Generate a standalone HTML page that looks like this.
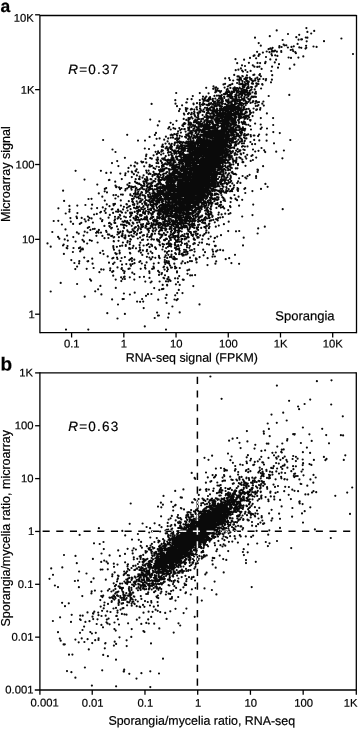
<!DOCTYPE html>
<html><head><meta charset="utf-8"><title>Figure</title>
<style>html,body{margin:0;padding:0;background:#fff;}body{width:358px;height:731px;overflow:hidden;font-family:"Liberation Sans",sans-serif;}svg{display:block;will-change:transform;}</style>
</head><body>
<svg width="358" height="731" viewBox="0 0 358 731" font-family="Liberation Sans, sans-serif" fill="#000" stroke="#000" stroke-width="0.2"><rect x="0" y="0" width="358" height="731" fill="#fff" stroke="none"/><path d="M208.6 185.8h0M203.0 220.5h0M201.0 201.5h0M221.7 139.3h0M167.6 149.9h0M212.3 215.7h0M256.3 83.4h0M192.3 207.4h0M193.6 204.1h0M200.3 169.6h0M198.5 150.3h0M223.7 147.0h0M238.4 143.7h0M178.1 167.1h0M209.7 173.5h0M200.9 178.6h0M177.2 293.1h0M185.8 203.6h0M207.8 185.5h0M179.2 276.1h0M233.2 137.8h0M194.2 128.7h0M204.1 184.6h0M231.0 103.1h0M212.8 100.4h0M206.6 174.6h0M169.7 169.4h0M189.3 225.4h0M216.0 186.2h0M186.0 174.5h0M210.2 172.7h0M218.3 142.6h0M251.5 89.4h0M191.6 134.1h0M204.2 192.3h0M218.0 135.5h0M220.8 158.6h0M247.0 81.3h0M195.9 208.6h0M225.6 127.7h0M225.6 145.5h0M198.5 217.0h0M199.9 174.1h0M193.0 211.2h0M194.5 187.2h0M193.4 197.5h0M216.8 115.4h0M206.5 177.3h0M213.9 173.8h0M174.3 215.3h0M222.5 157.6h0M199.2 183.1h0M210.4 107.6h0M208.4 160.7h0M224.0 152.9h0M212.0 126.9h0M137.0 206.7h0M207.0 159.8h0M140.3 261.2h0M220.2 182.3h0M192.1 183.8h0M191.3 187.1h0M174.6 190.8h0M223.4 127.0h0M189.4 166.6h0M196.5 141.5h0M201.8 162.4h0M211.6 116.5h0M191.9 250.1h0M193.6 137.7h0M188.4 190.4h0M196.0 150.0h0M141.3 215.8h0M231.9 189.4h0M185.3 123.5h0M200.2 210.9h0M96.4 235.8h0M175.9 222.0h0M225.8 180.2h0M183.2 126.1h0M174.3 134.2h0M196.8 228.7h0M197.9 178.5h0M201.7 132.2h0M175.1 217.7h0M168.7 187.4h0M196.3 180.2h0M236.4 159.4h0M195.1 163.4h0M215.3 141.5h0M253.1 101.2h0M208.7 216.2h0M187.4 169.6h0M203.0 178.0h0M197.0 152.8h0M169.7 198.6h0M228.6 96.4h0M183.6 158.9h0M205.0 98.4h0M188.5 121.8h0M140.2 249.5h0M192.4 189.0h0M217.0 165.3h0M185.4 175.5h0M172.3 215.6h0M214.7 155.5h0M204.0 182.3h0M186.8 191.5h0M205.2 156.9h0M222.0 175.0h0M176.3 200.2h0M160.9 223.3h0M191.6 127.1h0M179.9 230.8h0M242.6 83.3h0M213.5 198.8h0M172.8 205.9h0M230.8 124.5h0M213.9 164.3h0M205.5 206.6h0M221.1 91.0h0M230.2 186.1h0M182.2 203.6h0M195.5 174.4h0M179.5 195.8h0M207.4 139.5h0M210.6 135.1h0M124.9 157.8h0M224.0 132.0h0M208.2 155.8h0M140.1 237.4h0M192.9 180.6h0M234.8 155.0h0M215.9 146.1h0M157.0 239.4h0M222.4 167.1h0M134.5 263.2h0M194.2 174.7h0M185.1 175.2h0M168.9 220.3h0M204.5 197.7h0M208.1 181.4h0M186.8 165.1h0M172.9 216.6h0M203.8 163.5h0M161.6 227.1h0M227.6 110.0h0M186.8 165.5h0M181.1 175.1h0M170.1 238.8h0M179.6 143.1h0M187.3 205.3h0M182.5 190.8h0M165.3 194.9h0M177.7 186.2h0M148.2 253.6h0M204.4 154.1h0M206.1 161.9h0M212.7 135.8h0M215.7 105.1h0M244.1 137.4h0M189.5 224.9h0M181.2 210.2h0M234.2 119.8h0M197.5 183.7h0M193.8 170.8h0M194.6 182.8h0M228.7 189.2h0M220.8 150.8h0M187.5 245.0h0M186.1 169.4h0M200.3 186.1h0M223.5 186.8h0M222.7 132.7h0M239.8 108.3h0M218.1 163.4h0M193.6 200.1h0M204.1 206.5h0M189.7 196.3h0M229.2 119.9h0M156.7 224.4h0M221.1 204.8h0M180.8 216.5h0M198.3 175.5h0M198.0 225.0h0M222.5 103.9h0M232.7 98.4h0M225.1 94.2h0M212.9 143.4h0M205.7 142.8h0M223.7 133.3h0M192.1 180.0h0M215.2 101.5h0M187.1 182.3h0M217.3 129.7h0M177.5 191.0h0M245.4 94.6h0M222.6 151.3h0M173.7 232.8h0M169.9 177.0h0M188.2 206.1h0M160.4 189.0h0M195.2 184.4h0M217.8 134.0h0M181.2 180.7h0M217.9 101.7h0M164.9 204.7h0M207.0 244.1h0M170.9 212.3h0M226.6 105.1h0M226.8 154.8h0M217.0 152.2h0M235.2 119.8h0M144.0 185.9h0M155.8 204.2h0M276.2 151.7h0M175.8 213.8h0M174.9 204.1h0M224.1 123.0h0M198.5 200.4h0M145.5 217.4h0M220.0 134.9h0M194.0 180.6h0M200.7 187.1h0M195.0 184.2h0M210.5 116.4h0M170.0 189.3h0M135.2 186.5h0M204.9 207.8h0M146.4 205.0h0M199.8 153.4h0M211.0 195.4h0M166.3 214.6h0M185.1 219.5h0M216.0 128.9h0M241.0 97.0h0M191.1 188.3h0M206.2 137.7h0M213.0 179.6h0M162.2 235.7h0M177.5 159.7h0M202.5 143.4h0M206.9 168.4h0M146.5 189.0h0M239.3 117.5h0M213.6 159.9h0M244.9 123.9h0M175.3 189.5h0M188.8 208.7h0M171.0 159.5h0M191.1 158.9h0M197.4 177.2h0M220.1 137.8h0M211.8 142.6h0M205.0 153.7h0M178.8 168.5h0M219.4 113.1h0M189.2 198.8h0M201.6 181.2h0M216.9 149.9h0M237.4 112.2h0M201.5 200.0h0M191.2 123.4h0M213.1 123.8h0M218.0 123.3h0M216.1 113.1h0M204.9 222.6h0M220.2 145.7h0M207.1 150.7h0M182.0 209.1h0M209.6 185.3h0M211.4 133.3h0M195.0 166.0h0M190.2 217.7h0M210.3 159.3h0M208.0 194.2h0M229.1 116.5h0M197.3 196.0h0M161.8 201.6h0M157.2 208.0h0M189.6 190.6h0M151.8 158.7h0M232.5 108.9h0M209.6 175.0h0M185.5 199.3h0M213.4 133.9h0M224.3 145.3h0M195.5 176.8h0M199.4 198.3h0M211.4 220.3h0M236.1 122.4h0M228.2 132.8h0M188.7 204.5h0M194.5 187.7h0M193.9 195.3h0M165.6 298.1h0M191.0 233.2h0M139.8 210.6h0M177.0 201.6h0M211.5 161.6h0M158.5 187.4h0M216.0 132.8h0M168.2 199.5h0M190.9 199.3h0M199.3 195.3h0M218.7 167.1h0M210.6 159.6h0M187.7 164.4h0M236.6 99.5h0M192.5 210.8h0M214.4 177.4h0M160.8 160.7h0M200.5 178.0h0M144.0 195.4h0M212.9 160.0h0M185.5 208.7h0M181.8 226.1h0M214.6 160.7h0M225.8 124.7h0M159.0 199.6h0M167.2 285.4h0M233.8 126.5h0M184.9 194.4h0M179.7 208.0h0M117.0 226.4h0M235.3 121.9h0M217.5 115.5h0M134.3 274.1h0M216.1 120.6h0M203.1 131.6h0M188.9 180.8h0M216.4 167.3h0M196.5 198.5h0M244.6 133.8h0M199.3 224.6h0M198.9 138.1h0M190.7 200.7h0M243.4 109.8h0M228.1 170.2h0M209.7 99.3h0M180.9 151.7h0M214.1 151.5h0M179.3 195.2h0M179.8 168.2h0M236.0 106.9h0M134.7 292.7h0M117.6 218.6h0M172.8 225.2h0M214.5 142.5h0M211.3 161.5h0M225.2 139.6h0M224.7 122.2h0M228.5 99.4h0M174.0 173.4h0M195.0 121.9h0M205.5 131.5h0M192.1 213.4h0M207.0 171.4h0M240.6 132.7h0M186.4 190.2h0M154.3 145.3h0M207.3 175.9h0M222.5 147.6h0M172.1 174.7h0M129.1 186.1h0M198.1 176.8h0M218.3 161.6h0M137.6 203.3h0M167.7 215.7h0M204.3 132.0h0M201.4 124.4h0M186.3 119.9h0M165.9 262.2h0M159.5 234.3h0M201.8 140.2h0M72.9 252.0h0M235.6 136.6h0M177.4 173.7h0M195.2 172.8h0M142.7 224.8h0M234.8 102.0h0M178.9 151.9h0M194.2 183.3h0M225.0 109.4h0M224.2 141.0h0M160.8 169.3h0M159.3 217.1h0M178.6 199.7h0M210.2 208.5h0M149.5 199.7h0M191.7 193.9h0M161.6 211.6h0M193.5 191.3h0M202.0 196.9h0M210.7 150.1h0M221.8 130.0h0M188.4 199.2h0M208.7 129.7h0M166.9 226.1h0M129.6 183.0h0M200.4 153.7h0M148.7 232.1h0M215.6 127.8h0M206.5 174.6h0M229.5 115.4h0M174.9 248.0h0M208.8 180.8h0M85.4 205.0h0M215.4 147.5h0M180.4 204.7h0M185.4 193.4h0M160.6 187.6h0M186.5 238.6h0M225.1 165.9h0M214.6 163.8h0M185.0 192.4h0M187.7 209.4h0M217.8 154.4h0M215.4 190.2h0M239.3 136.8h0M198.4 178.4h0M184.7 200.7h0M229.7 109.2h0M189.4 196.0h0M231.5 91.7h0M182.0 243.0h0M184.8 169.7h0M186.2 163.2h0M191.7 195.2h0M184.1 175.5h0M180.2 196.4h0M191.7 113.9h0M205.1 179.5h0M194.7 179.1h0M165.3 230.3h0M235.7 101.7h0M202.7 168.0h0M175.2 186.4h0M221.6 178.3h0M219.7 111.4h0M206.3 182.6h0M235.4 138.9h0M205.4 134.7h0M178.0 216.7h0M201.6 135.0h0M213.0 168.1h0M176.7 198.5h0M161.5 193.9h0M212.4 178.6h0M194.0 205.4h0M180.8 169.4h0M208.1 185.3h0M184.4 207.1h0M227.8 191.0h0M214.7 187.4h0M191.3 162.8h0M188.8 179.1h0M185.4 161.7h0M188.3 197.8h0M204.7 159.9h0M208.5 169.5h0M185.4 199.1h0M165.9 173.4h0M190.6 154.8h0M199.9 208.2h0M217.9 159.9h0M173.3 210.9h0M178.8 202.6h0M196.9 167.4h0M187.3 194.5h0M204.8 99.9h0M221.9 161.0h0M160.4 213.4h0M195.7 181.2h0M138.9 179.0h0M193.0 189.7h0M221.6 190.9h0M143.4 181.7h0M233.2 164.5h0M226.5 132.7h0M195.4 148.9h0M178.9 149.0h0M215.4 165.6h0M168.9 313.7h0M217.8 156.6h0M194.7 167.4h0M177.3 158.8h0M205.3 181.4h0M118.9 237.2h0M189.5 218.7h0M170.7 159.5h0M181.3 145.4h0M138.3 217.8h0M214.6 172.4h0M147.4 191.7h0M208.3 111.2h0M186.3 214.5h0M210.9 151.6h0M225.8 172.5h0M237.1 135.1h0M214.6 164.4h0M189.0 208.4h0M135.6 208.3h0M180.4 170.2h0M175.5 200.5h0M196.1 168.6h0M176.8 159.0h0M174.8 177.8h0M200.6 135.6h0M220.5 152.1h0M193.5 193.8h0M175.3 200.8h0M221.2 106.9h0M189.9 196.6h0M163.0 206.9h0M195.0 167.2h0M200.0 108.4h0M198.3 191.4h0M231.6 142.4h0M195.7 187.6h0M210.0 159.4h0M199.6 187.0h0M252.1 144.2h0M201.4 170.5h0M167.6 175.6h0M167.1 186.4h0M224.0 135.9h0M186.9 245.5h0M218.8 148.5h0M218.5 150.7h0M214.2 143.9h0M185.9 109.7h0M176.8 164.7h0M140.3 201.0h0M178.0 194.1h0M191.7 134.7h0M222.4 124.5h0M204.3 152.7h0M104.8 200.6h0M214.0 171.8h0M185.7 227.2h0M157.5 188.9h0M193.6 185.4h0M201.2 200.5h0M177.5 198.5h0M216.4 155.5h0M214.1 144.0h0M223.2 166.3h0M200.5 171.9h0M218.0 125.4h0M206.9 166.7h0M201.7 187.3h0M224.1 124.3h0M213.3 124.7h0M203.9 131.0h0M202.8 147.7h0M146.8 245.2h0M236.0 96.6h0M219.3 132.7h0M216.1 129.5h0M198.4 170.3h0M240.0 91.5h0M219.2 168.6h0M232.3 129.2h0M199.8 145.8h0M187.6 203.5h0M211.3 132.8h0M189.3 185.0h0M197.3 162.9h0M188.8 164.1h0M123.9 206.8h0M175.2 128.8h0M175.4 227.4h0M193.9 219.6h0M167.7 190.0h0M234.7 104.8h0M180.2 189.5h0M198.8 183.3h0M163.4 201.0h0M210.6 137.6h0M164.0 240.1h0M70.4 218.1h0M225.6 120.2h0M205.0 151.9h0M191.6 99.2h0M187.9 208.8h0M171.4 224.8h0M163.5 277.8h0M200.2 184.5h0M179.2 189.8h0M162.9 191.0h0M176.2 180.3h0M153.9 239.6h0M222.8 184.1h0M228.6 154.5h0M185.8 174.4h0M230.5 93.4h0M190.6 195.6h0M195.9 192.5h0M186.9 164.5h0M134.7 211.9h0M212.4 199.1h0M219.1 154.6h0M200.3 112.2h0M190.6 123.6h0M190.9 132.8h0M211.1 150.4h0M206.8 167.4h0M161.2 228.8h0M178.6 147.0h0M177.3 220.8h0M203.1 191.2h0M175.9 212.3h0M191.9 162.5h0M252.0 80.5h0M179.8 202.8h0M190.8 142.3h0M221.6 125.5h0M126.9 204.4h0M202.1 191.8h0M220.4 137.3h0M191.4 145.5h0M173.7 233.2h0M235.7 145.6h0M98.8 193.4h0M219.1 123.1h0M204.3 206.5h0M176.5 120.8h0M192.5 174.7h0M207.8 100.2h0M192.9 178.2h0M118.5 211.2h0M198.1 113.8h0M191.9 146.4h0M185.1 200.2h0M197.2 184.1h0M212.9 151.6h0M207.2 186.2h0M208.4 168.2h0M187.4 213.7h0M189.6 149.0h0M179.5 199.3h0M267.6 186.8h0M218.5 197.4h0M214.0 159.6h0M204.1 195.7h0M201.9 193.0h0M194.7 160.7h0M253.5 96.9h0M152.1 246.1h0M184.2 194.5h0M258.1 136.1h0M134.8 196.3h0M214.4 147.0h0M161.3 169.8h0M159.4 213.3h0M197.7 167.5h0M202.3 148.3h0M210.4 150.6h0M213.2 112.1h0M212.2 138.4h0M187.1 146.0h0M210.7 130.9h0M187.4 108.6h0M207.4 169.4h0M190.0 137.7h0M195.2 197.2h0M159.6 227.0h0M204.3 146.3h0M209.9 180.5h0M198.3 173.7h0M194.2 111.6h0M227.6 122.2h0M202.0 170.3h0M162.7 205.1h0M203.6 109.5h0M193.6 182.8h0M167.5 214.2h0M208.1 214.6h0M239.2 84.0h0M222.2 175.3h0M221.5 158.5h0M168.2 199.6h0M212.7 111.2h0M226.9 145.1h0M173.0 206.2h0M200.9 169.8h0M193.9 168.0h0M119.4 250.7h0M193.8 152.5h0M214.1 102.4h0M170.6 161.2h0M214.1 127.5h0M245.2 113.2h0M216.3 180.1h0M165.0 240.2h0M195.2 181.2h0M197.5 188.0h0M235.3 153.0h0M198.1 180.4h0M172.0 198.7h0M183.4 182.2h0M197.7 204.9h0M230.5 178.3h0M203.9 135.1h0M145.0 181.6h0M208.4 172.1h0M217.0 129.7h0M193.3 185.2h0M198.3 206.8h0M222.0 124.1h0M142.5 177.7h0M102.3 196.7h0M201.1 162.5h0M187.5 145.8h0M207.8 158.9h0M165.7 177.4h0M179.1 191.8h0M135.7 179.2h0M217.3 118.7h0M167.8 206.9h0M190.1 227.4h0M249.1 117.5h0M208.4 142.9h0M190.0 131.0h0M207.4 211.6h0M179.3 223.6h0M236.5 103.2h0M214.1 154.1h0M233.5 134.2h0M221.0 169.8h0M184.4 226.7h0M235.4 110.4h0M202.0 130.6h0M184.2 171.7h0M193.4 175.5h0M185.8 198.0h0M200.7 166.3h0M224.2 125.3h0M205.7 156.7h0M145.1 265.3h0M115.4 198.5h0M232.2 120.5h0M189.0 205.6h0M189.9 151.3h0M189.6 202.2h0M243.3 90.1h0M176.5 215.3h0M184.8 129.1h0M173.1 168.3h0M174.5 189.4h0M233.6 173.9h0M202.6 129.6h0M209.7 124.9h0M171.2 147.8h0M220.6 105.6h0M218.8 138.0h0M184.3 123.2h0M136.7 169.3h0M219.0 157.0h0M193.5 182.0h0M197.7 147.3h0M241.7 99.7h0M218.7 153.9h0M132.0 199.1h0M208.2 143.8h0M216.3 162.7h0M167.1 199.0h0M195.3 162.9h0M190.7 218.3h0M164.2 225.7h0M183.4 151.3h0M167.9 196.9h0M185.6 143.5h0M231.3 125.0h0M163.1 166.4h0M206.5 183.5h0M120.4 231.7h0M220.8 126.1h0M150.2 194.4h0M191.3 170.4h0M233.0 123.5h0M185.9 254.6h0M207.2 192.7h0M218.6 123.0h0M175.0 222.4h0M228.3 117.9h0M231.8 115.6h0M192.1 154.0h0M206.0 232.7h0M235.0 99.4h0M193.2 225.7h0M203.2 184.5h0M239.7 109.6h0M164.2 180.1h0M190.1 168.6h0M163.8 179.7h0M177.4 197.0h0M184.0 191.0h0M176.6 300.2h0M179.3 128.1h0M230.0 206.2h0M199.1 163.4h0M201.2 202.4h0M204.4 219.3h0M60.7 282.9h0M205.6 145.3h0M231.9 168.0h0M183.9 236.2h0M184.7 159.0h0M154.9 233.7h0M205.1 162.8h0M164.6 159.2h0M186.7 199.2h0M184.3 170.0h0M183.4 167.5h0M212.2 160.5h0M245.5 165.8h0M224.7 125.0h0M234.0 108.0h0M181.0 198.9h0M177.0 179.7h0M192.7 190.4h0M203.9 204.8h0M215.9 140.1h0M224.0 140.6h0M205.4 146.9h0M239.4 150.4h0M142.5 199.7h0M211.4 159.1h0M213.9 152.9h0M196.9 186.9h0M195.6 133.2h0M189.2 118.6h0M181.3 192.9h0M185.1 199.2h0M184.1 149.4h0M164.5 186.9h0M237.3 99.8h0M215.3 162.6h0M179.8 181.1h0M197.8 143.5h0M190.2 156.0h0M227.4 184.3h0M199.6 182.3h0M218.1 127.6h0M202.0 193.8h0M251.0 112.8h0M187.5 251.8h0M188.0 135.8h0M209.8 143.5h0M201.9 135.4h0M145.3 281.6h0M184.7 148.1h0M182.3 183.8h0M115.7 279.6h0M174.6 238.3h0M230.6 102.6h0M163.6 175.3h0M151.2 183.4h0M165.8 193.4h0M214.4 154.5h0M212.9 153.5h0M244.9 82.1h0M175.3 100.2h0M182.8 178.2h0M213.4 111.8h0M208.9 135.8h0M180.9 154.2h0M219.3 110.5h0M220.6 98.6h0M258.2 228.4h0M209.5 166.1h0M208.2 136.2h0M183.5 194.0h0M239.6 87.7h0M215.9 142.3h0M151.1 244.6h0M172.6 220.6h0M215.6 186.9h0M240.1 115.8h0M213.5 152.3h0M246.8 97.5h0M217.0 138.4h0M206.3 96.5h0M190.2 122.5h0M173.3 186.6h0M222.9 117.3h0M226.8 127.9h0M192.2 221.7h0M194.1 154.5h0M189.4 154.1h0M233.9 114.3h0M211.4 204.0h0M176.3 190.8h0M199.4 177.9h0M211.2 185.1h0M229.9 117.3h0M208.5 144.5h0M143.6 181.7h0M193.8 239.5h0M189.0 206.8h0M192.0 187.3h0M185.2 175.0h0M219.9 91.5h0M170.8 219.1h0M225.2 109.6h0M242.3 123.0h0M135.4 192.4h0M201.9 206.1h0M181.7 202.8h0M214.9 167.9h0M185.6 131.6h0M234.8 100.2h0M195.7 211.9h0M164.8 260.0h0M183.1 142.2h0M166.5 214.4h0M209.1 162.4h0M158.1 151.4h0M163.9 173.6h0M244.5 86.6h0M179.1 166.9h0M223.8 135.3h0M135.8 194.4h0M125.5 173.3h0M140.1 214.9h0M217.6 220.3h0M189.4 152.1h0M209.5 147.3h0M174.3 233.2h0M175.1 173.5h0M244.7 116.5h0M231.6 103.7h0M167.3 279.1h0M153.3 181.2h0M177.0 106.2h0M133.9 174.2h0M192.3 173.5h0M195.2 166.1h0M182.0 239.0h0M197.4 237.7h0M217.2 122.2h0M214.5 127.2h0M207.7 163.0h0M201.6 209.2h0M156.3 185.7h0M194.8 196.2h0M187.2 180.9h0M208.3 137.0h0M191.7 206.9h0M219.0 90.9h0M160.5 193.0h0M224.0 134.5h0M197.7 170.0h0M152.5 257.2h0M189.0 177.1h0M233.8 106.9h0M192.6 165.4h0M200.6 189.2h0M232.9 106.9h0M242.0 143.4h0M249.5 93.2h0M214.9 177.2h0M195.4 160.0h0M198.5 173.4h0M196.6 149.4h0M261.0 188.9h0M213.5 130.9h0M182.8 222.6h0M193.3 244.1h0M166.7 172.3h0M180.5 169.3h0M157.8 213.3h0M188.9 148.6h0M148.5 204.9h0M198.8 148.2h0M205.6 195.2h0M215.4 154.3h0M192.6 183.6h0M171.7 228.0h0M200.3 106.2h0M190.7 205.5h0M201.0 177.4h0M180.6 159.7h0M208.0 156.3h0M220.9 110.2h0M201.0 144.2h0M167.1 185.6h0M212.5 116.7h0M165.5 190.1h0M175.0 245.6h0M169.1 263.7h0M179.7 218.8h0M171.4 205.4h0M209.7 131.7h0M205.0 252.2h0M179.8 135.8h0M208.7 214.9h0M180.8 216.5h0M192.2 185.5h0M184.3 175.3h0M211.4 135.4h0M169.1 175.1h0M181.0 148.7h0M218.1 122.4h0M170.6 122.8h0M193.4 204.7h0M192.5 226.9h0M157.8 125.4h0M217.2 90.4h0M214.5 145.0h0M223.7 124.0h0M218.8 133.5h0M199.1 181.6h0M210.8 164.6h0M212.0 165.4h0M236.6 136.3h0M189.6 189.7h0M220.0 148.5h0M143.2 162.0h0M196.0 169.1h0M139.3 222.1h0M229.2 142.5h0M221.5 195.1h0M219.2 151.1h0M138.6 219.8h0M200.3 161.5h0M197.4 173.6h0M178.3 216.4h0M205.1 190.5h0M235.3 116.0h0M173.0 124.5h0M183.7 279.8h0M224.3 98.0h0M188.8 150.0h0M194.8 243.4h0M234.2 91.5h0M193.5 128.9h0M189.2 137.5h0M226.3 114.3h0M210.6 170.1h0M214.1 182.5h0M203.9 152.3h0M215.3 119.0h0M205.0 206.0h0M168.7 205.1h0M214.5 179.5h0M223.7 124.6h0M198.5 177.4h0M185.1 186.2h0M204.8 165.3h0M163.7 214.0h0M188.6 161.0h0M193.5 174.2h0M211.6 120.1h0M198.4 179.6h0M184.3 200.4h0M178.7 196.4h0M207.6 144.0h0M150.6 282.5h0M212.5 195.2h0M200.9 164.8h0M188.9 163.8h0M174.6 201.9h0M225.5 131.4h0M185.4 187.2h0M182.3 195.1h0M190.5 174.7h0M178.0 215.7h0M204.0 169.7h0M204.9 169.3h0M176.7 147.9h0M141.3 226.0h0M115.5 152.0h0M207.9 192.7h0M225.8 163.2h0M195.5 231.6h0M171.4 237.3h0M244.4 98.3h0M159.3 289.9h0M186.6 183.8h0M200.1 111.3h0M179.7 172.7h0M219.2 104.8h0M207.5 178.1h0M236.4 133.0h0M194.5 158.4h0M213.0 150.5h0M196.2 183.5h0M159.4 207.5h0M117.8 232.1h0M179.9 153.6h0M160.1 180.2h0M240.5 84.2h0M201.1 158.9h0M159.5 244.6h0M219.6 121.0h0M183.4 215.0h0M166.9 188.5h0M220.0 149.1h0M140.8 201.8h0M210.2 148.5h0M180.6 219.9h0M212.1 113.4h0M194.2 121.1h0M193.9 198.5h0M185.0 167.6h0M229.0 126.4h0M206.9 174.4h0M208.1 149.5h0M194.5 178.2h0M209.9 197.8h0M182.1 212.8h0M212.2 107.5h0M196.5 182.5h0M171.9 267.5h0M203.6 168.7h0M187.4 200.7h0M219.7 116.6h0M171.8 215.7h0M155.2 181.5h0M136.0 218.6h0M198.8 202.9h0M158.8 214.9h0M230.9 107.0h0M122.8 194.7h0M218.0 134.9h0M194.4 145.3h0M243.6 153.1h0M168.5 182.4h0M150.9 186.1h0M188.8 230.0h0M250.7 90.1h0M176.3 134.3h0M208.0 157.7h0M202.0 206.9h0M166.4 178.2h0M205.8 174.3h0M170.2 199.6h0M165.2 188.7h0M202.1 148.6h0M217.4 114.4h0M168.6 169.0h0M212.3 217.0h0M173.4 183.1h0M216.1 105.9h0M211.2 166.6h0M201.7 160.4h0M224.8 181.5h0M181.5 182.0h0M174.8 239.0h0M207.4 154.8h0M204.2 163.1h0M186.4 184.7h0M168.9 218.2h0M212.0 193.8h0M183.6 169.9h0M165.6 206.5h0M190.1 171.5h0M176.9 246.5h0M214.7 147.6h0M232.3 122.7h0M144.9 208.7h0M212.0 149.5h0M171.9 211.3h0M184.8 184.2h0M200.2 174.0h0M191.3 114.4h0M185.7 202.8h0M229.1 109.3h0M113.4 247.8h0M172.2 216.3h0M240.4 150.3h0M209.5 122.8h0M191.2 218.0h0M193.1 170.9h0M207.6 122.2h0M176.6 172.9h0M204.4 142.5h0M229.7 163.0h0M202.2 187.3h0M152.2 224.9h0M195.8 204.6h0M216.5 128.8h0M183.0 170.6h0M203.3 172.2h0M123.8 277.1h0M198.3 114.4h0M214.0 174.2h0M121.0 224.6h0M209.4 162.0h0M181.1 144.7h0M193.5 178.8h0M203.1 152.5h0M148.7 228.5h0M188.0 113.9h0M213.1 136.4h0M225.0 113.7h0M164.4 194.4h0M207.6 149.0h0M190.8 221.1h0M154.5 219.7h0M175.1 232.0h0M189.0 143.9h0M254.3 74.7h0M211.3 160.7h0M214.9 245.8h0M196.9 200.0h0M232.9 107.7h0M208.1 193.4h0M123.8 225.4h0M185.9 250.0h0M172.8 194.8h0M160.0 213.8h0M205.8 210.4h0M207.9 157.3h0M248.8 117.0h0M150.2 196.0h0M226.1 124.5h0M192.4 160.3h0M151.4 294.0h0M150.5 179.2h0M208.8 175.3h0M175.2 237.2h0M190.1 147.8h0M117.5 318.5h0M148.5 224.0h0M222.0 157.9h0M203.1 153.4h0M216.1 122.5h0M181.3 225.0h0M217.1 133.1h0M244.1 87.3h0M186.9 218.9h0M197.2 183.1h0M201.9 190.4h0M156.3 196.6h0M231.4 102.7h0M219.1 115.5h0M198.8 173.0h0M228.7 105.0h0M183.1 173.5h0M176.7 196.9h0M213.1 189.0h0M178.6 185.0h0M209.2 103.9h0M220.3 141.0h0M190.7 220.5h0M217.7 121.9h0M198.7 176.5h0M215.5 104.9h0M163.9 233.2h0M230.9 130.7h0M212.2 163.3h0M198.6 177.9h0M179.8 195.1h0M87.3 232.5h0M190.1 197.0h0M211.6 155.9h0M238.1 111.7h0M217.0 193.9h0M171.5 254.5h0M247.0 92.6h0M136.7 201.3h0M231.7 131.4h0M210.7 168.8h0M214.6 175.4h0M208.2 184.7h0M168.4 277.2h0M210.2 191.9h0M189.6 161.3h0M196.3 194.7h0M213.2 169.5h0M185.8 163.6h0M181.4 158.1h0M203.6 172.3h0M211.8 147.4h0M220.3 141.9h0M227.6 126.6h0M184.6 166.6h0M216.5 149.0h0M195.3 209.7h0M168.5 211.4h0M200.7 155.5h0M147.3 185.2h0M198.1 221.6h0M229.2 157.4h0M164.2 178.7h0M210.2 167.0h0M203.4 188.3h0M148.4 243.9h0M214.9 124.8h0M129.2 248.0h0M171.2 189.8h0M185.8 204.0h0M207.2 186.8h0M177.9 215.1h0M225.2 153.3h0M190.5 194.0h0M189.1 145.0h0M216.4 173.9h0M206.3 191.3h0M203.2 135.6h0M260.4 108.1h0M189.0 203.3h0M182.5 205.7h0M237.4 189.8h0M158.1 152.7h0M125.6 189.0h0M233.9 113.7h0M184.4 189.5h0M172.7 180.9h0M213.4 185.0h0M211.3 167.4h0M190.6 139.3h0M170.8 195.8h0M218.3 169.2h0M230.7 197.9h0M164.7 158.0h0M230.8 114.6h0M181.9 177.5h0M151.4 185.6h0M165.6 226.7h0M133.9 218.5h0M214.3 107.0h0M225.1 201.0h0M218.1 144.6h0M199.8 192.9h0M211.8 159.8h0M215.5 152.8h0M211.2 171.8h0M170.8 176.2h0M180.1 192.6h0M203.5 187.1h0M172.3 191.0h0M195.5 160.3h0M207.1 190.9h0M225.2 155.7h0M179.1 184.1h0M183.0 168.7h0M202.9 179.5h0M240.3 92.8h0M183.8 172.9h0M222.1 138.5h0M211.0 160.5h0M228.3 111.3h0M232.9 188.9h0M198.1 219.7h0M216.0 156.8h0M235.7 118.3h0M234.1 185.3h0M243.4 122.6h0M144.2 219.3h0M226.6 121.7h0M206.6 157.7h0M186.4 172.5h0M226.4 120.8h0M211.4 152.3h0M210.4 146.6h0M176.2 194.5h0M177.0 271.4h0M173.4 157.8h0M194.7 203.3h0M221.7 125.1h0M198.0 181.3h0M152.0 165.8h0M230.4 148.3h0M138.5 207.5h0M165.0 198.1h0M234.5 123.9h0M190.6 148.9h0M170.5 207.1h0M77.1 284.0h0M183.0 184.5h0M179.8 215.4h0M175.1 268.3h0M179.3 197.4h0M194.3 187.7h0M220.3 138.7h0M191.7 158.7h0M175.0 185.6h0M208.9 228.2h0M192.9 150.1h0M219.0 161.6h0M236.5 95.1h0M210.3 192.8h0M187.9 167.0h0M189.6 204.2h0M218.1 140.6h0M185.5 189.2h0M194.4 190.5h0M183.9 169.2h0M216.0 133.5h0M195.4 162.5h0M196.9 197.9h0M216.2 133.6h0M202.6 115.1h0M192.5 169.1h0M212.6 140.7h0M145.6 204.6h0M200.6 206.8h0M178.1 236.0h0M191.3 210.1h0M173.4 188.0h0M210.7 133.3h0M195.2 207.6h0M152.5 196.1h0M190.9 198.1h0M191.3 192.9h0M167.4 208.6h0M212.0 149.6h0M164.5 190.4h0M200.3 174.8h0M182.9 154.7h0M182.5 153.4h0M236.0 127.9h0M183.7 172.1h0M162.2 158.5h0M214.5 164.6h0M159.0 212.0h0M104.7 191.3h0M188.6 191.2h0M179.8 268.0h0M219.6 138.2h0M220.6 173.9h0M223.0 115.6h0M211.3 161.3h0M137.8 238.5h0M228.2 114.1h0M224.5 199.3h0M184.9 214.3h0M199.9 174.0h0M134.3 204.2h0M193.6 166.7h0M180.3 156.7h0M215.9 173.6h0M203.7 134.5h0M213.5 150.9h0M189.6 150.6h0M195.1 275.1h0M183.9 154.4h0M216.2 139.9h0M257.6 233.5h0M226.2 124.8h0M136.0 248.3h0M187.1 212.2h0M205.5 188.0h0M212.9 165.3h0M154.9 134.9h0M227.1 118.5h0M188.5 118.0h0M229.8 156.1h0M204.0 163.0h0M160.3 227.3h0M205.5 176.8h0M169.4 279.6h0M158.8 195.3h0M239.3 126.2h0M190.5 178.6h0M188.3 128.5h0M246.1 101.6h0M200.2 235.3h0M222.6 154.7h0M223.9 133.7h0M210.0 117.6h0M204.6 188.5h0M224.1 168.9h0M254.7 89.4h0M211.4 194.7h0M187.8 144.0h0M198.7 202.1h0M211.2 171.8h0M163.3 176.7h0M165.7 168.5h0M172.8 190.8h0M164.2 278.3h0M188.8 204.2h0M224.6 110.1h0M197.4 172.5h0M212.5 140.7h0M226.0 117.7h0M224.0 134.6h0M219.2 142.7h0M166.8 243.9h0M189.6 197.9h0M166.8 212.2h0M200.5 193.0h0M198.9 151.9h0M224.6 161.1h0M201.0 166.7h0M213.5 149.0h0M186.7 164.6h0M175.9 200.9h0M229.2 111.8h0M211.5 146.8h0M186.2 170.8h0M162.1 190.8h0M191.9 187.8h0M189.3 195.7h0M230.8 118.3h0M232.7 132.2h0M203.2 151.1h0M171.5 147.5h0M182.0 199.1h0M158.6 191.5h0M243.2 99.4h0M216.8 149.6h0M166.2 204.9h0M155.3 227.5h0M192.1 182.8h0M146.1 156.1h0M212.2 156.9h0M184.1 186.6h0M228.7 214.0h0M185.8 155.1h0M237.9 133.9h0M241.0 79.7h0M233.4 124.6h0M153.9 211.9h0M202.9 185.7h0M134.3 279.6h0M214.3 110.2h0M202.9 158.2h0M189.4 204.0h0M196.6 189.3h0M245.3 109.5h0M221.7 162.3h0M128.9 187.0h0M180.0 191.9h0M128.5 167.9h0M211.0 133.4h0M179.2 248.4h0M171.3 169.5h0M159.1 194.9h0M198.6 176.7h0M222.4 112.9h0M233.0 141.1h0M232.2 108.6h0M223.8 133.9h0M237.4 135.4h0M192.6 163.8h0M208.3 152.7h0M185.6 157.8h0M184.5 206.8h0M246.9 94.7h0M240.0 117.9h0M180.6 205.5h0M181.0 176.6h0M185.5 166.5h0M184.7 145.5h0M199.7 177.4h0M231.4 138.8h0M77.4 213.1h0M126.9 207.8h0M225.6 152.7h0M192.8 96.1h0M181.5 218.4h0M184.9 149.7h0M211.2 188.9h0M190.0 213.0h0M187.1 204.3h0M190.6 213.8h0M199.7 171.9h0M187.2 210.5h0M224.1 168.9h0M225.5 145.0h0M185.4 171.0h0M191.5 154.4h0M179.0 200.4h0M174.2 208.9h0M222.6 125.3h0M209.1 129.4h0M212.9 160.3h0M200.9 169.1h0M176.1 241.8h0M171.4 234.3h0M179.0 249.4h0M158.1 196.2h0M231.0 190.9h0M216.1 145.9h0M215.6 159.0h0M258.1 79.5h0M196.3 209.1h0M220.4 146.7h0M229.9 112.6h0M204.2 151.9h0M175.3 152.9h0M190.6 195.6h0M241.9 84.0h0M209.3 140.1h0M217.5 220.3h0M131.9 212.5h0M193.2 186.2h0M212.6 179.2h0M226.9 138.9h0M197.5 216.0h0M154.4 199.7h0M162.9 174.4h0M227.3 128.8h0M210.8 137.9h0M226.6 159.7h0M210.8 153.9h0M231.3 108.0h0M209.1 162.9h0M193.1 167.5h0M214.0 148.2h0M191.3 160.3h0M207.9 154.1h0M195.8 159.5h0M196.7 185.2h0M146.8 172.7h0M170.6 135.0h0M195.6 203.9h0M201.1 174.4h0M180.5 168.6h0M183.4 194.5h0M160.6 198.7h0M210.7 211.5h0M143.6 206.0h0M216.2 190.1h0M155.4 195.3h0M225.4 128.2h0M180.3 193.1h0M206.3 143.6h0M224.3 144.1h0M232.9 121.3h0M198.8 161.8h0M223.8 94.0h0M244.4 188.9h0M223.5 198.2h0M186.3 201.4h0M218.4 123.0h0M200.2 187.4h0M180.4 209.9h0M245.0 100.5h0M188.3 134.3h0M212.6 145.5h0M184.3 169.0h0M234.5 130.8h0M221.7 177.1h0M206.2 155.5h0M199.4 188.7h0M216.5 176.3h0M183.4 191.8h0M196.1 142.5h0M204.3 193.9h0M194.6 196.8h0M183.5 195.4h0M256.2 110.0h0M175.7 236.4h0M154.3 181.0h0M216.2 146.2h0M201.7 166.0h0M223.4 174.9h0M197.7 174.9h0M210.4 142.7h0M222.3 145.1h0M209.3 157.9h0M149.9 202.1h0M205.4 166.3h0M227.1 101.4h0M219.4 167.9h0M245.5 135.6h0M215.6 89.9h0M130.5 259.2h0M194.3 149.1h0M182.8 176.9h0M184.1 157.2h0M230.8 105.9h0M194.8 221.3h0M134.3 231.7h0M189.9 133.2h0M164.4 164.2h0M230.1 159.1h0M235.2 129.9h0M154.5 189.4h0M144.4 202.2h0M187.3 199.6h0M206.9 190.7h0M248.6 92.8h0M217.4 140.0h0M207.4 174.6h0M193.9 193.4h0M194.0 160.6h0M226.1 167.6h0M178.9 210.2h0M218.9 95.7h0M198.5 145.6h0M180.5 148.6h0M162.7 284.9h0M238.4 139.7h0M210.1 104.1h0M217.5 164.0h0M245.2 188.2h0M225.4 127.5h0M151.3 210.1h0M191.9 134.8h0M181.5 193.6h0M181.8 129.0h0M144.7 217.3h0M213.0 135.6h0M183.6 196.4h0M196.5 209.9h0M174.8 143.7h0M246.8 115.7h0M209.7 181.9h0M210.9 172.9h0M186.3 170.8h0M230.6 202.1h0M194.1 169.1h0M223.3 172.7h0M213.7 171.7h0M182.4 168.2h0M189.5 162.8h0M241.9 128.8h0M222.8 149.3h0M210.2 145.1h0M216.2 142.7h0M186.7 202.3h0M211.5 120.1h0M213.8 136.2h0M174.4 175.8h0M201.4 151.5h0M220.0 141.6h0M186.3 159.1h0M208.5 173.2h0M192.2 190.6h0M181.4 254.2h0M192.5 212.1h0M230.4 165.5h0M209.5 167.9h0M212.2 163.9h0M211.6 141.4h0M181.5 239.2h0M213.7 110.0h0M213.0 136.2h0M202.3 189.4h0M194.2 182.3h0M217.1 147.0h0M141.3 232.2h0M221.0 163.2h0M181.5 182.9h0M234.6 115.3h0M175.8 219.1h0M235.8 117.9h0M197.2 161.5h0M150.9 218.0h0M112.2 235.8h0M163.7 222.0h0M151.5 208.3h0M226.6 140.5h0M248.3 99.0h0M153.6 167.9h0M207.6 108.6h0M174.8 244.4h0M255.6 86.6h0M215.9 153.2h0M220.9 135.9h0M245.2 90.7h0M206.7 172.9h0M245.8 111.8h0M186.5 221.1h0M160.1 191.9h0M196.7 158.7h0M182.2 210.4h0M163.4 204.1h0M203.9 153.3h0M166.2 211.3h0M140.9 229.3h0M203.2 185.3h0M195.3 156.5h0M127.2 221.2h0M136.5 234.8h0M207.7 155.9h0M250.0 114.2h0M185.8 214.7h0M213.2 189.7h0M220.9 140.4h0M146.2 180.0h0M214.3 151.0h0M150.7 226.0h0M180.1 155.3h0M197.7 134.8h0M250.6 102.9h0M153.6 155.3h0M139.7 277.1h0M240.4 138.3h0M209.7 168.6h0M103.6 254.1h0M243.7 85.1h0M194.7 149.3h0M176.6 207.4h0M234.4 116.3h0M147.3 228.9h0M172.4 209.3h0M238.5 125.6h0M151.5 182.5h0M183.7 178.8h0M196.6 192.5h0M184.9 150.8h0M192.4 160.3h0M189.0 141.7h0M212.6 148.8h0M208.1 131.4h0M189.4 222.1h0M194.0 218.4h0M207.0 157.5h0M181.0 192.5h0M202.8 172.0h0M212.2 147.3h0M165.7 156.2h0M189.3 247.8h0M210.4 155.2h0M206.2 181.2h0M128.8 235.9h0M221.1 149.6h0M239.1 205.7h0M231.3 120.1h0M151.8 196.6h0M182.4 205.4h0M178.2 209.7h0M169.9 257.1h0M183.5 194.3h0M174.9 259.4h0M202.9 147.0h0M204.0 175.3h0M203.5 137.6h0M228.2 113.6h0M214.8 166.5h0M176.5 195.2h0M194.3 201.8h0M225.7 92.5h0M160.9 234.5h0M207.6 142.6h0M237.6 148.9h0M161.3 209.0h0M213.4 219.8h0M151.2 197.0h0M205.4 154.1h0M212.7 169.1h0M190.4 209.3h0M172.3 157.1h0M152.2 205.2h0M207.9 202.2h0M173.1 169.7h0M185.9 220.3h0M194.5 160.4h0M185.7 198.5h0M226.3 187.2h0M227.5 153.9h0M208.8 176.4h0M139.5 183.9h0M201.4 176.9h0M225.3 119.4h0M159.6 281.5h0M194.3 249.0h0M203.4 101.0h0M177.5 235.5h0M198.9 176.3h0M210.3 122.4h0M207.9 207.3h0M175.3 165.8h0M189.8 194.5h0M181.2 208.2h0M146.8 177.0h0M206.5 104.8h0M156.9 207.6h0M210.6 192.5h0M205.2 223.5h0M219.4 145.9h0M187.0 202.6h0M120.2 215.6h0M209.3 156.9h0M193.0 163.3h0M222.6 154.3h0M258.5 84.0h0M241.9 140.3h0M216.9 154.0h0M234.0 119.0h0M159.7 200.3h0M203.5 165.2h0M147.7 180.1h0M222.1 147.8h0M181.6 157.5h0M180.9 198.8h0M182.6 169.8h0M183.5 183.0h0M208.5 164.7h0M175.3 179.0h0M183.1 220.5h0M192.5 145.5h0M216.9 175.0h0M174.3 191.9h0M237.9 114.3h0M243.0 245.4h0M106.3 172.9h0M194.5 142.3h0M180.5 199.7h0M199.4 206.6h0M181.2 186.3h0M181.2 225.1h0M214.1 114.8h0M205.0 175.9h0M156.5 197.7h0M189.7 225.3h0M119.1 187.4h0M148.8 183.5h0M227.8 160.8h0M197.6 180.4h0M175.6 178.7h0M214.8 222.3h0M196.6 208.2h0M217.1 197.0h0M161.8 227.4h0M235.5 109.4h0M192.2 200.7h0M164.1 169.2h0M202.0 198.7h0M207.0 149.4h0M230.1 169.6h0M216.4 207.9h0M221.7 100.2h0M198.7 148.7h0M201.7 171.8h0M188.5 211.9h0M204.1 145.8h0M177.9 207.6h0M227.1 142.2h0M215.0 150.3h0M212.4 178.6h0M194.8 188.6h0M153.3 216.9h0M130.0 216.8h0M223.3 143.0h0M178.1 198.0h0M184.1 186.8h0M198.9 160.5h0M144.8 201.5h0M165.2 220.5h0M100.9 170.8h0M163.0 225.1h0M207.0 122.7h0M241.3 129.7h0M191.6 200.1h0M203.5 150.6h0M196.7 181.8h0M208.6 172.7h0M198.6 126.1h0M180.1 198.9h0M172.7 197.5h0M250.2 126.0h0M213.5 144.4h0M132.9 204.6h0M189.1 224.1h0M252.5 215.1h0M177.0 173.2h0M282.4 158.3h0M200.5 167.2h0M230.7 131.5h0M186.4 172.6h0M206.9 140.2h0M197.1 129.0h0M182.6 159.9h0M191.4 108.8h0M215.4 169.9h0M160.5 192.8h0M201.4 188.4h0M171.7 257.3h0M158.9 218.1h0M192.7 186.7h0M173.2 220.5h0M190.8 167.1h0M182.8 204.4h0M211.5 147.8h0M173.8 175.8h0M114.5 262.5h0M173.5 183.2h0M199.8 173.7h0M204.9 202.9h0M227.6 151.5h0M184.4 208.8h0M254.9 93.4h0M215.6 141.3h0M241.7 131.6h0M214.3 144.1h0M178.5 236.1h0M231.0 95.8h0M209.8 149.7h0M222.3 180.7h0M158.5 193.5h0M183.8 201.2h0M184.1 160.2h0M227.2 138.6h0M207.7 212.1h0M218.0 121.7h0M179.8 109.1h0M222.1 140.3h0M213.8 172.2h0M117.4 234.5h0M181.2 196.1h0M194.2 179.7h0M143.6 175.3h0M199.4 192.5h0M204.1 185.9h0M210.5 154.6h0M207.2 115.7h0M203.1 135.5h0M167.4 202.3h0M199.1 186.7h0M157.4 204.1h0M247.0 103.3h0M181.8 221.3h0M157.5 160.1h0M205.8 228.1h0M196.1 182.8h0M183.3 178.0h0M181.9 206.9h0M147.3 185.8h0M192.9 190.6h0M173.5 128.2h0M168.5 183.7h0M223.7 157.0h0M241.7 111.7h0M212.4 123.8h0M177.5 170.9h0M223.9 144.8h0M183.4 200.2h0M225.7 121.7h0M246.1 90.7h0M123.8 299.0h0M218.9 151.6h0M148.6 174.1h0M234.0 137.0h0M185.1 136.8h0M189.9 162.4h0M165.7 203.2h0M239.5 101.5h0M190.7 209.7h0M167.6 278.8h0M203.2 179.2h0M211.9 157.5h0M212.6 140.6h0M180.9 132.6h0M159.1 152.9h0M118.1 212.0h0M247.2 80.5h0M177.1 202.7h0M187.0 189.9h0M239.4 93.6h0M224.0 110.2h0M160.8 196.8h0M125.3 190.5h0M168.6 151.7h0M197.5 213.6h0M227.1 137.0h0M171.9 165.2h0M219.0 120.3h0M197.8 187.8h0M244.4 114.4h0M206.7 132.0h0M186.8 200.3h0M214.3 173.1h0M146.3 189.4h0M167.6 196.7h0M192.2 184.0h0M202.7 135.0h0M245.3 193.0h0M233.7 120.5h0M214.0 145.8h0M179.2 167.5h0M233.8 120.2h0M231.8 118.5h0M177.9 188.5h0M174.7 197.6h0M173.2 158.7h0M202.5 161.0h0M226.7 136.6h0M211.2 175.3h0M209.0 181.3h0M188.3 230.9h0M214.0 102.0h0M151.5 223.2h0M182.8 279.6h0M216.7 155.8h0M166.4 195.8h0M187.5 207.9h0M203.5 188.4h0M219.2 148.4h0M193.6 185.6h0M162.1 216.3h0M229.0 118.7h0M222.4 170.9h0M238.4 95.3h0M160.6 210.9h0M188.4 201.8h0M208.8 103.7h0M188.9 198.0h0M181.2 192.3h0M233.8 122.5h0M198.2 175.7h0M205.2 192.1h0M236.8 154.5h0M192.9 173.4h0M131.8 258.0h0M198.4 186.8h0M196.0 173.2h0M229.7 109.3h0M212.1 121.5h0M186.4 211.8h0M186.5 197.6h0M123.1 209.4h0M188.6 181.1h0M199.1 180.9h0M213.2 176.2h0M171.3 196.8h0M190.4 153.8h0M214.1 172.7h0M185.7 169.8h0M191.7 189.4h0M221.1 137.9h0M248.3 96.3h0M226.0 114.7h0M196.5 132.0h0M193.8 212.9h0M176.1 194.9h0M171.7 198.5h0M227.6 167.1h0M234.7 117.8h0M175.7 169.3h0M164.0 213.8h0M191.9 174.0h0M172.9 186.5h0M163.0 159.1h0M230.0 126.9h0M203.4 186.0h0M202.0 171.4h0M192.1 155.7h0M214.8 144.2h0M198.2 192.7h0M170.8 152.2h0M186.3 180.9h0M200.7 144.4h0M195.7 198.8h0M210.6 159.2h0M148.6 170.7h0M153.5 228.6h0M234.4 195.0h0M161.1 196.9h0M208.7 154.9h0M161.9 210.2h0M220.3 160.5h0M159.0 274.9h0M154.2 220.2h0M139.9 189.1h0M172.5 208.9h0M216.0 177.6h0M204.2 196.6h0M198.2 122.2h0M190.2 275.4h0M175.0 204.5h0M201.3 125.5h0M214.8 141.9h0M179.2 180.8h0M159.1 199.9h0M208.7 126.7h0M164.0 244.5h0M188.3 155.7h0M95.2 291.3h0M192.8 198.8h0M178.4 171.5h0M220.8 157.8h0M231.2 116.5h0M232.9 114.6h0M194.2 186.2h0M203.7 201.2h0M164.4 222.9h0M183.7 158.1h0M177.7 232.5h0M112.5 149.5h0M158.8 233.5h0M176.8 225.9h0M212.1 127.8h0M197.6 213.5h0M198.6 193.5h0M189.5 193.4h0M167.5 210.2h0M211.5 176.9h0M170.7 173.7h0M196.1 158.3h0M188.9 214.2h0M184.9 221.3h0M243.6 128.8h0M174.0 201.0h0M171.9 146.6h0M231.2 132.7h0M231.8 134.9h0M190.2 180.6h0M230.1 147.2h0M235.2 141.9h0M204.5 116.9h0M197.4 153.1h0M151.1 201.3h0M245.6 94.8h0M208.4 171.2h0M208.0 183.6h0M208.2 104.8h0M182.5 149.1h0M132.7 222.6h0M98.1 289.3h0M118.2 211.7h0M188.3 130.3h0M179.0 200.1h0M205.9 167.8h0M226.0 130.5h0M198.2 171.0h0M152.3 227.1h0M175.2 216.4h0M210.9 161.2h0M223.0 108.7h0M175.0 221.2h0M149.3 271.4h0M184.9 174.2h0M214.8 139.3h0M169.0 177.6h0M204.3 192.8h0M162.8 171.1h0M211.7 156.6h0M185.0 142.7h0M228.3 149.5h0M239.2 104.9h0M195.6 143.7h0M142.0 240.0h0M227.8 86.5h0M184.5 196.0h0M192.9 203.1h0M236.0 162.7h0M136.3 182.8h0M229.9 138.7h0M174.8 190.0h0M194.5 193.9h0M199.3 196.8h0M205.5 172.2h0M179.4 252.5h0M170.8 214.4h0M193.8 180.5h0M191.1 191.4h0M225.7 146.5h0M122.1 235.2h0M178.3 187.8h0M139.7 220.0h0M189.8 148.4h0M130.9 265.7h0M245.4 118.4h0M247.5 176.2h0M239.2 119.4h0M177.6 133.7h0M184.7 200.1h0M207.8 109.4h0M209.7 160.1h0M232.2 134.0h0M193.2 211.7h0M236.0 113.3h0M203.6 154.6h0M125.7 212.7h0M138.3 191.8h0M185.0 193.5h0M170.5 280.9h0M248.4 95.6h0M174.7 189.7h0M186.0 197.9h0M188.7 198.3h0M203.4 194.6h0M226.0 110.9h0M206.6 113.7h0M200.1 201.1h0M198.2 184.5h0M216.3 144.8h0M224.6 87.6h0M195.8 176.5h0M194.7 115.2h0M133.8 198.3h0M201.4 155.1h0M161.5 205.5h0M231.5 116.3h0M231.6 172.4h0M224.1 117.2h0M210.7 202.0h0M180.6 179.3h0M223.0 140.8h0M120.0 246.1h0M190.7 191.4h0M195.3 154.6h0M171.1 212.6h0M211.7 159.8h0M109.3 234.7h0M211.7 149.5h0M129.7 268.5h0M229.5 108.4h0M191.7 196.8h0M201.9 148.8h0M193.4 164.8h0M162.4 186.9h0M236.1 103.7h0M201.0 139.1h0M229.4 118.1h0M149.1 197.3h0M231.3 138.7h0M174.2 172.9h0M221.9 153.6h0M198.1 141.0h0M181.7 231.5h0M193.9 173.8h0M200.6 188.3h0M187.6 193.6h0M199.6 207.4h0M219.9 144.9h0M234.2 112.5h0M221.7 169.5h0M195.8 130.4h0M249.8 94.3h0M173.8 226.1h0M155.0 185.9h0M208.3 163.8h0M217.6 124.4h0M210.3 199.8h0M184.4 176.5h0M218.8 131.1h0M170.1 265.6h0M59.3 238.7h0M181.6 228.5h0M153.6 208.2h0M215.8 176.3h0M244.7 150.0h0M190.0 188.4h0M169.3 127.1h0M194.6 185.0h0M229.8 109.4h0M246.6 90.6h0M179.3 194.7h0M181.0 155.4h0M184.3 192.9h0M159.0 202.0h0M206.6 209.4h0M174.6 184.9h0M160.4 211.2h0M187.9 189.1h0M134.5 228.5h0M153.1 220.4h0M228.1 102.9h0M201.2 145.5h0M198.1 160.9h0M238.5 143.3h0M223.2 131.6h0M140.1 215.7h0M227.3 96.3h0M226.5 132.4h0M167.4 199.6h0M215.5 139.0h0M211.3 144.2h0M176.0 249.7h0M179.1 199.9h0M197.1 167.5h0M205.5 124.4h0M218.8 145.7h0M126.3 264.1h0M209.1 203.4h0M226.9 110.3h0M181.6 193.8h0M221.6 159.4h0M184.3 195.2h0M210.5 149.3h0M221.0 123.2h0M225.1 93.9h0M190.2 149.3h0M158.2 213.4h0M194.6 219.2h0M172.9 191.5h0M174.4 198.2h0M207.9 134.5h0M214.5 156.8h0M209.7 220.9h0M124.6 271.4h0M207.8 166.9h0M184.6 201.5h0M155.3 230.8h0M177.7 299.1h0M183.0 149.3h0M202.7 188.6h0M206.4 161.0h0M161.2 169.3h0M220.8 169.0h0M221.1 147.0h0M248.8 93.6h0M120.8 200.4h0M181.1 192.7h0M164.3 210.2h0M232.4 127.5h0M241.8 141.1h0M146.8 182.9h0M171.1 232.1h0M196.2 170.0h0M228.2 135.5h0M192.0 182.8h0M122.9 242.5h0M167.2 214.7h0M124.8 220.8h0M173.4 163.3h0M212.1 144.8h0M163.1 215.2h0M186.2 203.0h0M138.1 211.9h0M233.4 161.1h0M225.7 148.1h0M222.0 141.6h0M141.7 215.2h0M109.3 226.0h0M186.3 158.3h0M169.4 215.9h0M252.9 160.0h0M217.5 167.5h0M181.8 179.9h0M229.3 138.7h0M226.4 145.5h0M211.5 145.4h0M226.8 144.4h0M204.6 174.7h0M212.9 117.3h0M152.8 202.0h0M215.9 131.2h0M213.6 167.0h0M157.2 187.4h0M191.4 124.7h0M209.5 163.2h0M84.5 179.6h0M239.1 178.3h0M162.4 219.4h0M193.6 202.6h0M244.0 121.4h0M141.6 209.1h0M170.4 178.2h0M223.3 191.0h0M214.0 128.7h0M196.2 170.1h0M191.2 193.1h0M197.9 204.2h0M201.6 205.3h0M217.2 138.1h0M169.7 209.0h0M193.4 180.1h0M194.1 190.1h0M198.2 211.9h0M204.4 162.8h0M206.9 226.1h0M152.1 217.2h0M188.8 205.5h0M226.7 159.8h0M214.2 176.0h0M225.0 130.9h0M161.6 199.5h0M141.3 219.1h0M214.3 128.8h0M189.7 197.9h0M177.4 192.6h0M206.3 100.7h0M151.3 225.3h0M210.6 170.8h0M221.5 145.7h0M208.9 98.4h0M173.1 202.2h0M171.2 154.7h0M183.9 174.4h0M259.1 134.5h0M193.3 184.0h0M190.3 161.8h0M165.5 205.4h0M137.9 189.8h0M139.5 195.4h0M211.6 143.2h0M219.8 108.8h0M200.7 216.9h0M84.7 231.7h0M197.2 187.6h0M215.8 226.7h0M138.0 193.8h0M202.1 183.9h0M166.6 164.3h0M216.9 156.9h0M232.3 171.9h0M214.5 138.9h0M205.1 165.2h0M181.3 173.8h0M235.3 98.8h0M217.9 161.4h0M206.3 147.8h0M187.6 186.7h0M186.2 206.1h0M204.1 184.7h0M148.7 189.6h0M192.9 184.7h0M198.2 143.9h0M210.7 159.4h0M193.9 210.8h0M175.6 236.3h0M233.1 132.3h0M217.7 88.6h0M151.9 245.1h0M150.8 213.3h0M193.2 184.1h0M181.1 206.8h0M188.2 182.7h0M139.4 222.2h0M211.5 142.0h0M190.8 167.0h0M198.6 190.2h0M209.7 137.8h0M204.8 194.7h0M216.5 144.8h0M140.3 194.2h0M176.2 205.1h0M170.2 164.9h0M177.8 278.4h0M212.6 186.4h0M183.4 199.2h0M240.7 94.4h0M197.5 119.8h0M130.3 194.3h0M152.0 235.0h0M185.1 186.1h0M129.5 224.2h0M229.6 107.5h0M180.1 219.3h0M186.5 216.4h0M214.4 186.2h0M211.9 165.4h0M171.7 193.6h0M214.3 142.1h0M205.1 190.0h0M161.7 192.6h0M227.5 177.2h0M230.8 144.4h0M246.3 78.4h0M204.2 134.7h0M282.7 209.2h0M225.5 137.3h0M237.5 111.4h0M234.9 142.5h0M210.3 175.0h0M198.6 181.9h0M187.5 216.4h0M153.3 212.5h0M179.7 250.9h0M133.5 217.8h0M205.8 167.7h0M227.5 125.4h0M113.9 241.5h0M254.2 139.9h0M163.6 185.5h0M224.5 145.1h0M166.4 206.8h0M220.0 135.5h0M187.5 164.5h0M245.2 138.5h0M205.8 213.4h0M218.7 185.2h0M203.1 186.4h0M217.0 151.8h0M220.0 131.5h0M166.6 212.9h0M193.3 200.1h0M190.2 196.7h0M158.2 299.7h0M139.6 179.2h0M212.3 131.8h0M207.9 184.3h0M200.6 148.2h0M205.6 174.4h0M197.0 168.7h0M170.4 179.6h0M146.3 226.6h0M161.9 205.9h0M196.2 163.9h0M173.4 206.8h0M208.7 213.4h0M156.0 201.3h0M147.2 178.4h0M186.8 220.9h0M188.1 172.2h0M221.3 118.5h0M242.9 146.1h0M212.5 189.0h0M212.0 159.7h0M214.3 164.7h0M204.7 162.4h0M228.7 134.1h0M214.8 115.8h0M217.8 104.7h0M178.2 190.4h0M227.8 153.0h0M235.8 168.4h0M153.0 231.5h0M209.1 186.0h0M176.7 205.9h0M201.0 199.9h0M158.2 240.3h0M238.7 109.6h0M202.1 160.3h0M160.2 238.1h0M199.6 169.2h0M172.9 237.2h0M206.8 132.9h0M205.0 107.8h0M205.2 220.1h0M194.4 163.4h0M155.9 173.9h0M52.3 232.0h0M159.6 138.4h0M142.9 250.4h0M221.2 161.7h0M180.3 142.6h0M203.9 140.6h0M154.7 175.0h0M214.6 169.5h0M181.9 218.1h0M233.5 105.2h0M245.5 103.1h0M239.7 127.4h0M208.1 183.9h0M168.6 202.2h0M169.3 170.9h0M167.3 184.7h0M148.0 187.5h0M255.9 93.7h0M209.7 142.5h0M166.6 302.9h0M210.1 153.9h0M210.7 236.6h0M177.5 172.2h0M229.5 138.9h0M251.4 79.0h0M212.7 138.1h0M168.0 152.7h0M213.4 166.5h0M184.6 167.4h0M185.3 178.1h0M202.5 170.3h0M233.3 99.4h0M236.0 145.4h0M143.6 245.5h0M235.7 97.3h0M190.6 196.7h0M199.7 170.5h0M198.5 193.8h0M202.4 154.1h0M220.7 158.7h0M170.2 174.8h0M133.1 223.4h0M207.2 153.6h0M239.6 114.1h0M222.9 101.2h0M159.3 217.2h0M201.7 151.7h0M227.0 121.2h0M189.6 182.9h0M186.9 210.9h0M151.8 183.3h0M238.2 127.2h0M210.7 162.8h0M194.5 145.4h0M252.5 92.3h0M175.8 248.2h0M220.0 168.7h0M200.5 124.1h0M204.8 217.9h0M164.6 269.6h0M128.5 206.7h0M222.1 143.5h0M211.9 133.8h0M157.6 175.7h0M186.3 181.6h0M124.2 216.6h0M178.2 249.5h0M168.2 223.6h0M201.5 155.3h0M214.6 181.9h0M223.5 122.0h0M182.2 175.0h0M211.2 110.6h0M223.4 119.5h0M235.4 121.6h0M197.7 150.1h0M187.5 151.2h0M202.4 193.6h0M228.0 111.8h0M224.1 119.5h0M222.4 188.9h0M159.6 190.5h0M190.8 194.2h0M142.5 195.2h0M183.2 189.5h0M204.0 178.5h0M203.4 197.5h0M188.9 113.1h0M226.0 137.2h0M207.2 197.5h0M215.2 134.2h0M256.1 176.2h0M212.3 144.5h0M182.6 165.6h0M185.6 209.3h0M144.0 189.3h0M221.6 167.2h0M223.7 146.3h0M171.4 205.2h0M207.0 188.9h0M208.3 166.6h0M209.4 214.9h0M173.6 192.4h0M79.1 263.4h0M139.4 189.6h0M166.8 221.1h0M158.8 178.3h0M181.4 194.2h0M184.6 210.5h0M218.3 115.2h0M163.9 170.3h0M210.6 183.9h0M225.9 107.2h0M186.1 203.1h0M202.2 194.7h0M131.3 231.9h0M185.5 158.9h0M257.5 169.7h0M169.7 224.0h0M180.2 163.4h0M168.7 209.3h0M189.9 164.6h0M181.3 154.7h0M203.0 146.8h0M215.6 137.5h0M201.5 165.7h0M226.1 128.9h0M135.6 208.3h0M107.7 256.4h0M240.9 116.7h0M222.0 106.3h0M258.4 81.3h0M178.0 230.3h0M202.7 111.3h0M197.8 191.2h0M188.5 150.4h0M220.0 135.1h0M239.5 142.5h0M221.6 192.1h0M236.6 93.1h0M188.5 214.2h0M199.2 180.1h0M223.8 140.9h0M165.9 136.7h0M181.4 188.7h0M196.2 186.2h0M214.3 152.3h0M191.7 154.3h0M211.1 169.1h0M209.4 223.6h0M197.3 177.0h0M169.4 210.1h0M182.9 187.4h0M197.1 179.5h0M214.8 171.9h0M212.6 191.2h0M188.2 172.1h0M163.6 195.8h0M203.1 132.4h0M220.6 152.8h0M180.1 215.6h0M207.6 161.6h0M185.7 210.6h0M178.8 232.7h0M191.8 181.1h0M206.5 117.6h0M169.4 199.3h0M192.1 189.8h0M215.1 148.7h0M167.6 213.8h0M183.9 171.2h0M244.3 106.9h0M220.1 109.8h0M219.6 139.8h0M185.4 184.3h0M159.0 206.5h0M198.3 117.0h0M221.8 95.1h0M172.4 185.5h0M213.9 163.2h0M176.0 166.8h0M169.8 207.3h0M185.7 225.9h0M162.4 249.5h0M190.9 201.9h0M255.3 80.5h0M189.8 127.0h0M184.4 182.0h0M113.7 241.2h0M241.8 113.1h0M195.1 174.6h0M210.1 161.7h0M225.1 162.9h0M204.7 145.6h0M212.5 145.9h0M218.8 141.3h0M220.4 117.9h0M213.3 178.7h0M211.7 167.2h0M203.0 194.5h0M192.1 187.3h0M158.0 239.8h0M199.9 155.0h0M160.2 217.4h0M169.3 160.4h0M195.9 189.3h0M194.1 205.2h0M203.5 161.8h0M190.3 167.3h0M193.1 186.4h0M228.9 119.4h0M201.1 176.4h0M245.6 116.1h0M198.2 139.3h0M197.5 185.6h0M179.1 254.2h0M168.2 317.6h0M207.8 144.5h0M202.3 126.2h0M183.9 175.0h0M217.2 166.7h0M223.2 159.8h0M156.9 200.6h0M194.9 194.1h0M202.5 179.4h0M207.1 185.4h0M197.6 181.5h0M196.4 190.9h0M189.6 228.7h0M132.7 236.6h0M164.6 262.1h0M132.1 213.3h0M189.9 118.2h0M182.8 167.9h0M144.8 202.2h0M220.9 149.2h0M217.9 184.0h0M221.1 106.4h0M214.0 136.0h0M198.7 162.2h0M223.5 110.4h0M203.8 164.9h0M218.7 140.1h0M165.3 213.6h0M192.3 152.3h0M186.5 159.9h0M193.9 204.8h0M185.7 179.2h0M245.7 105.0h0M210.9 138.1h0M226.9 184.4h0M194.0 135.3h0M199.5 142.8h0M199.1 185.6h0M205.0 172.5h0M207.0 145.7h0M223.8 179.2h0M192.7 186.7h0M234.4 101.6h0M192.4 146.4h0M229.5 150.9h0M201.1 216.7h0M234.3 105.3h0M172.5 155.9h0M221.4 134.5h0M169.7 192.7h0M186.7 206.0h0M239.0 107.1h0M145.0 213.9h0M194.4 192.7h0M225.9 138.1h0M176.4 225.0h0M203.5 149.0h0M156.4 203.0h0M215.9 111.6h0M172.7 168.3h0M211.1 173.6h0M176.6 220.3h0M148.6 209.6h0M195.7 177.9h0M208.0 105.4h0M130.9 165.5h0M220.0 159.3h0M182.5 293.1h0M153.2 191.2h0M188.0 162.7h0M208.0 158.0h0M168.5 200.5h0M210.6 116.3h0M167.6 206.8h0M184.2 190.3h0M189.7 166.1h0M193.3 194.2h0M198.8 161.9h0M207.5 125.6h0M203.2 164.1h0M182.1 105.3h0M242.0 114.4h0M163.7 166.5h0M177.5 207.9h0M223.4 136.0h0M203.5 173.1h0M168.7 261.4h0M199.0 208.3h0M122.5 221.5h0M187.5 190.7h0M195.7 182.2h0M182.6 181.5h0M179.2 183.4h0M228.7 169.3h0M190.9 157.5h0M204.5 141.3h0M220.7 109.2h0M198.1 158.5h0M188.1 200.8h0M190.8 178.5h0M223.7 129.4h0M182.3 206.4h0M239.9 102.3h0M198.1 229.9h0M170.3 188.4h0M218.1 178.9h0M186.8 163.6h0M189.7 207.9h0M245.6 85.2h0M234.1 92.0h0M152.7 175.2h0M243.4 149.5h0M187.3 162.3h0M166.0 176.9h0M241.9 103.0h0M164.1 266.6h0M238.0 190.9h0M243.5 117.0h0M196.4 197.2h0M199.7 176.5h0M200.3 191.8h0M153.6 197.1h0M166.0 281.3h0M225.0 120.9h0M146.0 295.8h0M205.0 170.6h0M188.8 135.5h0M216.0 159.1h0M221.3 158.0h0M140.0 220.0h0M200.3 175.6h0M256.5 109.5h0M193.4 194.7h0M175.2 172.8h0M139.3 206.5h0M239.3 103.9h0M206.3 214.2h0M146.0 219.5h0M243.1 86.7h0M182.2 170.6h0M218.1 121.6h0M203.8 176.1h0M225.3 114.9h0M157.2 218.3h0M242.1 132.7h0M183.8 190.0h0M186.3 188.6h0M221.6 152.6h0M215.5 137.7h0M167.7 224.9h0M248.3 101.8h0M192.3 143.6h0M216.8 153.4h0M208.2 181.7h0M213.2 158.6h0M219.0 119.6h0M194.3 180.3h0M144.7 195.6h0M184.7 193.6h0M205.1 171.9h0M219.4 150.8h0M242.7 88.3h0M187.6 176.5h0M171.8 186.1h0M200.1 166.7h0M170.1 243.6h0M240.5 135.7h0M180.2 206.4h0M174.8 195.1h0M171.6 220.9h0M158.7 227.6h0M209.3 141.1h0M109.9 226.8h0M169.6 162.5h0M160.3 191.1h0M177.7 239.8h0M191.5 182.8h0M195.8 181.6h0M240.0 110.6h0M168.9 183.0h0M236.6 141.7h0M208.6 160.8h0M189.7 159.6h0M193.6 255.3h0M133.5 187.1h0M140.1 195.7h0M214.9 130.9h0M213.9 150.5h0M170.9 216.4h0M159.3 121.3h0M158.9 240.0h0M200.0 165.2h0M235.4 161.0h0M215.5 174.6h0M202.3 166.9h0M175.7 169.9h0M206.1 164.8h0M159.6 193.3h0M213.3 146.7h0M223.2 129.8h0M192.8 166.0h0M228.6 114.7h0M193.6 167.4h0M185.7 172.4h0M205.8 202.5h0M230.5 119.1h0M197.0 161.8h0M151.2 202.1h0M210.6 154.8h0M186.9 209.6h0M199.6 195.0h0M257.3 102.4h0M209.7 160.4h0M156.6 200.3h0M223.8 175.8h0M206.6 190.5h0M175.1 278.3h0M209.1 190.7h0M161.9 177.8h0M168.3 211.1h0M190.7 165.5h0M261.1 88.5h0M187.9 146.2h0M185.8 182.8h0M198.7 237.4h0M201.7 184.0h0M202.8 147.7h0M193.3 286.1h0M175.4 162.2h0M219.6 139.7h0M186.7 178.5h0M212.7 155.5h0M216.0 119.6h0M167.0 194.4h0M191.6 192.3h0M116.3 254.2h0M227.5 124.5h0M164.8 223.6h0M195.5 204.1h0M203.8 143.5h0M184.3 170.8h0M197.2 186.3h0M223.2 151.9h0M188.4 118.8h0M181.3 209.7h0M231.4 129.5h0M167.1 172.0h0M182.3 166.3h0M185.2 221.8h0M162.9 179.1h0M188.3 164.9h0M196.7 259.0h0M186.6 156.6h0M165.4 195.9h0M138.0 140.6h0M157.7 199.3h0M154.8 198.6h0M224.2 208.4h0M214.4 171.4h0M190.6 138.9h0M219.5 186.5h0M187.1 223.5h0M205.0 151.2h0M244.4 94.1h0M221.9 132.9h0M148.9 230.6h0M223.5 84.4h0M214.1 106.1h0M224.9 116.9h0M165.3 219.3h0M188.7 160.2h0M202.8 192.3h0M161.7 193.7h0M220.3 165.9h0M174.2 196.5h0M202.2 168.9h0M170.4 177.4h0M208.6 150.8h0M240.9 78.1h0M152.6 182.6h0M211.2 145.2h0M209.3 146.6h0M189.2 216.7h0M208.8 157.7h0M207.1 117.7h0M176.9 186.3h0M139.7 177.0h0M196.8 107.1h0M222.0 156.1h0M213.7 184.4h0M219.6 147.2h0M167.1 271.2h0M190.1 204.4h0M203.9 173.5h0M124.6 224.9h0M217.3 100.0h0M228.4 139.2h0M194.2 224.8h0M200.5 173.9h0M209.1 130.4h0M185.4 180.3h0M172.8 196.3h0M171.0 183.6h0M175.5 103.7h0M232.9 100.7h0M186.5 162.9h0M232.8 92.2h0M244.6 113.7h0M199.3 187.5h0M185.9 166.4h0M232.3 114.1h0M136.9 216.3h0M217.8 158.5h0M179.6 217.5h0M187.8 184.2h0M199.9 185.4h0M219.9 164.8h0M178.2 190.4h0M193.9 142.1h0M255.1 144.1h0M175.9 216.0h0M233.4 136.0h0M189.7 160.5h0M194.7 197.9h0M194.2 153.8h0M212.8 158.2h0M160.6 223.3h0M194.2 136.4h0M231.6 141.7h0M180.7 218.2h0M170.6 146.6h0M202.4 153.8h0M151.3 217.3h0M183.0 152.6h0M142.1 299.0h0M159.5 207.4h0M177.5 211.2h0M199.1 139.4h0M179.3 138.1h0M162.2 198.8h0M192.4 208.2h0M188.1 139.2h0M223.1 136.3h0M218.5 142.1h0M213.3 124.6h0M205.7 164.5h0M180.9 173.3h0M175.2 186.1h0M211.8 106.5h0M222.3 134.1h0M238.3 120.7h0M197.7 145.8h0M231.2 133.1h0M106.6 232.0h0M186.1 159.0h0M190.2 124.9h0M215.0 189.8h0M142.3 254.9h0M193.4 203.8h0M106.2 188.1h0M205.6 159.6h0M209.9 162.5h0M208.2 150.2h0M113.7 205.3h0M183.4 204.9h0M208.9 171.9h0M197.6 213.7h0M196.1 188.5h0M147.2 191.7h0M207.0 145.7h0M223.9 141.8h0M198.3 139.7h0M183.3 224.1h0M169.1 204.5h0M175.7 220.9h0M190.9 207.6h0M150.9 205.2h0M263.1 166.2h0M185.8 200.3h0M222.8 129.8h0M172.1 188.8h0M231.6 102.7h0M155.8 248.3h0M137.2 216.8h0M170.7 129.5h0M190.7 200.6h0M176.8 207.7h0M186.3 102.5h0M109.4 179.9h0M195.2 164.4h0M190.2 185.2h0M185.2 218.2h0M155.8 195.5h0M222.4 137.1h0M187.8 178.7h0M182.8 179.4h0M238.5 89.2h0M232.9 123.5h0M212.3 157.4h0M228.3 131.8h0M200.0 141.1h0M182.1 190.8h0M125.8 245.0h0M187.7 168.6h0M180.9 187.9h0M172.3 199.8h0M199.9 190.5h0M200.7 188.9h0M260.9 76.3h0M177.9 215.1h0M231.6 128.9h0M219.1 132.2h0M210.1 174.1h0M205.5 182.0h0M195.4 199.1h0M208.2 149.0h0M102.4 235.9h0M156.6 186.1h0M208.1 210.8h0M207.5 170.6h0M232.1 110.6h0M236.1 89.7h0M179.7 187.3h0M238.0 165.1h0M176.5 166.6h0M206.1 153.3h0M217.0 131.8h0M174.0 170.2h0M169.2 143.7h0M142.2 219.5h0M206.9 131.9h0M147.1 249.9h0M198.8 213.4h0M179.0 160.3h0M193.6 201.1h0M214.4 181.4h0M211.0 169.4h0M151.9 206.1h0M105.6 208.8h0M226.1 135.6h0M182.4 222.5h0M222.2 99.1h0M257.0 83.7h0M189.5 171.3h0M210.3 150.1h0M163.7 164.7h0M202.9 170.8h0M189.8 169.7h0M159.4 222.9h0M206.5 225.7h0M208.8 155.8h0M179.7 148.3h0M200.3 188.6h0M226.2 135.1h0M185.2 162.2h0M176.9 195.0h0M245.3 83.9h0M176.9 201.0h0M187.5 196.7h0M211.8 160.7h0M203.0 142.7h0M224.2 177.2h0M194.9 149.3h0M165.9 207.4h0M221.1 182.4h0M258.5 150.8h0M180.9 205.5h0M187.9 184.1h0M202.5 123.6h0M216.6 163.7h0M200.4 171.9h0M142.7 235.7h0M212.7 152.6h0M217.9 167.5h0M176.8 259.0h0M229.6 165.1h0M196.9 208.2h0M229.8 116.6h0M202.6 161.4h0M223.9 132.7h0M195.7 217.7h0M206.9 178.5h0M227.4 138.3h0M227.8 115.5h0M211.5 164.5h0M247.7 116.5h0M194.7 171.5h0M154.0 196.1h0M229.6 151.3h0M225.5 130.0h0M196.0 157.6h0M221.6 129.7h0M166.8 210.7h0M195.2 116.4h0M180.6 197.5h0M156.8 154.2h0M189.0 196.1h0M180.4 200.9h0M234.3 124.1h0M179.0 199.2h0M176.7 236.1h0M187.3 180.0h0M181.4 187.8h0M178.9 152.8h0M229.7 131.2h0M187.5 197.8h0M164.9 207.3h0M218.2 136.4h0M216.2 120.0h0M190.7 156.5h0M195.1 185.9h0M220.2 158.1h0M149.5 246.9h0M146.4 203.4h0M155.3 225.1h0M218.4 183.3h0M164.1 199.1h0M208.5 238.8h0M227.5 100.3h0M211.6 180.8h0M215.2 133.3h0M115.0 203.9h0M205.7 140.4h0M217.3 197.5h0M204.2 154.1h0M198.6 188.4h0M180.7 191.1h0M169.7 223.2h0M181.0 215.5h0M211.2 166.4h0M221.7 192.0h0M217.3 132.5h0M221.7 116.8h0M170.6 194.6h0M137.1 222.7h0M145.1 198.1h0M212.1 174.8h0M146.5 186.2h0M207.2 196.3h0M206.2 180.2h0M198.9 157.8h0M148.1 211.8h0M205.1 158.6h0M174.1 221.9h0M198.5 204.4h0M163.2 203.6h0M168.8 209.2h0M159.3 272.3h0M149.5 277.9h0M183.6 173.2h0M168.2 159.5h0M145.3 196.6h0M140.1 250.1h0M185.9 186.3h0M244.5 96.6h0M255.6 101.3h0M221.9 169.2h0M188.0 202.9h0M207.0 218.4h0M202.0 159.2h0M184.9 174.8h0M228.2 174.4h0M206.6 116.1h0M246.9 75.4h0M186.4 175.5h0M217.0 173.5h0M161.1 214.0h0M226.8 132.4h0M166.6 212.1h0M186.6 146.0h0M199.0 177.1h0M189.9 193.9h0M199.7 126.0h0M122.3 236.5h0M140.3 242.7h0M184.1 252.1h0M255.4 78.7h0M196.7 187.6h0M196.7 190.3h0M162.9 216.9h0M221.8 135.6h0M204.3 122.0h0M147.5 205.8h0M197.8 144.7h0M230.2 109.3h0M227.2 115.5h0M206.1 187.8h0M157.3 176.8h0M175.7 198.2h0M186.6 205.5h0M237.4 79.6h0M176.0 230.6h0M157.3 216.9h0M137.6 230.6h0M200.6 200.6h0M174.7 160.3h0M224.7 142.7h0M161.6 224.1h0M167.7 164.4h0M178.7 171.8h0M169.8 193.0h0M167.7 192.0h0M192.3 192.5h0M115.5 185.7h0M214.0 173.9h0M196.3 200.4h0M233.2 161.7h0M192.2 144.8h0M109.0 223.2h0M161.8 211.1h0M182.7 195.0h0M222.3 130.1h0M215.4 103.6h0M170.0 227.0h0M172.9 234.9h0M180.1 146.2h0M217.7 186.2h0M208.6 93.3h0M206.7 161.4h0M203.9 193.5h0M189.1 157.6h0M180.5 205.5h0M223.9 224.2h0M216.5 124.5h0M204.3 192.0h0M210.8 159.4h0M221.0 131.1h0M215.0 156.2h0M193.7 171.1h0M168.9 220.2h0M198.4 200.2h0M247.8 83.3h0M234.4 106.8h0M115.8 287.9h0M195.2 178.9h0M209.8 184.3h0M217.1 156.6h0M183.9 208.9h0M183.1 179.0h0M178.9 182.6h0M218.0 142.9h0M204.7 201.6h0M215.9 137.6h0M236.2 124.6h0M186.1 183.0h0M197.4 209.0h0M189.6 149.0h0M211.4 150.2h0M201.1 126.8h0M209.0 183.6h0M192.1 200.9h0M193.9 122.4h0M179.2 176.7h0M185.8 177.2h0M198.3 118.6h0M175.3 176.2h0M182.0 146.1h0M225.7 135.2h0M187.4 270.3h0M218.1 115.1h0M200.6 155.4h0M195.1 185.2h0M191.9 162.7h0M230.5 93.0h0M190.0 214.4h0M216.2 141.4h0M200.8 163.5h0M157.9 223.1h0M194.6 251.6h0M156.0 224.7h0M204.0 163.4h0M159.9 197.8h0M162.5 211.4h0M217.7 134.9h0M150.7 251.6h0M230.6 117.5h0M192.1 189.0h0M167.6 141.4h0M170.8 137.7h0M232.7 124.5h0M152.2 234.5h0M238.9 122.9h0M173.6 224.1h0M205.0 129.7h0M214.2 153.7h0M210.4 137.2h0M161.5 274.2h0M198.1 115.7h0M186.9 213.5h0M222.6 150.0h0M151.4 239.5h0M231.3 198.5h0M200.5 145.0h0M200.7 174.1h0M189.3 128.9h0M161.9 163.0h0M255.9 96.9h0M210.3 191.3h0M209.5 182.6h0M177.3 146.1h0M241.8 90.4h0M178.7 233.1h0M223.5 122.2h0M211.1 153.5h0M219.8 96.5h0M200.8 160.2h0M178.9 162.3h0M188.3 176.5h0M212.3 153.0h0M197.3 143.0h0M175.5 202.7h0M202.1 147.1h0M207.3 154.0h0M210.5 172.1h0M213.8 146.4h0M192.2 195.9h0M183.9 113.7h0M200.4 152.9h0M212.3 164.5h0M195.1 144.2h0M167.1 210.1h0M185.7 156.7h0M218.8 164.5h0M189.5 169.7h0M160.7 208.7h0M222.3 138.3h0M196.0 208.5h0M178.9 237.5h0M223.4 145.3h0M221.2 130.3h0M178.8 203.1h0M199.4 151.6h0M204.5 139.7h0M216.5 112.3h0M201.3 184.7h0M167.5 232.2h0M176.8 217.2h0M208.1 182.2h0M199.8 166.4h0M112.3 258.5h0M170.7 189.3h0M130.0 241.7h0M141.7 192.0h0M189.6 192.8h0M137.7 193.2h0M199.6 122.4h0M191.2 143.4h0M237.4 109.3h0M162.1 230.4h0M178.8 289.9h0M190.5 183.8h0M211.9 128.0h0M228.9 122.1h0M208.1 167.3h0M205.0 161.1h0M197.0 134.7h0M217.8 114.9h0M161.9 188.0h0M170.9 203.5h0M229.2 108.6h0M226.7 151.2h0M226.4 150.0h0M211.5 177.4h0M215.9 183.8h0M205.3 163.3h0M221.6 214.4h0M236.3 161.1h0M264.2 150.3h0M189.3 200.4h0M183.9 210.4h0M193.1 216.4h0M222.4 130.3h0M220.2 134.9h0M162.8 169.0h0M184.1 249.8h0M193.7 185.3h0M211.6 185.6h0M199.7 153.3h0M90.0 279.3h0M223.4 132.5h0M210.9 179.2h0M135.6 190.7h0M156.2 205.8h0M172.4 206.3h0M194.9 160.6h0M177.1 146.0h0M196.6 262.4h0M209.0 178.5h0M197.9 147.5h0M188.5 124.7h0M186.3 204.9h0M208.5 211.5h0M205.8 180.3h0M218.4 160.3h0M150.7 189.2h0M167.3 262.8h0M158.6 181.1h0M212.5 202.9h0M184.8 217.3h0M132.2 199.2h0M128.2 171.6h0M227.4 131.8h0M190.0 192.8h0M170.6 208.9h0M178.6 246.1h0M242.9 127.3h0M227.6 120.0h0M147.4 186.9h0M174.7 208.2h0M204.2 111.9h0M172.8 184.7h0M218.0 145.3h0M158.9 315.5h0M182.9 157.6h0M225.4 113.2h0M162.0 202.3h0M215.4 150.0h0M196.5 164.3h0M226.3 123.3h0M201.4 153.9h0M230.0 123.8h0M209.1 144.1h0M193.3 181.2h0M197.5 149.8h0M192.9 189.9h0M125.1 221.3h0M231.2 180.9h0M221.8 97.8h0M168.7 244.0h0M207.2 135.0h0M195.8 155.8h0M201.6 175.8h0M179.3 185.2h0M197.3 155.3h0M149.4 166.6h0M169.0 186.0h0M174.0 168.5h0M232.0 147.7h0M173.6 163.4h0M180.9 160.4h0M211.8 148.8h0M227.1 183.4h0M158.5 174.3h0M168.9 163.4h0M188.8 194.1h0M184.9 206.2h0M131.2 188.1h0M168.8 155.2h0M120.2 232.1h0M232.4 118.1h0M179.0 205.2h0M211.0 164.5h0M200.5 161.8h0M176.0 210.6h0M198.9 188.8h0M158.9 255.9h0M179.0 216.5h0M206.8 120.5h0M183.6 173.4h0M190.2 200.5h0M221.8 113.4h0M177.9 177.5h0M179.7 284.9h0M224.1 141.4h0M222.4 120.6h0M194.0 148.5h0M224.8 155.6h0M261.5 148.0h0M183.0 165.7h0M112.5 209.1h0M178.6 174.9h0M170.7 182.2h0M201.3 119.1h0M207.3 109.0h0M184.8 238.8h0M216.5 155.9h0M197.7 237.0h0M215.7 154.5h0M178.7 187.2h0M205.5 189.4h0M214.5 115.1h0M221.0 110.6h0M174.7 166.8h0M235.7 122.7h0M221.4 149.4h0M200.7 134.7h0M201.4 151.6h0M200.0 168.3h0M210.5 151.4h0M216.9 154.4h0M198.9 171.5h0M194.4 191.4h0M186.7 102.5h0M143.2 301.6h0M162.0 165.6h0M205.0 227.1h0M256.7 85.7h0M236.2 107.1h0M236.7 117.0h0M208.9 224.2h0M213.8 163.5h0M137.0 211.1h0M182.2 192.6h0M184.3 114.6h0M187.5 157.7h0M180.8 154.0h0M199.2 168.0h0M193.6 198.9h0M209.5 113.6h0M162.7 228.2h0M202.1 170.5h0M198.2 158.1h0M182.7 192.9h0M161.8 146.7h0M175.3 194.4h0M211.7 163.9h0M201.7 170.7h0M188.3 133.6h0M206.0 135.9h0M180.0 213.6h0M170.2 180.9h0M209.8 164.6h0M162.2 201.4h0M162.8 224.0h0M216.9 128.5h0M199.5 304.4h0M233.9 90.9h0M167.3 184.7h0M219.7 145.0h0M202.3 143.3h0M201.5 172.5h0M138.1 183.7h0M206.6 166.3h0M185.5 194.6h0M125.3 238.5h0M233.9 130.2h0M208.0 141.2h0M186.7 184.3h0M173.5 163.3h0M174.0 151.9h0M174.2 173.5h0M149.5 192.8h0M181.5 223.1h0M197.7 233.9h0M162.7 207.1h0M171.9 155.8h0M163.6 217.7h0M160.0 194.2h0M219.7 131.2h0M170.9 240.0h0M197.1 142.6h0M189.3 191.4h0M203.1 192.6h0M203.3 223.0h0M175.8 189.9h0M175.0 266.7h0M223.8 107.7h0M212.8 101.0h0M241.4 134.7h0M198.8 180.8h0M203.8 164.8h0M229.7 113.4h0M212.2 135.7h0M168.1 181.2h0M224.7 162.4h0M196.8 200.0h0M202.2 169.5h0M201.8 216.5h0M203.0 199.5h0M188.7 172.4h0M212.2 157.2h0M208.1 137.6h0M216.9 148.9h0M195.1 156.9h0M256.2 157.6h0M205.1 131.9h0M205.2 170.2h0M228.3 119.6h0M166.2 214.8h0M207.5 178.3h0M221.4 116.2h0M197.9 153.5h0M210.8 143.8h0M205.1 128.0h0M213.9 171.0h0M224.3 132.6h0M230.8 127.2h0M153.3 193.4h0M204.2 165.5h0M169.4 190.4h0M199.7 169.8h0M225.6 173.4h0M211.0 151.3h0M193.5 165.1h0M212.8 171.0h0M218.4 155.3h0M207.1 208.1h0M175.3 142.5h0M218.1 138.6h0M196.7 155.5h0M159.5 202.6h0M178.1 211.3h0M146.7 179.8h0M157.7 157.5h0M167.5 188.1h0M171.3 208.1h0M250.4 142.0h0M157.6 190.0h0M136.3 194.1h0M160.8 161.0h0M213.5 125.9h0M185.6 184.0h0M216.7 137.0h0M173.6 158.4h0M176.9 177.7h0M222.0 126.3h0M199.3 111.3h0M131.8 177.1h0M191.6 234.9h0M235.0 103.8h0M195.2 187.5h0M239.0 97.3h0M170.2 178.3h0M234.5 121.1h0M163.3 189.1h0M228.6 157.6h0M192.8 188.7h0M174.5 144.2h0M235.9 111.6h0M240.1 132.4h0M204.9 146.4h0M230.8 129.5h0M211.5 135.1h0M180.0 177.6h0M144.2 166.3h0M197.6 208.0h0M186.9 172.8h0M200.3 177.2h0M158.2 194.2h0M152.9 212.2h0M208.7 181.8h0M219.1 100.8h0M190.1 168.7h0M210.2 99.2h0M194.9 183.8h0M235.9 109.1h0M184.2 177.2h0M213.2 126.9h0M145.0 212.6h0M240.1 116.0h0M173.8 189.2h0M182.7 193.5h0M244.9 146.6h0M186.8 182.6h0M174.3 153.8h0M192.7 144.3h0M203.9 144.4h0M255.8 91.9h0M194.0 190.5h0M222.8 110.8h0M225.8 134.9h0M239.7 114.4h0M161.0 205.1h0M215.3 176.1h0M210.1 169.6h0M203.6 181.6h0M120.9 205.6h0M193.9 185.7h0M215.4 174.4h0M201.9 151.6h0M249.6 174.8h0M162.0 273.0h0M169.6 180.3h0M206.2 170.6h0M179.3 218.6h0M237.8 106.2h0M223.8 108.6h0M201.6 203.2h0M151.5 234.5h0M230.6 105.2h0M214.4 95.9h0M230.4 87.9h0M198.1 181.0h0M208.9 124.6h0M183.4 179.4h0M179.9 189.6h0M240.5 91.8h0M188.1 215.1h0M221.3 143.4h0M208.9 178.6h0M209.5 156.7h0M186.0 155.4h0M168.2 162.5h0M242.5 81.2h0M171.0 165.4h0M174.4 145.1h0M225.9 157.1h0M184.3 129.2h0M211.0 154.4h0M195.8 193.1h0M145.0 267.6h0M246.9 134.9h0M175.9 214.5h0M173.0 184.8h0M243.9 117.4h0M226.7 91.3h0M108.6 217.7h0M193.3 140.7h0M212.4 118.5h0M190.4 188.8h0M195.5 193.8h0M102.4 220.0h0M205.2 173.1h0M255.2 151.5h0M192.6 152.3h0M212.9 136.1h0M201.0 186.8h0M193.3 234.6h0M213.9 113.9h0M182.6 160.6h0M184.0 156.5h0M238.3 112.8h0M205.6 182.8h0M77.1 266.6h0M166.7 146.8h0M132.4 196.0h0M102.0 221.2h0M215.8 145.9h0M176.2 225.9h0M214.7 198.3h0M202.0 187.8h0M217.9 134.4h0M224.9 146.9h0M196.9 117.5h0M135.3 220.1h0M180.4 205.7h0M243.2 114.3h0M158.0 176.3h0M233.2 137.5h0M196.5 200.3h0M181.6 180.6h0M174.4 236.0h0M178.6 196.0h0M225.3 117.4h0M214.5 159.0h0M174.2 180.9h0M191.8 224.0h0M215.4 158.8h0M227.7 133.4h0M169.5 147.7h0M174.9 142.7h0M227.6 127.7h0M193.4 155.5h0M198.3 142.9h0M179.1 174.1h0M137.0 219.8h0M157.5 240.6h0M205.5 128.6h0M178.1 180.2h0M196.1 190.6h0M197.6 127.3h0M222.1 176.4h0M172.6 135.4h0M236.6 157.9h0M178.6 153.0h0M188.6 206.5h0M224.5 140.7h0M194.6 177.2h0M203.8 181.9h0M202.5 153.8h0M118.1 229.3h0M211.0 154.0h0M231.4 153.3h0M163.6 192.4h0M131.8 171.7h0M170.5 195.7h0M223.5 127.4h0M223.7 126.5h0M202.2 196.9h0M210.5 160.8h0M184.4 212.9h0M145.0 140.6h0M240.1 141.6h0M176.6 213.9h0M215.9 157.7h0M217.3 119.2h0M211.3 138.6h0M183.8 200.7h0M230.6 145.2h0M216.0 178.8h0M187.6 209.3h0M221.0 184.3h0M173.9 198.8h0M173.3 259.1h0M192.3 149.8h0M212.6 216.2h0M195.3 178.3h0M227.7 135.6h0M255.1 123.6h0M163.4 153.5h0M246.1 124.6h0M187.8 201.0h0M186.8 179.0h0M197.0 103.2h0M166.8 216.6h0M137.0 182.9h0M201.5 166.9h0M217.6 125.2h0M223.4 169.8h0M162.8 225.4h0M208.7 181.7h0M215.0 168.7h0M222.4 184.1h0M189.0 178.3h0M202.7 185.7h0M186.4 135.2h0M199.4 126.6h0M235.7 89.9h0M177.4 208.9h0M233.2 80.5h0M197.4 143.9h0M203.4 181.8h0M186.9 173.0h0M169.3 221.4h0M197.5 137.5h0M250.0 120.1h0M240.2 128.7h0M200.4 172.8h0M207.1 148.7h0M237.4 168.3h0M195.7 191.9h0M193.4 152.7h0M131.6 189.7h0M227.1 93.9h0M226.3 177.8h0M156.4 222.8h0M228.2 231.1h0M193.9 180.5h0M153.5 266.7h0M229.7 140.9h0M204.0 149.6h0M205.2 167.5h0M173.0 174.0h0M147.7 207.1h0M172.1 167.4h0M232.2 104.4h0M170.8 193.1h0M175.3 138.9h0M183.3 217.4h0M209.6 137.3h0M203.4 149.3h0M209.9 124.5h0M161.8 150.2h0M232.3 183.4h0M201.4 145.5h0M235.5 104.5h0M213.5 181.9h0M203.1 196.8h0M227.8 119.1h0M201.7 164.9h0M231.0 109.9h0M247.0 92.5h0M217.1 159.2h0M200.7 148.1h0M183.2 216.0h0M243.1 90.6h0M200.9 187.9h0M188.8 196.7h0M219.8 164.1h0M200.3 173.1h0M223.7 142.6h0M212.8 143.3h0M219.2 105.8h0M127.7 222.4h0M230.3 97.8h0M227.6 124.5h0M205.9 195.6h0M197.8 168.5h0M184.9 174.3h0M198.8 149.2h0M245.2 128.9h0M182.6 204.4h0M206.9 122.0h0M218.6 149.4h0M151.0 198.7h0M210.6 149.7h0M167.0 239.0h0M215.6 131.3h0M169.2 175.9h0M219.3 177.0h0M220.7 173.1h0M149.3 201.3h0M231.4 103.8h0M204.5 177.8h0M217.6 203.2h0M217.2 105.1h0M172.9 177.9h0M200.6 166.7h0M228.8 162.7h0M196.7 177.0h0M195.4 185.8h0M214.9 193.5h0M114.5 220.7h0M135.8 188.9h0M179.7 312.4h0M201.4 189.7h0M182.7 145.7h0M226.5 126.4h0M227.8 110.6h0M213.9 145.6h0M208.3 121.1h0M169.2 191.5h0M166.2 192.1h0M192.9 184.5h0M195.4 160.2h0M222.0 169.2h0M219.6 144.4h0M126.5 225.8h0M242.4 91.9h0M225.8 152.6h0M198.1 180.6h0M230.7 132.2h0M175.7 212.4h0M208.2 171.0h0M184.5 158.7h0M236.9 108.5h0M181.9 147.4h0M212.0 182.3h0M179.1 147.4h0M193.5 103.5h0M201.4 181.2h0M202.7 150.4h0M178.8 211.1h0M194.8 192.3h0M185.7 195.4h0M150.3 218.9h0M183.5 205.8h0M211.6 153.7h0M201.3 180.2h0M236.5 144.3h0M201.7 135.6h0M216.6 136.3h0M234.6 119.5h0M204.3 141.4h0M190.5 139.2h0M175.0 190.4h0M225.5 143.2h0M225.3 103.9h0M215.3 164.6h0M201.8 135.5h0M195.2 192.1h0M201.1 138.8h0M174.8 178.9h0M219.5 131.4h0M199.2 171.1h0M218.4 214.6h0M175.0 150.3h0M203.4 175.9h0M221.9 166.4h0M242.6 110.4h0M229.9 94.4h0M160.1 210.5h0M188.6 155.1h0M193.2 191.8h0M204.7 163.6h0M183.3 209.9h0M223.8 134.6h0M174.1 171.3h0M168.5 178.1h0M150.4 203.7h0M210.1 98.1h0M203.0 157.7h0M203.1 170.4h0M230.1 182.2h0M227.2 125.3h0M195.9 177.6h0M225.4 192.5h0M167.1 196.6h0M218.6 139.2h0M213.5 166.7h0M219.1 149.6h0M208.9 160.7h0M192.3 157.8h0M129.0 235.9h0M237.1 90.5h0M149.4 237.2h0M244.5 99.5h0M224.3 112.3h0M222.6 136.3h0M176.7 148.1h0M192.6 213.0h0M155.9 210.3h0M122.9 231.2h0M173.7 161.0h0M228.7 91.9h0M208.2 185.9h0M186.9 220.9h0M202.9 118.8h0M181.0 208.3h0M247.4 77.8h0M118.2 196.5h0M175.3 172.3h0M115.3 223.0h0M136.1 216.0h0M151.6 103.9h0M179.5 172.8h0M180.9 141.8h0M183.1 166.5h0M213.3 109.4h0M220.0 157.5h0M194.8 163.1h0M248.8 81.5h0M209.1 170.3h0M201.7 219.9h0M241.2 108.0h0M151.5 235.7h0M173.1 171.9h0M200.1 137.1h0M146.8 251.2h0M199.0 170.2h0M199.0 166.3h0M218.4 159.4h0M172.4 217.2h0M242.6 123.2h0M227.9 137.0h0M200.2 147.7h0M237.7 108.4h0M104.6 210.8h0M216.9 171.8h0M198.6 183.5h0M186.7 218.0h0M132.2 172.5h0M242.0 146.7h0M190.1 176.3h0M194.3 173.1h0M223.2 149.8h0M210.0 140.3h0M187.2 157.2h0M195.8 196.8h0M199.7 129.6h0M175.2 295.3h0M215.3 140.8h0M224.9 146.2h0M200.5 121.8h0M219.5 161.2h0M211.0 158.9h0M219.0 191.3h0M156.2 220.2h0M235.5 142.7h0M191.4 205.8h0M218.4 151.0h0M186.7 162.9h0M228.6 122.9h0M194.7 219.5h0M186.6 159.0h0M158.5 193.2h0M221.1 96.9h0M226.2 192.8h0M216.2 139.5h0M212.5 167.8h0M196.7 190.6h0M219.9 130.5h0M201.5 175.9h0M167.6 209.5h0M233.5 129.3h0M201.6 169.6h0M220.2 132.8h0M195.1 125.7h0M202.3 172.0h0M184.8 168.4h0M178.2 187.6h0M193.6 213.0h0M159.8 193.8h0M202.5 154.6h0M206.8 171.6h0M219.2 190.6h0M164.6 209.9h0M193.6 191.4h0M204.2 173.3h0M200.9 123.8h0M119.8 214.8h0M170.7 147.4h0M210.4 162.7h0M176.7 217.8h0M189.3 136.5h0M154.5 224.5h0M200.4 139.9h0M219.4 114.4h0M195.7 174.5h0M216.3 203.9h0M185.8 162.4h0M179.6 210.6h0M186.4 161.7h0M163.8 206.5h0M207.7 119.8h0M202.1 147.7h0M212.6 121.7h0M190.6 197.3h0M202.0 169.8h0M167.8 188.8h0M236.8 141.3h0M156.1 196.8h0M167.1 284.9h0M250.6 112.6h0M192.9 152.3h0M198.2 215.0h0M199.9 212.0h0M181.4 215.4h0M177.4 139.5h0M214.7 179.6h0M226.9 114.2h0M189.1 165.6h0M212.2 180.9h0M197.2 144.2h0M215.5 164.6h0M193.1 158.2h0M232.0 113.9h0M208.7 110.0h0M172.3 202.1h0M229.9 80.0h0M113.3 271.2h0M179.8 220.4h0M149.5 273.1h0M185.0 202.7h0M259.6 79.1h0M221.2 120.5h0M168.9 152.3h0M212.1 132.3h0M229.3 107.9h0M191.8 225.3h0M192.3 223.5h0M208.8 200.4h0M207.7 143.4h0M187.2 212.1h0M143.0 207.1h0M223.8 153.0h0M227.2 122.7h0M227.3 124.2h0M194.1 163.2h0M179.1 209.0h0M215.0 111.9h0M208.6 165.5h0M177.3 156.8h0M203.7 219.4h0M226.3 127.4h0M220.6 188.8h0M206.7 152.9h0M188.2 187.9h0M182.2 207.5h0M179.5 207.9h0M174.3 211.0h0M170.7 148.9h0M188.0 146.7h0M212.3 121.8h0M206.2 143.8h0M201.4 121.1h0M152.9 202.5h0M225.0 104.1h0M225.7 134.0h0M176.8 203.2h0M193.9 200.6h0M183.7 255.5h0M213.7 160.3h0M222.9 103.5h0M170.1 205.6h0M171.6 148.1h0M165.7 201.2h0M244.8 93.8h0M199.8 100.1h0M226.4 183.1h0M226.1 191.6h0M185.8 179.5h0M208.9 176.4h0M158.6 183.0h0M202.6 123.4h0M221.6 108.7h0M206.0 156.2h0M187.8 178.0h0M195.2 142.8h0M241.2 131.9h0M206.9 167.3h0M206.1 163.2h0M219.6 145.7h0M175.2 228.4h0M162.4 234.9h0M213.6 104.0h0M135.5 170.9h0M244.6 141.2h0M187.3 154.5h0M205.4 97.7h0M212.2 112.8h0M204.4 99.6h0M245.1 122.4h0M195.8 188.2h0M253.3 112.4h0M218.1 218.1h0M189.7 204.9h0M223.2 145.7h0M170.0 192.3h0M165.5 239.3h0M204.6 120.5h0M195.2 179.3h0M183.7 169.4h0M224.3 151.3h0M219.4 148.3h0M224.0 114.3h0M119.9 188.0h0M230.4 135.0h0M213.1 164.7h0M169.6 228.8h0M179.2 156.0h0M213.4 152.0h0M206.4 230.4h0M115.2 181.7h0M202.2 180.3h0M178.6 138.9h0M191.9 187.4h0M242.3 159.7h0M196.7 177.6h0M209.3 161.9h0M220.7 113.0h0M175.2 216.5h0M224.2 192.3h0M194.3 243.0h0M197.5 150.8h0M202.5 147.4h0M221.7 124.2h0M236.1 150.7h0M210.1 153.1h0M230.7 132.7h0M204.1 145.1h0M183.2 149.1h0M198.3 213.0h0M198.7 167.3h0M159.6 207.2h0M209.2 104.9h0M204.2 133.5h0M147.7 239.8h0M202.9 105.0h0M240.7 110.2h0M202.0 174.9h0M221.9 148.6h0M210.0 134.4h0M197.3 184.2h0M196.4 184.2h0M231.1 133.4h0M215.1 177.1h0M204.7 168.2h0M160.6 211.1h0M206.6 110.0h0M197.8 140.5h0M168.8 179.8h0M222.6 99.6h0M146.0 211.0h0M223.1 250.4h0M210.6 153.6h0M132.2 201.4h0M190.6 142.9h0M125.0 237.3h0M218.2 137.2h0M262.2 84.2h0M210.4 109.9h0M207.9 168.6h0M226.4 101.3h0M185.1 263.2h0M211.4 186.4h0M198.6 180.2h0M202.0 185.9h0M201.8 164.2h0M164.8 218.0h0M137.3 194.4h0M205.5 165.5h0M208.7 147.8h0M213.6 125.9h0M206.5 151.9h0M201.8 156.6h0M208.2 112.9h0M145.4 227.7h0M225.9 144.2h0M190.2 177.2h0M243.1 109.4h0M168.0 178.4h0M157.2 187.9h0M227.9 112.7h0M190.0 257.7h0M198.1 129.2h0M224.6 144.8h0M199.8 197.0h0M220.2 154.6h0M172.5 216.3h0M212.3 141.3h0M173.9 151.7h0M188.5 192.4h0M184.2 213.3h0M199.4 217.7h0M165.6 148.3h0M176.5 176.3h0M165.4 163.4h0M202.7 190.8h0M164.2 139.7h0M150.6 210.0h0M218.4 194.5h0M225.9 131.2h0M161.3 151.7h0M205.5 154.5h0M187.8 229.5h0M207.1 168.3h0M182.8 184.9h0M147.7 229.7h0M213.8 161.8h0M169.1 236.4h0M226.6 148.9h0M243.7 90.1h0M216.2 117.8h0M210.1 192.4h0M185.9 160.0h0M185.0 209.2h0M181.4 176.5h0M182.8 191.7h0M200.5 156.6h0M177.6 182.0h0M191.4 192.9h0M232.6 159.5h0M223.1 172.1h0M200.1 210.7h0M166.4 229.2h0M224.2 156.3h0M232.3 109.6h0M206.0 210.5h0M172.7 167.4h0M216.1 251.4h0M168.8 199.9h0M219.4 158.4h0M165.1 211.7h0M208.0 178.0h0M175.0 194.5h0M89.4 217.9h0M170.8 181.3h0M161.3 237.0h0M203.3 162.0h0M156.6 159.7h0M161.6 187.3h0M186.9 162.7h0M178.3 193.9h0M199.1 176.3h0M164.6 197.6h0M141.1 208.0h0M198.5 180.0h0M163.5 224.6h0M205.9 202.1h0M163.1 212.8h0M247.8 93.8h0M216.2 91.7h0M197.8 186.7h0M208.9 154.1h0M183.2 215.6h0M183.5 161.2h0M179.8 197.8h0M195.9 142.4h0M187.4 186.2h0M192.8 221.2h0M225.2 213.7h0M205.3 158.2h0M208.1 171.1h0M197.4 176.7h0M220.4 155.6h0M204.6 171.3h0M187.0 247.3h0M185.6 216.9h0M237.9 151.8h0M209.5 191.5h0M113.6 237.5h0M208.9 157.7h0M178.1 211.5h0M126.5 204.2h0M151.9 218.2h0M218.1 113.8h0M135.9 227.1h0M165.2 264.0h0M177.7 141.7h0M202.1 186.6h0M234.1 115.1h0M201.3 183.5h0M173.4 194.0h0M184.9 198.0h0M164.8 212.8h0M223.6 149.0h0M229.0 120.5h0M211.0 206.8h0M224.1 96.6h0M231.2 140.5h0M202.2 141.1h0M178.7 201.4h0M178.0 166.8h0M186.1 209.8h0M188.1 190.0h0M187.2 210.6h0M205.2 202.7h0M173.9 216.9h0M215.4 146.7h0M224.9 156.9h0M190.1 186.1h0M180.8 181.6h0M188.2 201.7h0M188.2 205.6h0M218.4 150.6h0M238.8 121.5h0M168.7 197.5h0M200.1 191.9h0M225.7 146.8h0M221.0 106.9h0M238.8 95.5h0M192.0 142.8h0M213.0 146.3h0M250.9 136.5h0M231.5 105.1h0M200.6 130.5h0M213.4 156.2h0M227.8 115.6h0M229.0 136.4h0M150.4 166.4h0M154.3 211.4h0M172.6 215.3h0M146.3 162.7h0M244.2 122.4h0M170.7 145.7h0M168.9 190.7h0M171.1 163.0h0M179.0 180.3h0M197.7 197.0h0M199.0 189.1h0M191.5 213.2h0M232.6 114.1h0M168.1 149.5h0M237.3 99.8h0M125.2 175.2h0M180.1 184.8h0M204.6 143.6h0M219.8 106.5h0M206.0 169.2h0M193.3 130.0h0M237.1 134.5h0M217.0 160.0h0M192.8 235.9h0M214.9 157.5h0M200.8 194.1h0M203.8 158.9h0M227.7 162.7h0M202.1 125.1h0M222.9 132.9h0M183.3 200.9h0M196.6 165.4h0M216.8 147.9h0M132.3 272.7h0M190.1 216.6h0M227.9 145.0h0M202.4 166.0h0M204.8 180.0h0M199.7 129.7h0M162.6 165.2h0M198.6 147.8h0M174.4 205.9h0M252.6 116.1h0M151.6 281.5h0M226.0 140.9h0M225.1 153.9h0M249.9 111.7h0M175.3 224.2h0M189.0 208.4h0M224.5 109.8h0M176.7 176.0h0M182.3 161.1h0M160.9 183.9h0M237.2 154.5h0M177.6 241.8h0M212.1 138.2h0M179.7 207.2h0M200.1 145.5h0M189.7 188.2h0M200.7 165.3h0M205.3 175.7h0M209.0 175.3h0M152.3 185.9h0M230.3 109.9h0M243.5 107.6h0M100.2 252.9h0M207.5 143.4h0M207.7 157.1h0M236.0 141.5h0M199.4 187.8h0M153.9 267.8h0M209.2 162.4h0M220.6 152.7h0M210.9 156.2h0M253.1 97.2h0M230.3 115.0h0M199.8 104.4h0M191.6 153.0h0M153.8 268.5h0M214.9 125.3h0M203.9 178.1h0M220.0 136.5h0M249.6 100.7h0M190.8 209.7h0M239.0 122.7h0M198.4 124.2h0M169.3 206.8h0M221.3 142.1h0M217.6 135.2h0M182.3 235.0h0M219.8 134.5h0M163.3 208.9h0M229.7 150.8h0M221.9 179.8h0M176.9 151.3h0M194.1 154.9h0M171.9 230.3h0M185.9 222.9h0M217.1 131.2h0M153.0 195.7h0M230.7 125.0h0M205.2 149.8h0M249.9 110.6h0M195.1 188.0h0M201.5 195.9h0M207.0 198.1h0M196.7 201.3h0M192.8 161.5h0M230.1 131.6h0M248.2 82.1h0M174.1 166.6h0M159.9 230.7h0M193.3 167.5h0M199.0 184.9h0M194.8 225.3h0M148.4 213.8h0M196.6 197.3h0M192.0 182.5h0M193.6 140.3h0M197.7 198.3h0M186.1 164.1h0M158.5 193.8h0M223.7 139.0h0M188.0 233.9h0M199.0 129.4h0M198.3 203.3h0M192.3 219.0h0M211.0 127.2h0M209.2 214.2h0M189.8 187.7h0M196.1 183.7h0M165.5 143.6h0M215.4 153.6h0M202.0 140.8h0M210.8 166.7h0M149.6 188.0h0M203.9 196.1h0M209.7 193.7h0M229.9 155.9h0M146.4 154.5h0M199.7 200.0h0M171.4 255.9h0M156.6 138.8h0M187.2 163.6h0M208.8 146.7h0M212.5 256.7h0M226.1 92.3h0M178.6 219.4h0M182.7 200.5h0M211.9 154.0h0M179.9 191.2h0M216.3 158.6h0M205.6 187.0h0M173.1 165.0h0M208.8 224.8h0M184.3 168.5h0M174.1 206.2h0M210.2 180.9h0M206.2 158.9h0M177.7 249.1h0M226.3 134.6h0M184.9 223.0h0M130.3 264.3h0M154.3 211.5h0M202.6 184.3h0M203.2 185.5h0M179.2 228.9h0M198.0 165.8h0M193.0 207.8h0M183.3 201.3h0M143.1 213.1h0M207.8 166.7h0M198.3 188.5h0M240.6 115.6h0M212.7 110.9h0M203.1 118.8h0M191.3 196.8h0M197.3 156.9h0M172.7 223.1h0M237.3 112.6h0M223.6 130.8h0M207.4 209.6h0M209.4 164.2h0M235.7 138.6h0M199.6 202.1h0M266.6 140.7h0M165.6 255.4h0M210.0 146.5h0M198.5 213.1h0M181.8 170.9h0M159.0 231.6h0M213.2 149.4h0M180.3 227.8h0M182.0 150.3h0M204.5 167.5h0M185.5 186.5h0M196.1 178.7h0M193.1 190.3h0M183.3 192.7h0M234.9 145.5h0M247.7 87.1h0M181.9 195.6h0M195.0 183.3h0M210.1 179.6h0M209.4 172.6h0M197.2 228.9h0M207.6 149.5h0M177.2 224.0h0M242.9 130.0h0M188.9 192.6h0M204.4 234.2h0M238.1 127.6h0M175.0 200.8h0M185.0 146.3h0M236.4 107.5h0M188.2 165.6h0M162.4 193.0h0M177.6 147.7h0M193.8 238.4h0M250.3 78.8h0M212.8 145.5h0M212.5 155.2h0M208.9 158.8h0M213.2 149.9h0M242.0 94.7h0M209.9 137.0h0M162.7 144.7h0M201.7 190.4h0M210.8 159.5h0M188.3 195.4h0M222.2 166.9h0M179.9 155.1h0M168.3 128.5h0M233.0 139.8h0M189.4 221.4h0M166.6 168.2h0M202.0 151.7h0M223.4 138.3h0M146.8 216.3h0M197.3 193.6h0M221.2 192.6h0M220.0 205.1h0M214.0 141.7h0M192.2 196.4h0M212.9 110.7h0M193.1 189.7h0M203.0 152.8h0M168.2 189.4h0M190.3 139.5h0M230.9 156.7h0M192.2 190.2h0M122.5 233.3h0M199.9 155.1h0M236.9 130.2h0M241.6 122.2h0M176.9 190.3h0M179.5 219.8h0M247.6 92.5h0M201.2 155.6h0M198.9 130.2h0M118.5 240.8h0M223.1 123.6h0M216.2 110.0h0M154.1 200.5h0M157.1 312.6h0M198.7 201.2h0M238.1 120.2h0M199.8 163.0h0M223.7 175.1h0M155.6 220.8h0M184.7 198.8h0M207.1 107.8h0M211.3 168.0h0M182.0 201.8h0M159.4 177.5h0M171.9 189.9h0M203.2 249.7h0M190.0 261.1h0M181.1 209.7h0M207.5 180.5h0M178.3 150.9h0M206.1 128.6h0M180.2 130.0h0M173.3 187.3h0M176.0 201.1h0M186.5 213.1h0M192.9 224.5h0M222.9 148.3h0M241.1 154.3h0M209.1 134.8h0M196.5 177.6h0M181.0 236.6h0M153.5 199.3h0M196.8 166.2h0M225.2 128.5h0M158.0 210.6h0M184.0 220.2h0M203.4 200.6h0M189.1 148.9h0M157.5 161.0h0M196.0 181.7h0M145.8 225.6h0M218.4 142.0h0M188.9 164.4h0M232.7 107.8h0M265.8 80.3h0M223.8 142.0h0M173.7 205.7h0M162.8 190.7h0M146.2 170.6h0M158.2 163.2h0M197.4 145.1h0M186.2 200.3h0M175.9 171.7h0M212.4 110.4h0M129.6 186.0h0M100.4 285.9h0M179.0 111.1h0M174.5 299.5h0M191.5 117.1h0M217.6 150.9h0M132.0 258.6h0M176.0 254.1h0M223.2 132.9h0M198.5 195.2h0M209.7 184.6h0M187.4 161.9h0M159.3 202.4h0M174.6 186.7h0M200.0 139.3h0M207.2 172.0h0M185.0 194.1h0M192.1 185.4h0M201.5 177.5h0M166.4 197.1h0M242.8 124.1h0M199.9 102.8h0M234.5 99.4h0M199.1 185.3h0M173.4 166.0h0M149.4 209.5h0M182.5 253.5h0M214.4 119.7h0M164.1 159.7h0M173.2 164.3h0M209.2 177.9h0M149.0 223.4h0M224.5 183.3h0M225.5 150.5h0M184.9 189.5h0M213.9 153.7h0M175.9 178.8h0M217.8 116.9h0M178.3 179.7h0M211.9 170.8h0M159.6 187.8h0M191.3 179.9h0M194.7 180.6h0M193.2 197.0h0M183.6 123.8h0M140.5 198.6h0M170.5 185.7h0M182.8 192.0h0M204.6 162.1h0M228.0 114.0h0M209.5 226.8h0M188.8 208.2h0M174.9 258.2h0M188.9 168.8h0M188.1 217.9h0M187.0 215.3h0M204.2 178.2h0M168.3 221.2h0M189.3 206.5h0M241.0 117.8h0M207.2 123.9h0M156.5 163.0h0M207.0 176.5h0M208.2 188.5h0M188.8 179.7h0M163.7 216.2h0M253.2 204.6h0M216.2 117.7h0M181.2 154.9h0M161.8 218.5h0M191.6 199.0h0M229.1 91.9h0M181.8 186.0h0M227.8 122.5h0M187.5 173.4h0M163.4 288.8h0M226.0 111.6h0M134.0 207.7h0M199.2 171.3h0M87.5 261.3h0M191.1 213.3h0M200.4 109.1h0M184.5 187.6h0M130.2 213.4h0M201.2 147.1h0M134.6 193.6h0M229.8 143.6h0M213.2 136.2h0M213.2 154.0h0M149.0 149.0h0M122.2 245.7h0M209.9 140.8h0M172.2 164.9h0M223.5 171.5h0M170.6 192.3h0M167.2 252.0h0M196.1 184.7h0M172.0 213.4h0M230.2 123.5h0M172.9 189.4h0M225.1 130.8h0M195.0 215.3h0M195.6 182.9h0M222.6 124.4h0M168.0 211.7h0M196.8 175.6h0M206.9 171.5h0M221.8 113.1h0M126.7 222.7h0M198.8 174.5h0M171.7 214.1h0M231.7 111.7h0M189.1 191.1h0M223.5 159.3h0M168.0 176.9h0M168.0 185.7h0M188.5 208.0h0M142.0 227.2h0M222.3 129.8h0M175.3 213.3h0M188.4 120.6h0M247.0 88.7h0M225.2 150.1h0M212.2 147.9h0M148.4 200.9h0M205.1 179.3h0M181.4 160.8h0M178.0 203.3h0M178.1 231.8h0M171.5 187.4h0M119.9 188.5h0M169.0 213.6h0M208.1 148.9h0M129.9 294.5h0M203.2 131.4h0M237.6 103.5h0M176.1 207.7h0M209.1 131.1h0M194.1 154.5h0M198.8 174.4h0M224.4 119.5h0M194.3 164.8h0M176.6 156.7h0M219.1 114.1h0M166.4 183.6h0M200.9 167.8h0M232.0 128.6h0M195.7 203.0h0M209.9 163.3h0M234.8 96.6h0M166.1 216.8h0M208.8 163.2h0M216.7 115.5h0M202.4 148.4h0M195.2 143.7h0M228.9 103.1h0M204.8 153.9h0M239.0 130.2h0M225.4 137.5h0M179.3 190.6h0M233.6 128.4h0M228.0 94.8h0M228.9 131.8h0M218.2 149.3h0M251.0 129.5h0M167.1 183.0h0M172.5 216.8h0M174.8 208.7h0M202.5 169.9h0M192.2 202.7h0M157.4 203.3h0M173.2 186.7h0M187.6 204.9h0M215.5 159.7h0M157.0 198.2h0M136.9 175.4h0M201.7 197.2h0M197.2 197.3h0M238.9 109.3h0M154.0 209.2h0M227.6 100.5h0M203.8 165.2h0M198.7 182.4h0M175.3 207.7h0M227.4 107.1h0M203.4 190.3h0M190.1 155.6h0M221.2 102.1h0M197.7 154.1h0M178.0 187.3h0M227.2 113.4h0M171.0 211.4h0M217.3 102.8h0M229.3 141.4h0M212.6 153.7h0M221.9 108.9h0M194.2 227.9h0M130.3 248.7h0M172.6 222.2h0M214.0 135.2h0M163.7 209.1h0M192.4 154.7h0M210.8 148.4h0M153.5 192.1h0M218.9 114.0h0M247.0 83.6h0M178.9 229.8h0M211.0 156.7h0M215.6 203.9h0M209.2 165.0h0M222.3 115.7h0M195.6 170.3h0M217.8 130.6h0M230.6 113.0h0M231.9 93.6h0M220.7 162.2h0M190.2 144.2h0M213.8 154.5h0M175.4 245.2h0M150.7 208.5h0M201.9 193.7h0M218.9 142.1h0M168.6 198.5h0M220.6 192.9h0M205.0 176.0h0M206.5 141.4h0M206.2 136.6h0M185.9 164.3h0M215.0 146.7h0M175.3 217.9h0M169.0 169.4h0M145.9 190.9h0M154.7 220.4h0M181.6 185.4h0M212.3 128.8h0M194.0 152.4h0M182.9 227.0h0M239.3 103.7h0M215.3 138.8h0M141.0 185.1h0M168.6 212.4h0M187.0 207.3h0M181.0 196.4h0M190.9 193.4h0M205.7 159.1h0M185.8 108.1h0M132.0 186.9h0M233.2 111.0h0M167.9 204.3h0M225.9 123.4h0M229.3 96.1h0M158.0 315.6h0M233.4 129.9h0M146.5 181.5h0M227.5 108.2h0M92.6 263.7h0M238.0 92.3h0M194.6 191.9h0M186.4 210.7h0M210.6 149.4h0M213.5 86.4h0M234.8 100.8h0M237.1 108.0h0M198.1 199.0h0M242.6 176.0h0M182.9 220.3h0M149.8 186.5h0M180.4 182.7h0M217.0 135.7h0M225.8 139.1h0M120.6 261.0h0M184.7 239.5h0M208.3 166.4h0M145.0 203.9h0M194.6 195.2h0M195.2 146.9h0M214.9 135.4h0M170.9 198.3h0M170.0 245.9h0M117.5 267.4h0M211.2 157.1h0M191.9 109.2h0M193.0 152.4h0M217.6 110.3h0M187.5 273.8h0M214.4 150.8h0M164.5 211.3h0M183.0 142.5h0M166.7 244.0h0M184.0 171.9h0M210.9 209.2h0M129.4 183.2h0M183.8 200.3h0M186.3 111.1h0M236.1 114.5h0M188.7 157.1h0M200.3 216.5h0M146.9 223.3h0M202.0 194.2h0M195.0 183.2h0M241.3 104.7h0M171.2 228.8h0M120.0 189.2h0M174.6 184.9h0M140.0 210.4h0M223.8 141.0h0M198.6 185.3h0M187.4 191.4h0M190.1 199.2h0M226.8 116.1h0M171.7 196.1h0M228.7 221.7h0M194.1 186.1h0M214.5 130.4h0M131.7 225.8h0M213.5 117.7h0M213.1 140.1h0M167.7 212.5h0M181.7 182.2h0M205.0 154.5h0M134.2 205.0h0M189.7 188.0h0M196.3 120.9h0M197.1 140.4h0M161.8 205.9h0M192.3 206.0h0M231.7 111.4h0M197.0 175.3h0M159.1 194.5h0M198.8 153.2h0M236.0 108.5h0M216.6 164.1h0M127.7 231.4h0M174.8 196.3h0M216.6 137.5h0M181.8 210.9h0M188.8 190.0h0M217.0 148.6h0M183.0 145.6h0M234.8 131.6h0M161.9 162.7h0M205.5 157.5h0M215.7 147.9h0M193.5 215.8h0M196.4 199.7h0M208.6 172.3h0M190.0 246.0h0M184.9 190.5h0M181.8 239.3h0M201.4 207.9h0M160.2 186.7h0M154.5 192.5h0M158.5 201.4h0M218.4 199.3h0M208.4 215.7h0M198.9 155.0h0M207.6 157.9h0M217.8 142.6h0M190.4 226.8h0M123.6 222.0h0M188.5 166.8h0M197.0 162.3h0M224.9 123.7h0M164.7 257.3h0M181.3 190.4h0M171.1 246.6h0M131.6 186.5h0M236.2 174.5h0M196.2 198.3h0M198.8 218.3h0M161.1 210.9h0M214.1 155.8h0M223.3 173.7h0M203.1 235.7h0M198.5 173.7h0M151.1 204.8h0M198.2 175.6h0M170.7 209.0h0M242.3 109.9h0M237.5 76.4h0M222.1 115.2h0M204.0 166.2h0M195.1 158.3h0M186.8 243.4h0M122.6 299.1h0M184.7 124.0h0M169.3 209.3h0M207.6 174.0h0M164.5 210.3h0M192.5 158.5h0M194.5 201.1h0M247.7 82.5h0M187.8 169.6h0M208.2 154.1h0M207.5 143.3h0M215.9 150.0h0M204.4 164.3h0M180.4 172.6h0M185.6 175.6h0M168.2 196.8h0M184.0 208.2h0M178.2 245.1h0M169.5 190.1h0M205.3 144.0h0M197.6 181.2h0M214.0 166.4h0M216.2 140.8h0M229.9 154.1h0M214.1 139.9h0M211.7 177.1h0M222.2 109.4h0M173.2 177.5h0M203.3 163.5h0M248.3 85.0h0M214.2 146.6h0M166.9 253.0h0M185.8 181.2h0M214.2 109.0h0M186.6 181.1h0M194.0 193.5h0M231.7 124.1h0M135.3 162.4h0M221.9 137.6h0M209.5 177.5h0M197.8 207.5h0M217.4 141.5h0M228.2 125.0h0M213.1 124.9h0M189.6 184.7h0M232.8 110.2h0M172.0 175.8h0M147.5 205.8h0M186.0 200.4h0M157.6 190.2h0M241.0 88.8h0M170.1 165.7h0M215.0 142.0h0M197.0 174.6h0M209.9 127.2h0M204.9 124.2h0M151.9 239.0h0M118.4 217.0h0M213.0 116.7h0M180.1 208.3h0M240.1 109.3h0M196.1 154.9h0M154.2 288.1h0M195.7 233.8h0M220.8 169.6h0M175.6 193.3h0M216.3 160.1h0M194.5 211.5h0M213.9 152.0h0M197.2 136.4h0M203.9 125.9h0M199.0 186.4h0M225.6 179.0h0M164.9 221.7h0M237.4 126.3h0M208.6 205.1h0M131.3 235.3h0M170.1 198.1h0M250.3 120.3h0M230.4 127.5h0M235.2 114.6h0M206.3 154.2h0M199.2 199.5h0M201.3 126.0h0M231.0 167.6h0M211.3 103.2h0M146.1 191.0h0M227.1 116.9h0M202.6 203.6h0M180.4 184.6h0M214.7 133.8h0M145.9 193.0h0M204.1 156.1h0M173.8 175.5h0M172.1 178.9h0M182.3 146.1h0M182.1 164.1h0M209.3 202.8h0M174.2 214.1h0M179.5 211.5h0M224.0 180.1h0M159.4 215.5h0M203.3 125.1h0M171.1 267.7h0M209.9 103.4h0M183.0 220.9h0M210.4 203.4h0M181.1 161.0h0M168.8 203.3h0M199.4 242.6h0M199.8 129.4h0M174.0 188.2h0M247.9 82.3h0M181.7 189.6h0M214.0 108.2h0M212.1 190.0h0M224.3 97.1h0M206.5 162.5h0M157.9 214.5h0M203.7 150.7h0M80.1 251.3h0M210.5 170.0h0M209.5 132.4h0M194.1 231.9h0M198.8 127.9h0M181.5 182.7h0M178.4 234.8h0M173.0 233.8h0M169.2 178.8h0M212.4 137.3h0M169.2 173.1h0M210.0 148.8h0M155.6 151.8h0M209.7 152.2h0M231.2 135.7h0M239.9 101.4h0M196.7 198.5h0M233.7 90.2h0M204.8 180.6h0M196.3 158.3h0M187.7 188.3h0M190.9 181.3h0M75.6 170.8h0M205.5 201.7h0M199.9 180.5h0M188.0 220.7h0M171.4 181.8h0M186.3 216.2h0M183.4 214.0h0M133.9 193.8h0M171.8 153.7h0M199.0 171.6h0M207.1 112.5h0M184.6 195.7h0M175.1 187.9h0M201.7 207.0h0M194.0 113.8h0M198.2 122.9h0M167.2 187.9h0M152.8 196.5h0M217.1 111.3h0M231.5 98.6h0M180.5 153.1h0M210.6 154.9h0M242.7 105.5h0M236.2 116.7h0M238.5 136.0h0M249.7 90.9h0M219.6 126.5h0M251.7 96.6h0M218.8 158.6h0M212.0 198.3h0M184.9 189.4h0M144.0 183.7h0M174.2 169.6h0M219.1 133.3h0M235.3 104.4h0M213.4 133.0h0M187.8 236.9h0M152.2 206.4h0M178.1 180.3h0M205.6 184.6h0M185.9 197.9h0M180.4 207.5h0M229.3 141.8h0M197.0 204.8h0M158.4 188.1h0M212.8 146.9h0M176.6 148.3h0M218.1 130.6h0M200.4 178.0h0M102.8 250.8h0M204.9 203.2h0M241.0 129.8h0M228.2 121.2h0M221.1 147.5h0M235.6 129.4h0M217.8 125.5h0M200.9 196.5h0M212.6 151.8h0M160.0 179.8h0M190.2 151.9h0M140.7 268.8h0M218.0 182.5h0M223.0 125.0h0M197.3 201.7h0M200.6 148.5h0M173.1 168.2h0M234.2 148.2h0M257.6 171.9h0M216.3 150.9h0M203.8 152.6h0M232.7 128.2h0M129.8 244.2h0M211.9 136.6h0M182.5 147.6h0M208.3 163.3h0M225.8 120.8h0M206.5 139.9h0M189.2 163.0h0M135.0 181.7h0M177.6 176.8h0M219.6 158.5h0M180.8 190.8h0M203.4 198.0h0M194.8 145.2h0M211.8 141.5h0M180.9 185.8h0M197.0 163.4h0M190.1 208.7h0M215.3 87.9h0M205.4 177.4h0M214.3 156.1h0M215.4 137.3h0M177.1 214.7h0M210.9 138.1h0M192.1 203.1h0M177.5 212.4h0M114.0 249.7h0M224.9 120.5h0M230.3 128.0h0M230.0 113.7h0M208.1 152.6h0M177.1 222.7h0M179.1 187.6h0M206.0 127.7h0M192.5 118.4h0M180.3 198.4h0M205.3 185.6h0M244.3 79.0h0M172.9 182.0h0M227.1 133.7h0M211.4 149.1h0M226.2 117.4h0M168.2 281.4h0M208.6 168.4h0M191.0 185.0h0M200.7 136.0h0M225.4 159.2h0M191.3 188.0h0M153.7 198.1h0M179.0 222.7h0M226.4 142.7h0M186.6 141.5h0M218.7 162.5h0M204.1 151.0h0M230.5 207.1h0M212.6 158.8h0M202.4 159.1h0M213.6 173.3h0M223.5 179.7h0M198.8 156.6h0M244.4 87.1h0M173.4 196.8h0M233.2 120.2h0M143.0 212.4h0M209.5 142.6h0M171.8 143.8h0M203.6 176.7h0M114.4 222.8h0M167.9 159.9h0M202.0 171.0h0M195.0 163.8h0M216.2 119.7h0M191.3 148.3h0M151.3 225.3h0M118.9 233.3h0M215.9 143.7h0M186.7 226.2h0M245.5 91.9h0M185.8 195.1h0M254.8 96.6h0M207.1 165.1h0M213.8 163.6h0M205.8 166.0h0M170.7 234.1h0M190.8 156.5h0M199.8 93.1h0M230.6 119.3h0M182.0 198.4h0M243.4 122.9h0M196.4 107.4h0M226.1 134.6h0M129.3 260.1h0M200.5 167.1h0M194.3 126.5h0M194.9 189.1h0M203.7 159.6h0M206.6 178.5h0M166.6 294.9h0M194.7 193.0h0M224.4 176.7h0M172.4 306.5h0M194.6 173.6h0M215.4 168.0h0M172.4 211.8h0M175.1 242.9h0M173.9 195.1h0M191.9 158.1h0M142.1 162.4h0M248.6 87.2h0M191.8 141.5h0M193.5 201.6h0M221.1 171.9h0M145.1 212.8h0M201.9 190.2h0M192.3 179.9h0M187.3 205.3h0M172.4 172.8h0M190.4 189.9h0M200.2 171.9h0M222.8 156.6h0M237.1 200.2h0M230.7 110.6h0M150.6 259.4h0M209.1 244.6h0M176.1 208.7h0M198.3 169.6h0M201.6 167.7h0M208.5 162.4h0M208.6 168.7h0M204.2 138.8h0M178.6 204.4h0M205.6 217.1h0M232.6 173.1h0M183.6 212.2h0M212.9 148.8h0M167.4 213.3h0M183.7 255.2h0M177.6 190.2h0M168.9 246.0h0M175.7 195.8h0M173.8 192.5h0M200.1 170.2h0M228.7 107.7h0M212.8 122.3h0M176.6 208.3h0M218.6 132.4h0M177.9 191.8h0M208.2 128.7h0M179.3 199.1h0M181.2 241.4h0M207.2 185.1h0M234.5 101.5h0M175.3 197.0h0M198.6 170.5h0M206.1 214.3h0M230.4 126.7h0M192.5 147.3h0M171.5 226.0h0M165.8 209.7h0M164.1 223.3h0M160.6 175.2h0M189.8 190.6h0M133.2 230.6h0M176.6 189.2h0M241.7 114.5h0M230.9 127.7h0M239.2 79.4h0M206.7 119.6h0M210.1 97.2h0M166.3 160.4h0M170.0 185.0h0M170.2 213.5h0M181.6 163.1h0M227.8 128.8h0M172.5 223.2h0M158.8 225.3h0M196.0 259.7h0M242.0 95.7h0M194.3 182.4h0M217.1 186.3h0M213.3 176.6h0M204.8 133.4h0M178.4 226.4h0M186.7 176.9h0M208.6 100.9h0M228.8 155.8h0M208.0 196.0h0M177.1 135.8h0M190.2 201.6h0M185.7 137.0h0M214.4 165.8h0M208.9 148.9h0M217.6 122.7h0M195.7 217.7h0M206.8 155.1h0M178.8 198.6h0M189.9 219.2h0M204.8 147.6h0M253.0 83.8h0M196.6 175.7h0M230.0 140.9h0M193.1 215.8h0M227.9 129.5h0M163.2 195.3h0M253.0 96.6h0M206.4 146.0h0M236.5 134.9h0M162.9 212.0h0M187.0 183.2h0M184.2 189.2h0M238.5 113.3h0M194.9 151.0h0M181.7 219.4h0M156.7 184.6h0M165.5 199.3h0M200.7 173.2h0M214.2 136.2h0M122.8 224.5h0M217.5 145.0h0M201.7 130.4h0M237.5 188.1h0M223.1 114.2h0M217.1 200.1h0M196.9 194.4h0M209.7 160.2h0M179.8 174.6h0M196.2 171.6h0M231.9 111.5h0M194.4 112.7h0M226.5 156.5h0M230.4 84.9h0M210.0 133.0h0M150.2 158.1h0M198.0 186.0h0M206.8 174.7h0M221.7 131.0h0M192.5 199.5h0M173.0 203.8h0M192.2 189.5h0M206.2 191.9h0M204.5 143.5h0M185.6 209.9h0M203.6 181.8h0M214.1 131.7h0M195.0 191.6h0M194.7 186.0h0M183.5 180.1h0M230.1 169.9h0M173.5 200.4h0M211.2 196.3h0M208.1 182.2h0M194.3 109.6h0M216.9 140.3h0M182.6 261.4h0M213.0 162.4h0M170.5 186.6h0M224.9 123.5h0M167.5 180.4h0M168.8 184.2h0M174.7 199.8h0M171.7 251.1h0M220.3 168.3h0M212.7 151.6h0M231.4 128.6h0M183.2 154.3h0M176.6 167.0h0M149.7 247.1h0M220.2 174.2h0M135.5 190.7h0M148.3 196.6h0M238.4 90.6h0M227.7 140.5h0M159.7 177.2h0M224.9 107.0h0M196.4 127.0h0M206.1 198.8h0M199.5 190.6h0M224.4 124.8h0M222.2 120.9h0M172.0 210.6h0M201.0 170.1h0M195.4 152.0h0M165.8 195.1h0M163.3 190.1h0M162.0 289.2h0M211.1 118.0h0M196.5 200.6h0M155.2 168.8h0M219.4 142.7h0M204.8 172.9h0M248.3 94.3h0M218.4 122.1h0M198.5 119.0h0M166.4 192.4h0M204.0 194.0h0M207.4 142.1h0M200.7 150.9h0M169.2 201.1h0M202.6 160.7h0M201.6 156.1h0M121.6 236.1h0M182.3 177.6h0M209.3 177.0h0M212.6 184.4h0M228.9 102.2h0M192.5 162.0h0M202.4 203.1h0M183.6 188.4h0M144.3 218.9h0M204.5 151.3h0M214.3 170.4h0M244.8 140.8h0M208.6 133.0h0M231.3 115.3h0M210.4 135.2h0M232.0 129.3h0M204.1 166.5h0M205.7 163.4h0M160.2 200.1h0M175.1 201.8h0M188.6 177.3h0M104.8 188.9h0M210.3 169.7h0M208.4 151.3h0M193.1 173.4h0M183.0 186.4h0M169.0 241.0h0M183.4 206.7h0M190.8 109.5h0M192.7 187.3h0M226.8 115.3h0M192.2 185.5h0M116.1 211.6h0M182.4 193.1h0M200.9 121.2h0M206.0 164.8h0M231.7 134.6h0M202.5 189.3h0M179.1 194.2h0M172.6 197.0h0M186.2 157.0h0M197.8 183.1h0M203.3 136.7h0M156.3 229.4h0M96.1 232.8h0M218.9 98.4h0M176.9 179.6h0M173.9 195.0h0M228.1 140.2h0M209.9 99.4h0M225.2 78.4h0M196.2 193.8h0M226.8 89.7h0M200.5 160.6h0M183.7 204.3h0M229.6 105.7h0M155.9 193.8h0M212.7 165.6h0M222.0 160.9h0M161.7 171.3h0M200.4 156.5h0M191.2 213.6h0M184.6 190.2h0M183.2 160.7h0M215.6 121.3h0M208.3 173.5h0M107.3 313.2h0M178.9 219.2h0M234.6 109.8h0M192.4 157.0h0M206.4 169.8h0M210.9 162.8h0M234.4 119.7h0M227.9 133.1h0M139.6 176.7h0M199.7 195.3h0M195.4 194.8h0M203.5 190.4h0M169.1 190.6h0M251.0 87.0h0M219.3 138.2h0M183.6 154.6h0M227.0 143.9h0M187.7 160.8h0M167.5 162.1h0M211.4 155.0h0M233.3 88.4h0M186.0 214.2h0M159.6 242.1h0M196.0 184.9h0M220.6 146.2h0M199.6 167.7h0M188.5 224.0h0M204.6 183.3h0M168.1 192.8h0M209.2 193.1h0M174.3 263.7h0M192.1 188.7h0M244.5 118.9h0M219.0 173.6h0M186.1 226.9h0M196.6 123.1h0M234.2 105.3h0M227.6 105.0h0M220.1 110.3h0M225.9 129.3h0M175.5 200.9h0M215.5 183.3h0M190.0 196.4h0M195.2 178.9h0M215.3 156.7h0M194.1 202.8h0M232.0 130.4h0M218.6 157.4h0M201.6 163.9h0M191.1 191.2h0M132.5 199.7h0M161.5 179.9h0M207.0 184.1h0M200.0 147.4h0M218.2 182.6h0M205.1 210.6h0M156.6 166.5h0M189.2 198.6h0M235.1 173.9h0M180.1 174.4h0M198.0 184.1h0M217.4 125.1h0M210.9 137.8h0M210.0 131.3h0M195.8 176.7h0M208.6 190.1h0M155.2 193.9h0M225.8 136.7h0M193.1 154.2h0M226.6 126.1h0M194.9 188.6h0M186.0 164.5h0M214.0 146.2h0M200.8 139.3h0M124.4 237.8h0M213.7 171.1h0M91.1 280.7h0M214.6 152.7h0M223.4 137.8h0M173.0 194.8h0M192.5 224.0h0M229.4 129.3h0M144.8 213.7h0M200.8 182.0h0M182.0 222.1h0M147.0 236.4h0M213.9 165.2h0M184.6 234.0h0M204.9 132.2h0M159.0 167.0h0M209.5 166.9h0M199.0 142.3h0M135.9 171.3h0M175.6 198.8h0M183.7 118.9h0M186.8 171.0h0M230.5 175.7h0M127.2 134.8h0M197.5 187.5h0M194.9 143.4h0M185.2 180.4h0M159.5 180.5h0M194.3 198.3h0M171.0 231.4h0M150.2 228.1h0M149.5 173.3h0M203.7 144.8h0M226.7 141.9h0M153.3 202.8h0M190.3 199.6h0M190.5 203.7h0M130.6 209.2h0M209.6 179.8h0M173.1 220.5h0M222.3 188.9h0M216.1 186.4h0M172.2 209.7h0M187.0 188.5h0M159.6 200.5h0M132.5 229.4h0M213.2 161.6h0M178.8 198.6h0M201.5 149.7h0M195.0 171.6h0M186.9 215.7h0M182.6 255.6h0M169.4 237.1h0M179.8 199.3h0M180.1 211.4h0M209.7 217.8h0M144.4 184.3h0M191.1 142.1h0M242.1 92.9h0M186.2 199.7h0M215.7 199.6h0M205.5 196.4h0M221.2 181.3h0M171.4 189.0h0M202.6 195.0h0M191.2 176.3h0M204.3 189.1h0M216.8 139.2h0M208.0 176.6h0M162.4 186.1h0M198.6 180.1h0M202.4 144.0h0M218.1 122.6h0M179.8 188.7h0M206.2 119.8h0M198.6 203.8h0M221.3 132.4h0M199.8 201.0h0M185.7 156.9h0M85.7 221.4h0M202.4 139.4h0M215.7 128.2h0M201.1 190.7h0M199.2 201.2h0M231.8 156.2h0M219.1 170.1h0M208.4 189.4h0M212.2 149.3h0M188.2 160.9h0M204.1 179.9h0M192.7 150.3h0M206.7 126.2h0M184.1 223.1h0M225.4 121.8h0M177.0 272.4h0M160.4 210.8h0M226.1 167.3h0M182.4 213.4h0M225.6 108.9h0M177.8 179.5h0M184.2 156.7h0M182.3 150.0h0M198.7 219.9h0M208.1 101.2h0M186.7 213.7h0M220.2 112.5h0M175.8 190.9h0M201.2 148.0h0M194.7 175.8h0M201.2 227.9h0M196.4 204.2h0M225.0 117.0h0M162.9 150.6h0M159.9 171.8h0M214.8 194.9h0M225.1 83.8h0M137.6 214.0h0M207.7 210.4h0M84.0 241.7h0M224.9 135.8h0M226.4 137.5h0M185.4 209.1h0M210.0 174.6h0M186.4 142.3h0M220.3 92.5h0M211.8 138.0h0M189.5 190.7h0M184.2 196.6h0M211.6 156.8h0M152.7 225.5h0M150.5 174.0h0M206.5 174.9h0M199.0 161.5h0M213.1 162.5h0M231.1 157.3h0M181.6 207.9h0M208.3 166.6h0M197.1 140.3h0M212.6 166.1h0M178.6 227.9h0M194.7 187.2h0M234.4 118.3h0M178.5 164.3h0M206.8 169.5h0M247.1 90.8h0M198.2 245.0h0M123.1 225.1h0M222.6 117.5h0M246.4 178.5h0M200.5 151.5h0M207.5 137.2h0M247.5 146.4h0M255.8 106.0h0M190.4 192.0h0M190.6 158.3h0M173.9 193.1h0M164.2 206.6h0M175.1 180.5h0M190.2 155.5h0M223.3 125.1h0M191.7 188.4h0M196.5 190.6h0M183.0 202.1h0M200.2 124.6h0M243.6 103.8h0M179.7 216.8h0M179.3 183.9h0M217.9 116.0h0M192.2 194.1h0M230.7 106.7h0M188.6 186.5h0M205.6 178.7h0M202.9 194.7h0M220.2 115.9h0M173.3 223.1h0M137.1 233.7h0M152.2 268.9h0M190.9 200.3h0M226.5 151.4h0M166.7 261.0h0M189.3 184.7h0M169.7 195.0h0M193.2 189.4h0M195.5 136.4h0M179.0 212.2h0M191.0 187.9h0M197.8 138.7h0M208.5 159.6h0M217.3 125.7h0M208.8 165.8h0M129.8 277.3h0M210.1 160.3h0M222.8 161.6h0M183.7 204.9h0M240.9 113.4h0M204.4 121.2h0M176.7 198.0h0M189.0 123.3h0M189.0 184.4h0M152.7 206.8h0M196.3 179.6h0M191.7 112.8h0M199.9 136.4h0M197.9 177.2h0M175.9 240.5h0M151.0 188.6h0M178.3 192.8h0M228.9 182.8h0M217.1 153.3h0M194.8 184.1h0M206.2 87.8h0M183.2 163.7h0M188.2 206.1h0M218.8 136.1h0M197.2 188.1h0M200.9 195.2h0M221.9 128.0h0M190.2 213.0h0M178.7 142.1h0M215.7 245.9h0M200.5 155.6h0M177.4 184.5h0M198.1 237.6h0M188.8 207.2h0M211.2 171.5h0M205.4 134.5h0M196.2 184.8h0M203.3 182.1h0M209.2 108.8h0M199.7 160.1h0M165.9 226.4h0M190.1 175.7h0M205.0 132.3h0M161.0 187.7h0M209.6 168.1h0M180.7 224.5h0M213.3 172.0h0M232.4 96.8h0M207.4 128.9h0M191.8 131.3h0M170.4 238.9h0M199.2 157.4h0M230.6 156.1h0M207.6 258.2h0M234.1 136.4h0M170.7 185.5h0M125.4 237.2h0M167.1 223.5h0M203.4 128.7h0M217.5 170.0h0M213.8 143.3h0M178.2 193.1h0M212.7 142.4h0M232.4 131.6h0M192.7 146.1h0M227.4 123.3h0M155.0 194.8h0M206.5 147.2h0M189.4 162.1h0M214.6 146.6h0M206.1 159.9h0M223.2 150.6h0M214.2 156.7h0M172.8 194.0h0M194.2 131.0h0M169.1 191.8h0M197.5 155.9h0M221.5 115.8h0M209.9 121.2h0M192.7 221.2h0M240.4 102.5h0M201.8 146.7h0M164.0 213.9h0M222.6 112.7h0M214.7 137.1h0M210.9 145.7h0M111.7 209.5h0M216.0 120.4h0M111.2 236.1h0M223.4 121.2h0M203.7 179.8h0M157.4 201.2h0M197.0 179.1h0M174.5 173.8h0M186.3 166.3h0M235.5 143.4h0M175.9 284.3h0M208.8 162.6h0M180.7 187.2h0M199.3 181.5h0M160.1 245.3h0M218.3 142.1h0M203.7 127.8h0M172.3 220.9h0M188.6 174.0h0M157.4 187.4h0M215.6 185.8h0M194.7 202.3h0M158.8 209.8h0M152.3 193.3h0M237.1 83.0h0M143.5 209.7h0M220.6 102.6h0M113.1 212.9h0M242.3 76.0h0M183.8 201.3h0M196.8 187.1h0M203.0 96.7h0M184.3 198.9h0M171.1 181.2h0M204.7 121.5h0M167.3 216.3h0M166.2 182.4h0M214.8 169.0h0M183.0 236.0h0M210.3 135.9h0M206.3 131.5h0M205.0 219.4h0M240.4 128.7h0M189.7 206.9h0M212.7 136.9h0M195.3 206.4h0M220.5 163.1h0M170.9 185.0h0M217.8 184.0h0M200.0 161.5h0M211.3 175.0h0M169.5 188.2h0M222.2 124.4h0M160.2 225.0h0M179.4 207.7h0M235.9 136.7h0M197.2 139.3h0M197.1 161.5h0M191.3 201.0h0M186.4 174.8h0M232.8 151.8h0M147.8 200.6h0M266.6 134.7h0M171.3 194.0h0M199.0 198.9h0M242.1 117.6h0M201.5 180.3h0M160.2 182.7h0M152.3 253.2h0M210.6 149.8h0M207.0 168.8h0M189.6 231.8h0M243.2 123.3h0M217.7 220.4h0M171.5 158.1h0M227.1 155.5h0M50.7 291.5h0M206.7 161.0h0M177.2 142.6h0M181.9 136.5h0M201.7 192.7h0M190.3 186.9h0M225.1 141.4h0M138.2 172.5h0M185.7 148.1h0M175.4 209.7h0M191.7 157.2h0M193.0 184.9h0M155.6 224.4h0M206.7 141.4h0M130.9 239.5h0M215.2 171.5h0M183.2 187.3h0M187.6 146.1h0M205.4 192.6h0M193.5 195.6h0M196.1 182.5h0M179.8 213.8h0M190.5 170.0h0M236.6 91.5h0M111.2 224.4h0M158.3 180.1h0M162.9 184.8h0M199.7 183.2h0M252.7 102.2h0M206.6 148.2h0M221.0 115.0h0M206.8 188.2h0M167.6 212.5h0M199.5 189.3h0M186.5 206.3h0M179.8 154.1h0M235.4 98.9h0M205.0 163.2h0M197.5 130.2h0M173.1 150.6h0M188.5 141.4h0M233.6 132.2h0M219.9 191.9h0M202.8 183.1h0M220.8 207.6h0M110.3 268.3h0M242.0 141.2h0M208.6 232.7h0M208.0 200.5h0M172.8 179.5h0M185.7 254.6h0M194.5 174.3h0M244.4 97.7h0M211.1 122.2h0M208.5 151.6h0M174.0 192.8h0M205.7 179.9h0M186.3 191.5h0M248.1 93.5h0M222.5 142.7h0M200.7 178.7h0M189.3 188.7h0M194.7 165.7h0M215.0 138.2h0M217.6 151.2h0M185.8 199.7h0M194.2 194.9h0M212.0 142.6h0M166.2 238.6h0M219.2 103.1h0M177.1 140.7h0M213.3 166.4h0M195.4 205.1h0M172.0 179.8h0M217.6 190.7h0M130.3 239.0h0M217.3 158.3h0M222.7 132.3h0M206.4 163.2h0M210.3 179.6h0M232.0 124.0h0M231.3 101.4h0M160.2 195.8h0M113.2 275.7h0M175.0 230.0h0M224.1 159.4h0M211.4 168.1h0M177.8 208.5h0M168.0 269.3h0M214.1 157.0h0M202.3 239.3h0M169.2 193.0h0M228.7 126.4h0M203.8 167.7h0M239.1 80.2h0M181.0 163.0h0M213.7 175.4h0M186.2 204.3h0M202.8 153.9h0M193.0 188.2h0M204.3 189.5h0M197.8 175.5h0M215.2 184.6h0M194.1 168.8h0M173.7 184.4h0M197.3 168.8h0M147.0 224.0h0M217.5 119.9h0M196.2 214.0h0M210.9 197.9h0M246.8 89.1h0M189.6 195.1h0M186.2 157.8h0M159.1 173.8h0M201.8 174.9h0M188.1 196.8h0M185.6 171.6h0M180.4 186.9h0M246.4 138.4h0M238.1 110.5h0M190.3 190.0h0M165.0 275.3h0M240.6 112.2h0M179.8 223.7h0M206.9 160.3h0M152.1 188.6h0M177.9 145.3h0M141.4 192.3h0M118.4 166.1h0M180.9 203.9h0M214.7 146.8h0M189.1 154.1h0M197.9 185.8h0M232.6 118.3h0M159.1 257.3h0M157.5 184.0h0M213.2 254.3h0M233.9 131.8h0M163.2 194.1h0M239.0 135.6h0M226.8 113.5h0M183.7 166.9h0M190.2 170.0h0M121.8 179.1h0M191.8 169.5h0M186.2 134.7h0M205.8 191.4h0M215.3 145.3h0M181.8 148.6h0M191.3 202.1h0M146.7 191.3h0M188.5 195.9h0M181.3 226.8h0M178.6 212.1h0M193.1 138.4h0M159.6 258.2h0M192.6 175.1h0M195.6 179.1h0M228.6 147.0h0M225.0 160.7h0M216.8 179.0h0M221.2 99.6h0M168.1 195.2h0M206.3 156.1h0M194.8 192.3h0M135.1 196.5h0M167.0 185.1h0M246.4 111.5h0M165.7 179.6h0M190.3 156.8h0M157.3 194.6h0M199.7 194.3h0M196.1 173.3h0M177.8 196.4h0M193.2 125.7h0M189.2 206.7h0M164.9 251.4h0M155.8 221.2h0M180.4 206.1h0M212.6 162.7h0M127.3 230.4h0M158.5 179.5h0M195.4 137.8h0M175.5 177.5h0M101.0 211.8h0M174.2 191.0h0M195.7 209.1h0M226.0 100.2h0M185.1 252.0h0M89.2 227.0h0M195.0 173.3h0M198.1 227.2h0M235.9 132.4h0M194.5 158.1h0M203.3 130.2h0M195.1 190.2h0M138.0 225.5h0M160.5 230.0h0M197.5 112.8h0M185.4 200.6h0M194.8 179.1h0M234.1 138.7h0M180.6 219.9h0M181.1 176.0h0M229.0 102.5h0M158.1 159.3h0M189.3 191.4h0M171.4 211.8h0M221.3 135.2h0M215.7 182.5h0M191.0 114.3h0M179.1 223.9h0M248.8 87.9h0M119.8 252.9h0M221.0 179.8h0M166.6 198.7h0M226.2 190.1h0M207.9 173.6h0M213.2 166.4h0M218.8 136.6h0M222.3 148.1h0M207.1 116.0h0M195.1 145.6h0M142.3 188.7h0M202.6 178.4h0M177.7 180.0h0M206.5 176.1h0M181.1 236.2h0M143.4 211.7h0M220.0 145.0h0M200.9 178.9h0M168.9 251.0h0M216.8 145.5h0M187.0 193.3h0M190.6 188.0h0M205.2 190.1h0M155.5 178.9h0M155.5 197.4h0M188.3 159.3h0M190.8 232.2h0M186.8 180.0h0M247.2 154.8h0M116.2 187.2h0M158.5 191.7h0M150.7 226.0h0M197.7 186.9h0M227.5 175.4h0M201.8 156.6h0M179.6 165.0h0M220.2 148.1h0M214.2 185.3h0M65.7 213.5h0M207.1 182.6h0M219.5 135.9h0M217.3 100.6h0M162.9 216.6h0M212.9 149.3h0M188.8 192.0h0M161.5 236.1h0M134.1 233.5h0M198.9 178.7h0M141.0 224.3h0M203.9 162.4h0M151.9 233.8h0M191.9 191.0h0M234.6 112.9h0M183.6 206.1h0M232.2 128.8h0M112.1 299.4h0M234.7 104.8h0M188.5 199.3h0M208.5 127.3h0M191.8 177.2h0M145.6 158.9h0M176.8 216.0h0M202.5 146.4h0M130.4 195.2h0M186.9 233.7h0M217.0 108.9h0M191.0 194.6h0M221.9 113.7h0M189.9 201.8h0M178.7 212.8h0M215.9 124.9h0M189.2 217.7h0M218.9 166.4h0M162.1 151.0h0M166.1 248.1h0M191.2 160.3h0M194.1 136.9h0M234.6 153.7h0M202.7 222.2h0M121.9 268.1h0M175.4 168.2h0M208.8 172.4h0M177.8 183.1h0M169.4 210.1h0M216.1 87.4h0M177.8 203.9h0M186.7 254.5h0M185.6 162.8h0M198.2 166.4h0M202.0 242.7h0M213.6 162.9h0M222.1 159.4h0M186.5 213.2h0M225.7 170.2h0M121.3 188.0h0M181.5 148.1h0M147.9 191.2h0M232.6 158.4h0M186.8 202.4h0M195.1 172.2h0M150.7 226.0h0M171.7 178.0h0M105.7 212.9h0M229.4 166.6h0M187.2 190.1h0M212.0 145.4h0M160.1 181.9h0M188.0 189.5h0M224.3 133.9h0M193.4 177.6h0M183.6 226.7h0M188.4 135.7h0M202.4 171.8h0M191.8 209.7h0M208.5 165.1h0M236.6 98.3h0M193.8 175.7h0M177.7 169.0h0M182.0 228.7h0M179.9 189.6h0M159.2 201.6h0M214.3 158.4h0M130.4 220.3h0M164.6 208.4h0M233.9 115.3h0M203.7 189.3h0M163.1 222.1h0M191.1 188.3h0M175.2 253.2h0M210.2 144.6h0M174.9 182.1h0M201.8 176.5h0M211.3 149.3h0M183.8 202.1h0M225.2 165.6h0M194.7 188.2h0M170.8 202.3h0M188.4 196.0h0M245.9 117.3h0M216.7 106.4h0M172.5 207.3h0M170.6 188.3h0M224.3 126.5h0M199.2 123.2h0M207.7 172.8h0M232.8 131.7h0M148.3 229.7h0M197.8 139.1h0M122.6 235.2h0M187.3 194.8h0M168.7 178.8h0M173.8 190.3h0M177.6 192.3h0M196.0 147.9h0M209.2 171.8h0M257.0 109.4h0M193.6 104.3h0M143.9 235.2h0M180.6 211.8h0M158.2 198.9h0M208.1 118.1h0M194.5 185.7h0M207.7 194.7h0M216.1 165.6h0M197.9 159.6h0M188.0 195.9h0M236.2 88.4h0M195.1 169.9h0M188.6 143.9h0M162.0 167.0h0M186.4 178.5h0M222.8 164.4h0M197.1 216.3h0M125.9 217.3h0M179.0 199.6h0M154.7 203.8h0M201.4 173.1h0M188.9 146.0h0M193.8 206.6h0M219.5 120.6h0M201.1 182.7h0M212.7 186.6h0M189.7 119.1h0M211.6 136.1h0M211.8 190.4h0M176.7 212.9h0M216.5 161.1h0M201.7 176.3h0M166.1 194.0h0M200.2 181.5h0M213.2 169.1h0M209.6 187.1h0M208.9 194.2h0M153.4 204.6h0M206.1 179.4h0M156.1 189.3h0M214.0 134.6h0M215.4 128.9h0M189.8 205.8h0M218.2 139.1h0M228.0 166.3h0M147.1 217.9h0M230.0 126.3h0M194.8 191.0h0M212.6 142.8h0M142.2 185.9h0M188.4 206.7h0M184.1 207.3h0M194.7 201.7h0M195.8 174.9h0M189.5 177.6h0M222.9 130.7h0M228.3 120.6h0M195.1 198.2h0M263.8 105.6h0M152.7 230.5h0M240.6 133.1h0M113.5 195.2h0M212.6 167.4h0M172.5 184.6h0M214.7 199.2h0M191.3 149.4h0M195.4 208.0h0M159.7 199.1h0M167.1 181.3h0M205.2 180.7h0M214.7 160.3h0M138.8 251.3h0M233.8 160.7h0M202.3 141.7h0M216.4 179.1h0M143.2 226.5h0M124.0 228.1h0M195.0 181.1h0M181.9 161.2h0M191.6 198.1h0M144.9 179.2h0M181.8 207.6h0M164.2 209.1h0M163.9 193.4h0M168.3 254.8h0M184.9 188.1h0M146.9 256.8h0M202.1 188.4h0M218.3 138.3h0M196.8 186.1h0M203.6 200.5h0M200.0 164.7h0M228.4 130.0h0M197.1 156.5h0M191.6 202.2h0M221.8 136.6h0M227.7 89.2h0M135.7 216.7h0M116.7 253.8h0M151.7 214.9h0M195.4 204.7h0M182.5 196.2h0M188.2 178.4h0M197.2 188.4h0M195.8 198.1h0M224.4 153.6h0M204.4 136.2h0M202.0 192.5h0M202.6 183.6h0M122.6 279.0h0M203.6 163.8h0M182.6 163.7h0M215.8 121.7h0M242.7 91.4h0M190.4 124.9h0M172.5 182.5h0M116.9 246.8h0M224.6 119.9h0M205.8 128.7h0M194.3 191.3h0M191.5 150.2h0M221.4 103.6h0M185.1 218.4h0M223.9 126.7h0M202.8 166.2h0M183.2 199.0h0M197.8 202.0h0M213.9 241.5h0M184.3 182.6h0M207.2 126.5h0M208.5 112.9h0M233.7 187.6h0M175.4 176.7h0M186.5 142.9h0M222.0 129.5h0M218.9 156.3h0M167.6 148.3h0M203.0 156.8h0M176.1 156.4h0M167.3 198.7h0M220.6 168.9h0M179.5 211.4h0M191.7 173.2h0M210.5 148.6h0M177.3 227.5h0M185.9 188.4h0M127.6 210.6h0M190.7 140.5h0M203.6 255.3h0M172.7 186.8h0M219.3 159.2h0M188.3 143.2h0M239.0 117.0h0M239.1 99.4h0M212.5 134.7h0M232.9 151.2h0M174.9 176.2h0M198.1 161.9h0M215.7 103.5h0M206.6 125.9h0M231.5 93.3h0M214.8 102.0h0M202.6 149.6h0M213.8 187.1h0M188.2 127.5h0M118.8 217.6h0M124.2 273.1h0M180.9 184.8h0M240.5 104.4h0M231.8 132.4h0M203.5 174.2h0M174.8 231.4h0M207.5 265.1h0M138.3 197.0h0M144.0 219.0h0M224.5 116.6h0M200.0 173.8h0M193.5 170.7h0M198.8 138.0h0M164.2 179.7h0M183.6 179.6h0M119.6 253.5h0M213.7 109.6h0M171.9 149.8h0M244.7 130.6h0M219.8 139.0h0M230.5 152.3h0M194.0 158.5h0M168.5 242.5h0M198.5 153.6h0M198.7 171.3h0M214.2 129.7h0M211.5 138.6h0M177.0 138.0h0M187.9 180.2h0M217.4 150.0h0M171.7 146.9h0M188.5 175.5h0M243.5 92.2h0M211.1 213.9h0M228.0 105.4h0M208.0 163.4h0M192.1 275.3h0M233.6 130.0h0M222.6 103.4h0M185.0 171.5h0M205.9 186.3h0M206.7 160.1h0M204.3 138.5h0M182.6 192.2h0M197.6 182.3h0M199.0 155.9h0M181.6 184.9h0M167.6 210.1h0M163.4 174.6h0M225.3 160.7h0M209.4 184.9h0M217.5 173.6h0M222.5 117.0h0M176.0 221.8h0M228.9 122.1h0M197.4 197.6h0M134.4 165.9h0M187.6 202.4h0M173.9 175.4h0M177.4 207.3h0M184.6 169.8h0M233.0 142.6h0M191.3 200.8h0M177.9 208.3h0M229.1 173.3h0M169.5 229.1h0M169.5 193.9h0M165.7 230.5h0M209.7 134.6h0M170.6 235.1h0M196.1 200.5h0M166.1 234.8h0M204.5 156.2h0M208.8 178.8h0M179.3 219.8h0M203.3 190.4h0M211.4 148.4h0M183.7 148.5h0M133.7 236.5h0M148.9 190.3h0M241.4 105.8h0M216.8 144.3h0M183.9 178.9h0M198.4 133.7h0M204.0 169.4h0M186.3 190.0h0M229.5 113.8h0M195.7 143.5h0M146.3 217.1h0M259.0 102.1h0M195.3 119.6h0M178.7 207.2h0M208.9 190.8h0M159.0 170.0h0M187.6 213.2h0M216.4 136.7h0M242.0 83.7h0M184.1 206.2h0M162.5 187.0h0M161.1 154.6h0M220.1 181.2h0M218.0 113.1h0M219.1 151.6h0M209.6 180.1h0M181.6 210.8h0M217.5 152.1h0M236.0 108.0h0M242.8 114.6h0M214.6 150.7h0M222.4 185.9h0M180.3 193.7h0M177.7 192.6h0M176.9 216.0h0M194.7 191.3h0M197.3 190.3h0M220.4 182.7h0M201.9 189.9h0M186.8 196.3h0M229.2 258.2h0M221.6 132.0h0M199.5 187.6h0M228.0 122.1h0M209.5 136.3h0M140.3 228.3h0M204.3 162.7h0M182.2 180.0h0M198.9 137.2h0M198.7 174.1h0M231.5 96.1h0M170.3 181.4h0M67.8 240.6h0M184.4 191.9h0M215.5 189.8h0M207.1 178.7h0M221.0 152.5h0M182.1 201.2h0M216.8 160.8h0M193.0 154.6h0M184.9 178.0h0M174.0 256.9h0M150.9 196.7h0M190.0 190.6h0M227.9 122.8h0M206.3 205.6h0M186.9 164.7h0M197.4 186.1h0M179.7 179.3h0M168.8 202.7h0M187.4 99.1h0M208.7 116.7h0M234.0 147.4h0M222.1 135.8h0M191.2 191.3h0M250.3 120.6h0M231.2 115.6h0M168.3 176.1h0M224.4 109.4h0M179.1 203.8h0M240.7 153.7h0M190.9 150.2h0M203.1 183.0h0M195.9 258.3h0M194.2 147.6h0M216.1 139.4h0M163.2 158.5h0M184.1 201.9h0M106.1 230.8h0M208.1 127.6h0M250.6 98.3h0M213.7 150.7h0M208.4 152.6h0M187.1 198.2h0M220.9 191.2h0M193.1 198.2h0M216.4 161.3h0M192.2 165.3h0M147.4 234.4h0M212.4 104.4h0M231.3 94.7h0M227.5 92.5h0M194.9 206.8h0M205.4 174.9h0M185.3 192.6h0M177.2 188.6h0M109.5 206.2h0M182.9 176.2h0M213.7 153.6h0M230.9 119.7h0M137.3 163.4h0M171.5 134.6h0M174.9 228.2h0M158.6 200.0h0M202.9 147.8h0M186.6 174.2h0M206.9 169.8h0M149.0 183.8h0M151.3 236.8h0M222.1 146.6h0M195.0 184.7h0M179.1 173.5h0M176.9 240.8h0M220.7 138.2h0M169.2 188.0h0M233.0 115.2h0M204.7 177.6h0M162.6 243.9h0M210.7 195.1h0M212.9 98.8h0M176.3 267.8h0M191.4 177.2h0M172.1 181.3h0M150.9 236.0h0M221.4 181.8h0M204.1 138.6h0M194.0 165.4h0M168.8 198.4h0M186.6 161.7h0M229.7 130.1h0M250.7 160.9h0M239.0 117.9h0M230.3 117.2h0M231.2 121.5h0M189.6 174.0h0M197.7 152.7h0M196.1 132.1h0M222.4 197.2h0M184.3 184.5h0M162.0 207.2h0M207.8 128.8h0M194.5 185.3h0M200.9 144.9h0M198.2 172.5h0M202.6 167.3h0M212.3 181.6h0M145.6 180.3h0M178.1 225.8h0M163.7 185.7h0M197.1 156.4h0M206.3 203.8h0M226.5 128.9h0M173.5 201.4h0M200.7 181.0h0M211.5 144.5h0M201.3 198.7h0M215.1 120.1h0M240.3 100.4h0M207.0 146.1h0M197.6 173.5h0M185.4 186.4h0M195.7 151.8h0M195.3 181.2h0M181.4 263.4h0M143.7 308.1h0M170.7 195.3h0M213.5 150.2h0M182.5 170.6h0M193.8 205.6h0M186.9 218.3h0M190.2 160.7h0M184.8 154.8h0M217.0 154.5h0M196.5 202.6h0M127.4 242.4h0M168.0 179.6h0M199.0 166.9h0M180.9 189.8h0M210.9 164.6h0M207.8 180.3h0M224.1 133.4h0M236.7 117.1h0M214.4 162.8h0M210.0 145.6h0M212.4 127.2h0M139.8 247.6h0M200.2 192.8h0M214.8 160.8h0M178.0 282.1h0M218.6 118.7h0M192.7 156.1h0M179.6 217.7h0M190.1 250.3h0M187.1 203.6h0M220.0 133.1h0M175.7 179.9h0M232.2 110.7h0M234.0 108.7h0M152.7 213.9h0M263.4 79.0h0M209.3 116.6h0M234.4 118.4h0M179.1 194.3h0M193.8 186.1h0M189.9 137.9h0M190.8 163.3h0M182.3 239.1h0M209.6 137.0h0M222.1 109.8h0M203.5 187.9h0M231.9 118.9h0M197.3 178.9h0M215.1 143.7h0M250.0 99.3h0M186.2 189.1h0M190.5 198.7h0M213.5 151.8h0M194.4 128.4h0M92.2 258.7h0M214.6 142.2h0M223.2 142.5h0M207.6 158.2h0M203.2 141.5h0M200.4 142.4h0M187.3 227.6h0M221.5 113.3h0M112.1 209.3h0M205.3 176.7h0M236.0 100.2h0M224.6 127.1h0M205.4 188.8h0M225.9 179.3h0M219.9 141.8h0M206.4 148.8h0M111.2 228.5h0M193.3 197.0h0M186.5 189.4h0M196.7 227.5h0M229.0 140.3h0M217.3 153.7h0M199.2 209.9h0M199.4 166.6h0M199.3 167.3h0M160.0 205.7h0M154.7 318.0h0M178.6 218.4h0M210.8 200.9h0M185.0 167.3h0M199.4 193.8h0M241.9 139.4h0M186.3 143.6h0M211.3 136.1h0M189.3 191.3h0M188.7 237.3h0M235.6 199.1h0M226.2 145.4h0M189.3 189.3h0M188.7 156.3h0M177.9 207.8h0M197.8 171.5h0M215.6 143.0h0M192.2 148.7h0M242.5 114.0h0M190.6 157.6h0M215.0 154.9h0M204.7 168.6h0M164.0 189.0h0M174.1 228.9h0M180.0 206.9h0M187.1 180.6h0M215.3 157.6h0M210.1 130.5h0M228.9 182.4h0M248.7 108.8h0M214.1 106.0h0M131.5 187.5h0M233.4 129.4h0M181.0 211.5h0M190.8 190.2h0M174.8 175.6h0M98.0 231.9h0M188.9 123.5h0M239.7 151.2h0M218.7 173.8h0M132.7 247.9h0M246.8 112.5h0M149.4 183.5h0M185.4 226.1h0M228.7 125.9h0M166.8 193.6h0M177.4 192.2h0M183.9 157.5h0M196.5 176.7h0M196.2 231.6h0M221.4 169.6h0M209.1 168.4h0M210.0 179.7h0M202.6 99.0h0M211.5 205.8h0M228.7 105.3h0M79.3 261.2h0M140.9 252.7h0M163.7 207.0h0M176.0 220.1h0M199.7 184.9h0M161.7 150.7h0M210.5 183.7h0M214.7 191.0h0M202.4 125.4h0M205.4 201.3h0M224.2 150.4h0M210.6 174.3h0M231.0 145.4h0M182.6 147.5h0M187.6 216.3h0M141.1 200.8h0M253.6 108.5h0M159.4 200.9h0M111.9 227.8h0M216.2 193.5h0M197.5 192.4h0M211.9 145.0h0M189.9 193.0h0M211.9 159.7h0M204.3 227.1h0M157.8 193.6h0M196.2 152.8h0M159.9 217.6h0M181.1 201.3h0M216.3 135.5h0M173.0 137.7h0M244.7 90.2h0M152.2 200.8h0M220.6 114.2h0M202.3 146.6h0M175.4 197.0h0M226.8 150.7h0M229.9 148.0h0M239.5 109.4h0M258.4 105.0h0M187.4 180.5h0M248.3 124.8h0M163.0 246.7h0M236.4 96.7h0M211.4 152.0h0M192.4 132.7h0M157.5 220.9h0M177.9 198.5h0M230.6 119.6h0M226.9 106.5h0M211.5 113.5h0M136.7 197.3h0M184.9 198.2h0M162.7 186.6h0M153.5 171.9h0M195.7 169.1h0M195.5 182.9h0M199.2 119.0h0M137.5 203.8h0M187.0 201.7h0M201.1 191.2h0M205.6 140.9h0M207.9 137.7h0M74.4 263.0h0M186.7 237.6h0M157.7 198.2h0M193.1 202.6h0M186.9 168.6h0M171.7 216.4h0M183.7 192.2h0M134.7 166.4h0M230.0 191.3h0M199.4 112.7h0M204.6 161.5h0M157.2 210.7h0M193.4 170.9h0M213.9 178.9h0M151.4 179.3h0M165.3 234.9h0M222.0 135.5h0M190.6 191.3h0M205.4 167.6h0M198.9 140.9h0M202.0 104.5h0M161.0 184.3h0M209.8 132.7h0M211.4 181.5h0M202.3 165.5h0M222.9 162.8h0M176.5 218.5h0M227.7 115.1h0M197.4 179.4h0M165.1 163.8h0M226.7 127.1h0M179.6 161.6h0M166.2 214.5h0M243.9 135.1h0M158.5 191.1h0M212.6 145.6h0M200.6 175.1h0M198.1 178.3h0M227.4 110.7h0M166.5 205.6h0M229.2 159.7h0M149.6 136.9h0M195.9 136.6h0M189.2 269.7h0M188.0 234.9h0M182.3 169.8h0M193.1 145.9h0M181.1 194.0h0M257.6 105.8h0M190.0 213.2h0M232.3 83.9h0M232.2 104.8h0M193.9 154.3h0M219.3 168.3h0M248.0 83.4h0M225.4 148.0h0M167.2 267.6h0M214.3 201.2h0M233.1 107.4h0M180.1 216.3h0M177.0 169.4h0M144.0 276.8h0M215.9 152.6h0M198.3 151.2h0M252.4 191.1h0M198.0 171.8h0M195.4 146.7h0M209.8 175.6h0M169.1 187.0h0M213.2 151.5h0M176.6 207.8h0M166.9 198.3h0M205.6 198.8h0M192.2 189.2h0M227.0 140.1h0M179.0 193.7h0M191.5 131.2h0M182.4 125.4h0M177.6 173.4h0M212.6 130.8h0M222.9 122.7h0M200.4 182.5h0M117.0 257.6h0M231.4 106.5h0M174.1 167.1h0M213.6 115.1h0M230.9 177.1h0M211.8 180.7h0M190.0 172.0h0M263.4 101.5h0M209.0 193.2h0M209.2 173.9h0M214.6 180.6h0M183.4 190.0h0M170.1 222.5h0M182.5 166.0h0M191.1 224.3h0M178.1 131.4h0M181.3 168.1h0M223.4 131.6h0M193.9 158.9h0M179.9 221.9h0M199.6 257.2h0M177.3 170.1h0M227.7 146.8h0M193.6 152.8h0M148.3 221.5h0M203.7 166.4h0M228.4 135.1h0M148.0 209.4h0M180.7 174.1h0M185.3 165.2h0M153.9 221.8h0M187.7 198.0h0M228.7 91.0h0M156.0 248.9h0M204.5 168.2h0M210.0 132.1h0M194.1 223.5h0M187.3 164.3h0M169.6 191.6h0M215.6 198.6h0M234.3 134.5h0M163.5 267.3h0M206.1 179.5h0M232.5 106.9h0M184.1 176.9h0M243.8 93.3h0M168.9 261.8h0M208.6 189.8h0M165.3 159.8h0M193.5 204.4h0M183.9 203.7h0M170.8 193.2h0M205.2 140.8h0M218.2 115.8h0M143.3 212.7h0M159.4 218.6h0M215.9 155.7h0M171.6 160.6h0M194.7 162.5h0M163.2 146.8h0M140.4 232.8h0M201.4 176.3h0M185.9 194.1h0M193.1 183.8h0M206.1 115.0h0M233.4 110.9h0M204.0 126.4h0M218.5 172.7h0M194.4 186.1h0M148.0 294.2h0M200.1 221.2h0M175.5 197.2h0M216.8 160.2h0M207.5 155.6h0M187.9 192.9h0M218.6 155.7h0M190.2 200.3h0M185.8 196.1h0M220.8 121.3h0M183.9 205.0h0M226.2 115.8h0M201.2 152.2h0M124.9 257.1h0M127.3 188.4h0M171.7 212.7h0M164.7 228.3h0M226.1 145.1h0M188.2 204.0h0M218.9 158.9h0M246.7 109.0h0M222.3 118.6h0M196.7 122.5h0M203.1 186.4h0M166.2 187.4h0M170.6 211.3h0M227.0 149.3h0M192.2 199.9h0M224.6 145.4h0M180.6 151.7h0M190.6 188.8h0M217.5 161.3h0M118.0 304.5h0M210.4 152.1h0M218.3 141.2h0M115.0 216.8h0M202.2 215.6h0M206.0 129.2h0M203.8 154.7h0M219.8 174.1h0M197.1 109.4h0M210.5 158.7h0M172.2 200.8h0M184.0 200.6h0M205.4 126.7h0M225.6 150.4h0M188.9 145.6h0M194.1 191.6h0M228.0 123.5h0M158.1 270.9h0M218.5 120.5h0M190.2 176.0h0M203.0 193.5h0M177.9 237.4h0M188.8 184.7h0M130.1 212.6h0M198.3 176.3h0M221.1 138.7h0M201.1 164.5h0M213.0 184.0h0M152.5 176.3h0M220.8 202.3h0M191.5 177.2h0M179.9 160.2h0M157.5 174.6h0M216.8 175.1h0M247.0 88.1h0M202.8 153.5h0M192.9 180.6h0M189.6 194.4h0M192.4 165.2h0M202.5 198.0h0M211.9 173.4h0M202.3 158.6h0M180.9 141.9h0M217.5 204.2h0M158.6 226.8h0M160.5 196.2h0M241.0 138.6h0M195.0 193.7h0M120.3 173.6h0M123.8 227.7h0M239.7 84.3h0M152.1 201.1h0M196.1 169.4h0M218.8 212.6h0M265.4 183.9h0M242.6 86.1h0M200.3 192.3h0M208.2 176.5h0M211.1 141.4h0M196.5 121.6h0M216.7 161.9h0M190.7 179.3h0M204.8 170.7h0M244.8 92.6h0M205.8 126.5h0M232.1 191.2h0M196.5 177.8h0M188.6 197.7h0M193.0 163.8h0M220.7 144.0h0M196.9 204.3h0M204.2 138.2h0M239.3 107.9h0M195.8 158.5h0M173.5 167.8h0M209.4 136.8h0M188.7 241.4h0M220.6 140.3h0M234.9 121.6h0M173.5 189.4h0M215.5 125.6h0M211.4 147.2h0M210.2 163.7h0M208.7 146.4h0M167.2 188.6h0M193.1 125.1h0M208.1 187.7h0M235.3 120.4h0M167.5 181.3h0M191.9 261.2h0M180.6 202.8h0M184.9 236.5h0M213.0 177.8h0M210.9 128.4h0M188.6 158.7h0M140.1 201.5h0M225.4 123.6h0M196.6 189.6h0M218.4 152.8h0M184.0 225.5h0M207.3 156.3h0M222.0 152.8h0M190.6 146.2h0M201.2 177.2h0M178.7 239.7h0M193.2 177.2h0M211.7 197.5h0M202.8 175.2h0M241.1 113.4h0M206.3 182.0h0M189.1 182.7h0M240.4 182.9h0M223.0 149.7h0M211.7 145.4h0M205.0 153.7h0M215.3 98.6h0M216.8 128.9h0M205.5 148.2h0M202.2 174.3h0M153.6 223.9h0M196.5 193.2h0M195.3 174.7h0M148.0 194.9h0M182.3 167.1h0M204.4 104.1h0M157.4 191.8h0M181.5 193.7h0M203.9 188.8h0M149.1 212.1h0M133.1 202.2h0M172.4 208.5h0M262.3 103.7h0M144.8 326.4h0M197.4 182.1h0M183.7 182.6h0M204.7 184.6h0M228.8 145.9h0M206.0 150.3h0M195.6 216.3h0M167.3 183.3h0M171.3 244.4h0M191.5 136.7h0M196.3 181.8h0M178.6 183.3h0M234.0 100.8h0M164.9 185.9h0M207.0 160.3h0M203.0 165.5h0M206.9 133.0h0M174.4 182.8h0M160.5 190.5h0M164.4 219.3h0M188.8 210.4h0M158.6 262.9h0M167.2 257.9h0M220.9 193.2h0M200.0 147.3h0M203.1 177.2h0M235.5 113.6h0M201.9 179.9h0M213.7 150.6h0M197.2 176.8h0M214.5 198.5h0M227.5 107.9h0M166.0 216.2h0M237.7 101.1h0M220.3 172.0h0M232.0 138.3h0M232.0 101.5h0M210.0 170.9h0M218.0 144.7h0M228.3 112.8h0M189.6 207.8h0M220.6 142.4h0M173.7 232.8h0M217.5 184.2h0M198.2 156.9h0M243.8 107.9h0M210.9 212.6h0M247.6 119.0h0M187.3 201.5h0M192.6 176.0h0M165.4 168.3h0M225.9 112.9h0M233.3 164.4h0M215.2 92.3h0M146.0 200.0h0M200.4 193.9h0M233.9 124.3h0M156.4 174.0h0M217.4 131.8h0M192.5 194.4h0M188.8 133.6h0M229.8 130.9h0M183.8 147.8h0M187.6 253.6h0M185.5 207.0h0M188.4 162.5h0M142.2 203.8h0M198.6 157.6h0M214.9 133.4h0M171.3 220.4h0M221.7 100.7h0M176.8 203.6h0M184.9 243.9h0M210.7 113.8h0M171.7 213.2h0M195.2 202.0h0M230.6 102.6h0M212.0 167.0h0M230.9 144.5h0M196.8 160.3h0M207.0 160.0h0M141.3 161.5h0M237.2 88.0h0M219.4 146.0h0M187.5 148.6h0M210.3 188.2h0M142.0 192.7h0M205.5 198.5h0M178.9 187.0h0M147.3 219.8h0M184.0 178.9h0M203.1 151.7h0M214.0 101.9h0M152.4 195.9h0M182.8 179.5h0M230.3 129.2h0M202.8 174.2h0M196.3 235.5h0M178.3 183.9h0M201.6 151.1h0M172.6 205.4h0M205.3 161.5h0M246.8 91.4h0M245.9 112.7h0M181.0 245.1h0M228.7 115.9h0M203.5 202.4h0M219.6 98.6h0M173.7 164.8h0M218.6 147.5h0M208.5 155.5h0M227.0 115.3h0M223.3 162.4h0M176.0 199.5h0M194.2 175.6h0M229.4 123.6h0M198.2 205.2h0M192.4 215.3h0M202.8 168.4h0M211.3 157.4h0M176.2 93.0h0M240.8 110.5h0M171.5 159.3h0M223.0 119.9h0M216.1 251.5h0M183.0 187.7h0M176.0 151.6h0M216.5 181.8h0M208.6 130.1h0M168.4 225.4h0M194.1 173.1h0M207.0 193.1h0M226.8 132.4h0M194.7 170.2h0M215.9 194.6h0M184.8 160.7h0M235.4 109.1h0M185.7 169.8h0M190.1 207.8h0M185.1 169.0h0M146.6 262.4h0M230.0 179.2h0M145.7 217.4h0M212.4 99.3h0M199.7 186.4h0M191.2 174.1h0M190.4 157.2h0M167.5 221.6h0M248.7 115.5h0M175.4 171.6h0M203.3 150.8h0M170.3 244.1h0M159.3 202.2h0M215.6 135.5h0M227.7 122.8h0M220.5 95.8h0M240.1 132.0h0M138.1 229.1h0M172.0 215.6h0M186.2 204.5h0M243.3 162.2h0M159.8 171.1h0M197.9 180.8h0M219.6 205.9h0M239.3 82.0h0M230.4 132.3h0M196.7 181.4h0M195.1 125.3h0M178.2 232.7h0M215.3 103.3h0M165.8 255.6h0M186.2 137.7h0M225.3 134.4h0M149.7 164.9h0M186.9 187.1h0M187.7 262.2h0M205.7 170.5h0M164.7 220.7h0M168.4 219.0h0M145.5 268.6h0M239.3 157.4h0M197.0 170.3h0M235.4 94.8h0M188.4 160.3h0M195.8 156.7h0M234.1 122.1h0M163.2 209.0h0M194.3 147.1h0M212.1 123.3h0M217.1 120.4h0M236.3 96.1h0M172.2 199.1h0M191.7 176.4h0M167.4 175.5h0M217.9 163.7h0M167.9 246.8h0M192.9 159.6h0M202.7 170.4h0M187.2 192.1h0M92.9 229.1h0M171.8 213.1h0M222.8 217.2h0M223.4 132.6h0M192.6 235.6h0M162.4 207.8h0M176.5 153.7h0M163.3 205.2h0M194.9 239.8h0M160.3 197.7h0M165.7 197.2h0M195.1 209.9h0M168.7 216.7h0M177.4 202.1h0M230.8 112.2h0M216.6 136.7h0M217.4 121.4h0M202.7 169.4h0M207.0 109.2h0M194.1 178.3h0M184.3 227.5h0M122.0 264.6h0M227.6 101.0h0M160.6 191.4h0M235.2 125.6h0M186.2 213.7h0M242.2 98.7h0M235.8 117.9h0M220.2 153.0h0M251.9 83.4h0M170.7 189.4h0M226.9 136.3h0M164.0 195.2h0M214.7 238.1h0M202.9 169.9h0M212.4 169.9h0M84.7 296.7h0M221.4 151.7h0M209.0 218.1h0M121.0 194.5h0M234.7 87.4h0M199.7 149.6h0M159.2 195.3h0M255.3 103.5h0M211.4 212.9h0M143.1 224.1h0M200.0 199.5h0M169.0 206.0h0M212.4 183.0h0M77.3 205.6h0M189.7 169.6h0M217.9 163.1h0M168.8 193.4h0M214.9 169.3h0M190.5 151.3h0M234.9 145.1h0M208.3 166.3h0M195.1 160.1h0M152.1 198.9h0M177.9 202.5h0M211.7 204.3h0M176.7 210.9h0M191.2 157.7h0M246.3 158.6h0M138.7 209.8h0M213.5 132.1h0M195.7 193.3h0M172.5 175.6h0M188.9 189.9h0M177.4 192.8h0M153.0 190.1h0M219.0 140.8h0M216.9 95.7h0M143.1 239.7h0M195.7 220.5h0M154.3 173.5h0M198.7 189.3h0M238.4 115.3h0M212.6 168.6h0M199.9 182.1h0M181.8 193.1h0M168.2 138.4h0M226.9 115.6h0M175.4 244.9h0M164.1 211.5h0M199.2 131.9h0M192.6 207.6h0M153.7 206.2h0M222.7 132.3h0M168.5 205.1h0M168.2 160.1h0M226.8 154.3h0M226.3 128.7h0M200.7 182.4h0M158.0 184.6h0M193.9 174.2h0M227.7 117.2h0M162.5 204.0h0M228.1 152.1h0M170.9 145.1h0M200.8 187.4h0M156.0 132.9h0M128.9 223.6h0M136.5 188.1h0M190.2 203.1h0M191.2 155.1h0M175.8 165.3h0M193.9 143.2h0M182.6 143.2h0M168.2 163.8h0M156.8 202.9h0M189.5 173.4h0M167.8 209.1h0M150.2 119.6h0M195.8 148.5h0M243.7 100.7h0M158.3 224.3h0M226.0 108.6h0M177.7 177.4h0M170.9 190.5h0M213.4 136.0h0M109.0 262.7h0M153.8 263.6h0M179.3 141.3h0M224.1 125.0h0M150.2 188.2h0M204.7 174.6h0M205.9 183.7h0M151.1 185.1h0M179.4 241.7h0M162.6 200.6h0M230.9 151.6h0M169.4 198.2h0M192.1 167.6h0M149.4 257.5h0M214.1 170.6h0M213.2 88.8h0M185.0 225.3h0M210.6 146.8h0M164.7 207.4h0M184.2 184.5h0M197.7 197.8h0M196.4 197.2h0M202.1 222.4h0M159.9 209.1h0M142.2 187.8h0M193.9 153.3h0M191.3 172.4h0M192.0 147.1h0M220.6 154.6h0M228.0 168.8h0M207.7 164.7h0M144.8 148.5h0M220.2 150.5h0M193.0 151.4h0M215.7 134.0h0M203.9 181.6h0M228.2 115.6h0M209.2 142.8h0M222.1 130.5h0M197.2 193.8h0M216.8 147.2h0M246.3 117.2h0M102.8 207.4h0M181.6 166.4h0M163.5 205.1h0M216.6 152.6h0M207.5 155.8h0M205.1 179.2h0M201.1 110.3h0M151.2 259.1h0M227.8 123.8h0M165.4 224.3h0M168.8 189.2h0M186.1 200.1h0M233.7 137.0h0M115.0 219.3h0M216.1 176.8h0M204.3 163.6h0M198.5 134.2h0M224.8 130.6h0M174.5 213.8h0M186.8 251.7h0M182.3 164.2h0M199.3 195.6h0M162.8 193.0h0M200.8 172.4h0M211.9 170.9h0M190.6 178.6h0M212.7 155.8h0M167.5 198.0h0M214.0 164.2h0M183.7 173.5h0M202.4 132.4h0M155.3 257.8h0M223.9 112.3h0M163.4 194.9h0M207.2 189.3h0M201.4 155.6h0M173.2 258.8h0M204.5 100.6h0M162.4 146.2h0M198.9 154.7h0M164.1 187.5h0M187.5 182.3h0M193.9 194.3h0M192.7 213.4h0M250.4 93.7h0M204.1 179.3h0M173.4 162.3h0M195.0 192.1h0M181.9 175.8h0M211.4 156.0h0M229.3 85.3h0M223.6 151.3h0M207.2 167.2h0M198.6 154.6h0M173.3 159.7h0M192.9 188.4h0M193.7 154.5h0M179.1 211.8h0M176.1 157.6h0M187.0 166.0h0M207.7 165.9h0M198.1 221.8h0M160.0 183.8h0M155.1 247.4h0M248.6 82.3h0M159.1 241.3h0M206.3 134.6h0M210.2 220.5h0M203.2 103.1h0M180.6 212.7h0M166.9 186.5h0M180.2 191.7h0M117.2 161.1h0M213.5 160.8h0M209.9 128.1h0M201.7 125.2h0M214.2 185.7h0M198.5 155.3h0M221.3 97.8h0M201.0 130.3h0M229.7 130.4h0M214.4 134.3h0M191.0 168.1h0M133.4 223.6h0M121.5 268.9h0M107.0 192.4h0M67.5 246.0h0M81.3 222.8h0M103.6 269.6h0M91.6 218.4h0M96.8 213.9h0M84.2 257.6h0M103.1 140.0h0M128.5 268.9h0M64.7 239.4h0M140.1 211.0h0M73.5 248.0h0M131.2 215.4h0M80.3 247.3h0M83.7 235.6h0M134.3 259.7h0M138.8 198.5h0M109.8 214.9h0M123.9 293.5h0M83.8 241.4h0M65.5 229.4h0M91.5 208.6h0M88.5 220.2h0M89.8 240.2h0M116.0 195.0h0M76.9 232.4h0M94.7 228.8h0M110.9 172.7h0M139.9 233.0h0M110.1 270.3h0M120.8 218.8h0M104.4 225.9h0M127.7 241.1h0M58.3 220.8h0M97.3 184.6h0M78.7 233.7h0M92.9 222.6h0M87.9 216.5h0M121.1 277.3h0M114.2 237.0h0M118.0 209.8h0M100.2 212.5h0M75.3 269.1h0M80.3 251.3h0M108.9 180.1h0M82.7 248.6h0M100.5 218.6h0M137.3 213.3h0M88.2 261.2h0M66.7 247.9h0M139.6 202.2h0M129.5 232.4h0M67.3 248.3h0M134.7 227.6h0M113.3 246.2h0M76.5 216.7h0M124.6 276.7h0M99.4 272.2h0M136.9 208.3h0M139.2 183.5h0M61.9 224.5h0M132.5 264.0h0M58.1 236.9h0M135.2 232.0h0M104.5 238.2h0M64.1 200.9h0M97.0 231.6h0M90.4 229.9h0M120.7 211.4h0M121.6 258.0h0M94.1 214.5h0M122.0 212.6h0M50.7 246.7h0M81.2 249.4h0M67.1 235.6h0M73.3 237.1h0M87.2 243.5h0M75.6 241.6h0M106.8 204.4h0M139.3 262.0h0M137.1 301.6h0M125.8 245.9h0M129.0 223.2h0M71.3 260.1h0M63.7 244.6h0M118.1 209.7h0M98.9 229.9h0M77.0 218.2h0M63.9 253.9h0M88.5 199.0h0M101.2 269.4h0M53.7 221.0h0M97.6 242.5h0M73.1 223.9h0M133.4 245.9h0M123.0 270.5h0M79.0 248.2h0M69.4 205.9h0M127.0 222.7h0M125.3 235.4h0M140.1 301.8h0M70.8 221.7h0M109.7 222.9h0M129.9 206.1h0M101.0 232.6h0M82.9 249.5h0M69.4 211.7h0M86.7 268.8h0M93.6 268.0h0M117.5 259.0h0M63.0 245.5h0M124.9 313.9h0M69.6 209.5h0M84.6 219.3h0M101.4 294.4h0M58.4 208.3h0M91.8 240.8h0M138.6 226.8h0M138.6 197.6h0M128.8 201.2h0M87.8 227.9h0M108.4 238.0h0M129.3 248.7h0M47.5 243.4h0M98.5 232.7h0M107.9 234.4h0M115.3 253.1h0M81.7 217.9h0M91.5 198.8h0M141.8 263.5h0M63.1 190.7h0M129.9 252.8h0M112.2 271.9h0M141.3 187.5h0M112.0 163.1h0M97.1 208.1h0M139.5 245.1h0M113.4 204.1h0M113.1 263.9h0M130.3 253.5h0M92.1 204.7h0M113.4 257.8h0M127.4 184.7h0M79.8 223.9h0M82.5 239.8h0M124.9 279.0h0M132.0 261.1h0M121.3 281.1h0M116.6 186.8h0M306.7 41.3h0M281.3 52.0h0M281.6 47.0h0M259.7 54.3h0M295.3 52.2h0M258.5 55.9h0M265.1 63.2h0M242.1 70.6h0M307.4 31.9h0M293.8 46.3h0M254.4 66.7h0M281.2 51.0h0M255.0 37.7h0M301.3 47.8h0M259.4 74.9h0M245.0 66.0h0M294.3 64.7h0M291.5 46.9h0M288.6 57.5h0M257.3 66.9h0M269.8 36.2h0M279.0 64.2h0M270.4 48.4h0M271.0 82.3h0M305.8 37.5h0M266.7 51.5h0M258.7 43.1h0M301.2 39.4h0M256.1 58.3h0M253.3 75.0h0M242.0 65.3h0M249.8 77.7h0M235.7 70.2h0M276.9 51.7h0M271.9 79.7h0M272.1 66.7h0M287.9 47.5h0M290.7 50.0h0M244.1 59.7h0M271.6 49.6h0M240.9 68.4h0M239.7 77.3h0M272.6 47.8h0M252.9 81.5h0M234.2 74.9h0M254.5 55.4h0M238.4 69.7h0M271.9 51.7h0M299.3 47.4h0M234.5 88.4h0M253.6 55.9h0M305.5 48.6h0M271.3 71.0h0M307.4 37.7h0M296.3 37.2h0M238.7 76.4h0M268.6 49.2h0M260.0 74.0h0M292.6 49.6h0M228.7 101.2h0M235.5 59.2h0M229.1 78.1h0M276.1 59.7h0M302.0 39.3h0M245.5 70.1h0M259.0 54.3h0M306.3 47.8h0M247.4 72.0h0M250.3 79.4h0M298.6 39.7h0M275.0 50.7h0M260.1 63.1h0M266.1 79.1h0M289.8 68.7h0M243.4 98.5h0M316.6 46.9h0M230.4 102.3h0M242.8 76.3h0M279.4 46.2h0M262.5 84.7h0M273.9 51.4h0M274.8 62.4h0M250.6 70.9h0M286.3 45.3h0M275.2 55.3h0M279.3 47.4h0M252.8 65.3h0M291.0 57.9h0M269.5 52.2h0M313.5 46.5h0M266.0 57.0h0M272.0 55.5h0M283.6 44.5h0M257.3 77.7h0M288.0 34.0h0M246.0 79.9h0M306.1 45.8h0M276.7 30.4h0M257.1 51.8h0M262.9 52.6h0M271.5 54.2h0M259.4 66.7h0M297.6 43.9h0M261.6 68.9h0M278.0 67.7h0M248.9 62.8h0M245.7 77.6h0M293.2 51.1h0M254.2 80.5h0M260.8 45.7h0M282.6 40.0h0M314.2 30.9h0M237.2 63.2h0M270.3 59.4h0M257.5 62.9h0M306.4 28.1h0M284.4 45.3h0M250.0 57.9h0M272.8 51.2h0M277.4 55.9h0M311.2 33.5h0M251.9 87.2h0M298.4 57.6h0M265.6 61.9h0M299.2 34.8h0M272.2 75.2h0M303.3 56.4h0M243.0 71.6h0M244.8 89.8h0M295.9 53.2h0M250.6 120.0h0M217.2 236.6h0M273.1 118.1h0M245.3 177.5h0M214.9 256.5h0M260.8 118.1h0M267.0 128.5h0M258.0 170.1h0M222.4 207.1h0M268.7 96.0h0M238.0 163.9h0M254.4 135.5h0M279.8 133.1h0M248.2 134.4h0M218.9 206.2h0M242.2 216.5h0M273.2 125.0h0M260.7 128.9h0M239.2 231.0h0M215.4 263.7h0M237.2 183.0h0M216.2 261.3h0M220.9 201.8h0M259.3 140.4h0M231.4 263.1h0M260.7 124.5h0M215.2 246.2h0M213.1 251.7h0M251.4 156.0h0M289.3 94.9h0M217.5 250.3h0M238.1 181.4h0M265.2 152.1h0M238.6 196.7h0M225.7 259.2h0M218.8 225.6h0M223.5 200.3h0M243.7 237.7h0M235.5 198.6h0M231.0 164.7h0M212.5 249.7h0M256.1 178.0h0M223.0 206.7h0M244.0 143.3h0M220.2 217.6h0M235.0 254.8h0M240.6 158.2h0M215.0 237.8h0M239.1 263.8h0M242.2 199.8h0M242.5 162.2h0M252.5 155.2h0M256.2 101.2h0M245.4 156.7h0M283.9 150.5h0M253.0 149.5h0M233.2 161.9h0M253.7 135.5h0M236.0 231.3h0M228.1 180.4h0M264.8 226.7h0M260.1 109.7h0M220.2 249.9h0M273.3 132.1h0M274.0 143.3h0M230.4 213.2h0M221.0 235.2h0M228.2 210.2h0M238.2 188.9h0M250.7 135.1h0M266.9 113.4h0M290.3 140.0h0M261.7 127.6h0M226.6 188.1h0M216.1 219.2h0M66.0 329.6h0M88.3 329.6h0M166.0 329.6h0M341.4 38.5h0M353.0 54.0h0M324.0 41.2h0" stroke="#0a0a0a" stroke-width="2.2" stroke-linecap="round" fill="none"/>
<path d="M193.9 534.2h0M219.6 515.4h0M216.9 517.2h0M183.0 541.7h0M189.8 541.7h0M183.5 542.8h0M204.4 526.8h0M188.8 531.7h0M203.9 519.7h0M164.9 569.8h0M222.9 511.5h0M190.0 534.6h0M207.7 526.5h0M189.0 534.9h0M186.1 540.4h0M200.5 526.2h0M209.1 522.9h0M189.4 537.7h0M189.6 536.2h0M211.0 530.1h0M181.1 552.6h0M169.7 563.1h0M195.9 523.4h0M180.9 545.1h0M158.0 564.5h0M178.7 547.8h0M187.1 544.8h0M174.7 557.1h0M164.3 556.1h0M195.8 536.4h0M205.3 515.8h0M189.1 538.6h0M180.2 547.0h0M201.6 530.3h0M207.2 524.6h0M188.4 540.2h0M199.1 521.6h0M205.6 510.9h0M193.8 543.0h0M178.4 547.5h0M198.1 527.6h0M201.2 534.9h0M215.8 520.6h0M172.1 557.5h0M189.4 554.6h0M176.8 546.5h0M162.7 563.1h0M196.5 533.9h0M203.3 527.0h0M179.8 546.3h0M211.9 505.5h0M208.3 522.0h0M202.7 522.7h0M202.8 531.1h0M210.2 519.3h0M170.8 557.7h0M205.5 526.5h0M207.7 529.3h0M164.5 566.3h0M198.8 528.5h0M187.1 536.9h0M206.7 521.6h0M188.1 544.9h0M192.6 534.7h0M208.0 539.2h0M175.2 546.0h0M204.9 526.3h0M191.2 536.3h0M199.3 523.7h0M185.8 545.3h0M210.6 515.1h0M206.3 527.6h0M189.0 536.4h0M206.6 527.1h0M215.8 514.6h0M221.9 502.2h0M167.4 562.6h0M211.8 523.8h0M203.4 529.4h0M191.3 536.0h0M167.2 541.6h0M218.5 517.8h0M177.4 562.7h0M206.2 528.9h0M222.4 520.7h0M166.7 562.7h0M188.4 540.2h0M173.1 559.6h0M200.4 534.1h0M227.1 518.3h0M230.0 503.0h0M164.0 566.2h0M180.1 540.7h0M203.4 520.7h0M225.2 513.7h0M202.7 530.2h0M180.2 547.1h0M196.9 528.1h0M198.8 541.7h0M190.4 539.0h0M174.8 540.4h0M201.2 529.7h0M198.8 529.9h0M192.2 537.0h0M193.5 543.2h0M167.7 552.3h0M184.2 542.2h0M215.2 515.9h0M188.2 535.9h0M165.3 555.4h0M223.9 521.2h0M202.0 525.4h0M233.8 504.4h0M194.5 533.9h0M187.7 545.3h0M170.3 561.3h0M214.9 511.2h0M240.4 495.0h0M179.8 549.4h0M183.0 546.7h0M204.4 525.8h0M178.8 548.6h0M196.2 548.1h0M190.2 544.0h0M198.0 533.3h0M211.3 515.5h0M190.0 530.2h0M213.3 524.3h0M180.2 535.1h0M199.4 529.9h0M153.5 567.3h0M169.2 560.1h0M210.1 525.0h0M178.6 539.6h0M204.9 527.0h0M203.9 527.2h0M214.1 510.4h0M203.1 516.5h0M216.8 524.7h0M192.3 537.8h0M181.1 546.4h0M174.9 540.4h0M177.3 534.3h0M173.4 553.3h0M182.7 542.6h0M189.4 533.7h0M194.7 527.3h0M188.6 541.8h0M156.2 562.5h0M194.5 538.9h0M206.0 541.3h0M217.6 523.1h0M203.5 525.4h0M179.6 542.6h0M187.5 554.7h0M235.7 510.0h0M207.5 523.5h0M237.3 518.4h0M230.5 499.7h0M175.6 544.4h0M209.8 539.8h0M199.6 525.3h0M204.4 527.1h0M199.1 521.6h0M196.4 531.0h0M197.5 533.3h0M166.0 558.4h0M187.7 534.4h0M179.5 546.3h0M195.7 533.0h0M189.6 547.7h0M203.3 523.7h0M208.3 522.1h0M193.5 523.7h0M199.3 530.2h0M195.5 534.0h0M187.4 544.4h0M188.3 535.1h0M185.2 543.7h0M202.8 531.5h0M188.8 529.2h0M198.6 519.6h0M170.9 557.6h0M212.8 524.8h0M176.2 543.1h0M182.8 549.6h0M181.2 528.2h0M183.7 544.5h0M195.8 527.1h0M187.1 548.8h0M174.3 552.1h0M174.8 544.5h0M215.9 512.9h0M196.0 536.3h0M164.8 544.7h0M191.4 532.3h0M166.0 560.4h0M227.8 509.1h0M166.7 560.0h0M198.0 522.7h0M205.7 529.3h0M167.1 557.8h0M201.5 533.3h0M207.7 514.9h0M202.5 528.3h0M195.6 527.9h0M208.9 518.1h0M198.2 534.6h0M197.4 527.3h0M188.3 533.7h0M208.5 529.2h0M174.3 547.4h0M196.8 509.9h0M185.3 544.1h0M171.8 550.0h0M204.3 534.1h0M222.7 506.8h0M212.7 522.0h0M181.8 540.5h0M206.3 524.3h0M188.9 546.4h0M187.8 533.1h0M195.8 534.4h0M154.7 575.2h0M196.8 531.8h0M177.9 554.7h0M179.6 544.6h0M167.0 558.5h0M167.2 560.3h0M174.3 547.5h0M212.4 526.6h0M220.7 505.4h0M199.3 542.6h0M208.3 512.1h0M188.2 538.6h0M159.7 566.1h0M198.5 535.3h0M199.9 526.1h0M186.2 542.4h0M199.5 530.9h0M200.7 522.4h0M179.2 550.2h0M167.5 559.2h0M188.2 537.0h0M186.3 534.6h0M187.6 541.2h0M210.9 519.0h0M224.6 507.7h0M183.6 539.0h0M201.5 518.7h0M213.5 523.6h0M206.8 524.3h0M212.6 518.7h0M184.6 539.1h0M202.2 518.0h0M230.2 503.3h0M207.4 521.7h0M178.7 540.8h0M208.4 530.0h0M218.8 518.0h0M201.6 530.9h0M183.3 544.0h0M220.7 510.0h0M172.5 556.6h0M197.2 520.9h0M195.4 537.9h0M172.5 554.6h0M212.2 512.0h0M197.4 526.8h0M172.4 553.5h0M203.2 524.3h0M183.1 538.9h0M159.1 565.1h0M179.0 543.6h0M201.2 534.2h0M204.8 524.8h0M201.7 538.4h0M197.1 537.6h0M205.6 531.8h0M185.8 533.9h0M216.3 518.3h0M195.3 531.7h0M201.8 533.8h0M204.0 527.3h0M175.3 552.8h0M183.4 549.4h0M218.6 508.0h0M204.8 535.8h0M186.5 537.3h0M191.4 520.2h0M187.4 545.7h0M198.5 530.7h0M186.4 551.3h0M198.7 530.9h0M170.5 566.3h0M215.8 512.0h0M185.9 545.1h0M170.8 566.8h0M193.6 543.4h0M191.9 546.8h0M197.3 533.9h0M170.3 550.2h0M202.1 530.5h0M263.0 482.5h0M173.2 558.5h0M199.5 529.6h0M195.7 549.0h0M195.4 530.2h0M159.7 562.4h0M180.6 562.4h0M198.4 523.9h0M198.2 541.9h0M224.1 510.4h0M177.3 542.3h0M202.1 538.6h0M252.4 496.2h0M183.5 551.5h0M180.9 553.6h0M193.6 536.5h0M194.7 538.1h0M210.7 524.0h0M197.7 535.2h0M180.7 548.1h0M200.4 535.2h0M240.6 492.8h0M216.9 515.5h0M146.7 583.0h0M185.5 531.1h0M182.0 553.9h0M202.8 523.0h0M193.1 540.9h0M227.7 503.7h0M209.1 518.9h0M207.3 518.3h0M192.7 527.4h0M195.8 539.1h0M191.0 519.7h0M216.0 513.6h0M206.0 530.0h0M191.7 545.9h0M209.5 506.8h0M192.1 526.4h0M192.4 536.7h0M177.0 545.1h0M179.4 539.5h0M181.9 545.0h0M144.5 580.9h0M212.3 519.5h0M201.4 523.4h0M189.8 538.7h0M216.6 523.3h0M199.3 525.7h0M205.9 535.8h0M151.3 577.0h0M185.6 534.5h0M202.6 526.1h0M222.2 509.2h0M226.7 506.0h0M216.3 509.2h0M172.9 553.8h0M160.1 577.0h0M203.3 525.5h0M203.9 546.0h0M217.6 527.6h0M186.5 531.6h0M194.5 528.1h0M168.0 560.7h0M202.1 528.6h0M185.4 542.1h0M196.9 526.2h0M204.5 530.9h0M194.4 540.4h0M201.5 532.7h0M193.1 535.1h0M206.7 522.5h0M204.1 528.9h0M181.5 541.2h0M186.3 548.3h0M225.6 508.2h0M194.1 539.5h0M214.9 523.4h0M197.0 524.7h0M184.6 545.4h0M183.4 550.8h0M195.8 533.3h0M201.6 535.0h0M203.0 523.5h0M168.1 552.2h0M179.8 541.0h0M195.4 540.7h0M223.2 510.7h0M145.2 565.8h0M202.4 529.2h0M180.0 539.3h0M196.8 523.0h0M189.2 548.1h0M196.5 525.2h0M219.7 508.0h0M197.4 526.6h0M196.3 522.4h0M199.1 527.8h0M179.9 546.9h0M201.7 524.6h0M191.1 539.9h0M177.5 546.3h0M199.4 543.3h0M184.2 532.7h0M209.1 525.4h0M191.3 534.1h0M183.2 542.6h0M219.8 512.1h0M211.3 519.4h0M216.5 515.1h0M209.9 531.7h0M193.5 539.1h0M182.4 537.6h0M191.9 543.5h0M214.2 524.3h0M189.1 525.9h0M163.1 554.3h0M188.1 530.3h0M168.1 557.7h0M195.9 531.8h0M169.6 551.6h0M169.1 553.2h0M196.2 533.8h0M197.0 541.9h0M166.0 564.2h0M212.1 529.1h0M228.0 495.6h0M168.2 560.2h0M227.3 507.4h0M180.4 545.2h0M184.8 543.1h0M188.9 536.3h0M169.6 560.4h0M222.1 520.5h0M197.2 521.3h0M182.4 549.8h0M190.3 541.5h0M168.9 562.2h0M189.3 542.9h0M210.7 520.6h0M160.4 559.8h0M189.3 546.1h0M195.6 532.1h0M215.0 521.4h0M214.5 509.9h0M189.4 547.1h0M180.1 546.8h0M199.8 525.8h0M191.6 546.1h0M187.9 540.0h0M213.0 518.0h0M227.0 511.8h0M199.4 532.1h0M187.3 535.0h0M203.5 525.6h0M161.0 566.7h0M194.2 536.6h0M173.3 550.6h0M233.2 493.3h0M204.5 521.3h0M194.2 530.7h0M185.5 533.0h0M153.2 580.7h0M211.3 529.5h0M230.5 518.0h0M178.1 544.0h0M213.4 533.0h0M207.1 524.3h0M163.5 557.2h0M215.2 525.8h0M220.5 516.6h0M198.9 532.9h0M190.5 534.0h0M212.9 528.6h0M165.0 558.7h0M193.5 531.6h0M212.6 518.5h0M171.0 554.6h0M208.0 515.5h0M185.7 541.4h0M156.3 568.4h0M193.1 538.5h0M174.3 548.6h0M200.6 531.6h0M170.7 551.7h0M212.7 518.7h0M177.1 543.2h0M202.9 532.8h0M183.0 544.7h0M187.0 539.4h0M214.3 515.4h0M194.4 528.2h0M185.6 540.4h0M168.5 552.1h0M208.9 510.4h0M204.6 521.1h0M191.3 544.5h0M202.8 536.9h0M173.2 549.4h0M176.8 552.9h0M178.1 547.6h0M200.9 530.7h0M195.3 526.3h0M176.8 543.1h0M210.8 528.0h0M207.3 522.3h0M198.0 534.0h0M216.8 523.9h0M186.8 537.8h0M192.4 537.9h0M201.2 526.6h0M185.7 527.3h0M204.2 518.4h0M167.9 551.4h0M221.1 514.6h0M183.5 552.1h0M187.1 533.8h0M170.0 558.4h0M204.7 526.0h0M218.2 516.9h0M213.1 518.4h0M201.6 513.9h0M166.7 561.3h0M180.7 548.9h0M185.0 542.2h0M176.2 549.3h0M218.0 522.2h0M202.8 539.0h0M195.3 538.1h0M203.5 528.7h0M179.2 553.4h0M180.6 553.5h0M180.9 552.9h0M204.2 529.2h0M200.6 530.7h0M209.5 532.4h0M215.3 520.7h0M168.4 555.8h0M184.3 545.0h0M200.9 538.2h0M170.7 558.2h0M184.5 544.2h0M210.1 517.0h0M219.0 524.1h0M211.5 516.3h0M196.3 536.7h0M189.6 538.3h0M211.5 516.3h0M190.0 544.7h0M202.7 533.3h0M218.4 515.3h0M185.2 538.9h0M184.7 547.3h0M198.3 540.9h0M207.1 528.8h0M201.6 526.8h0M193.3 529.2h0M205.7 528.8h0M166.1 562.1h0M179.1 549.9h0M197.5 533.7h0M180.2 553.7h0M171.2 558.5h0M171.6 554.0h0M177.2 549.9h0M190.8 538.5h0M178.7 555.4h0M200.1 534.0h0M227.0 511.6h0M188.2 534.4h0M212.7 510.6h0M198.3 530.0h0M168.9 547.8h0M190.4 540.9h0M177.2 552.3h0M212.0 528.3h0M172.5 553.1h0M219.5 516.6h0M204.3 526.3h0M156.0 565.9h0M209.1 524.3h0M225.7 515.3h0M179.9 548.4h0M212.2 520.5h0M161.4 564.0h0M196.6 529.4h0M164.7 562.7h0M203.6 529.1h0M156.4 557.8h0M143.1 573.4h0M201.5 529.8h0M238.4 503.0h0M184.6 546.7h0M207.9 521.3h0M193.5 531.0h0M180.8 532.3h0M206.0 526.9h0M223.3 509.3h0M172.8 556.4h0M204.0 526.5h0M201.5 531.6h0M171.5 561.9h0M220.1 506.7h0M228.9 504.5h0M172.8 546.2h0M227.0 510.1h0M194.2 533.8h0M189.0 535.9h0M227.0 518.6h0M202.1 536.7h0M197.6 527.9h0M221.2 511.4h0M222.9 521.8h0M212.4 524.1h0M171.8 561.4h0M167.0 562.1h0M209.7 512.5h0M178.9 552.2h0M190.5 526.2h0M175.3 553.4h0M192.9 541.1h0M166.0 550.2h0M220.6 506.6h0M171.3 546.8h0M185.8 530.7h0M187.3 534.8h0M212.0 512.3h0M173.4 563.9h0M195.8 539.0h0M188.8 537.3h0M202.9 526.5h0M200.2 525.6h0M186.9 544.5h0M194.8 527.8h0M180.9 534.3h0M200.6 526.1h0M189.5 534.2h0M180.4 544.0h0M190.5 532.7h0M199.8 529.0h0M236.4 501.6h0M184.3 542.5h0M199.1 530.2h0M225.0 517.8h0M155.5 567.4h0M162.2 562.8h0M171.7 553.4h0M193.4 539.2h0M236.6 495.3h0M199.0 527.1h0M217.9 518.9h0M188.8 537.8h0M146.8 571.5h0M149.7 569.3h0M215.1 522.7h0M200.3 536.2h0M170.3 555.8h0M217.3 521.6h0M158.4 551.0h0M216.9 520.5h0M222.6 515.5h0M178.1 545.3h0M175.3 554.7h0M216.4 530.5h0M174.6 553.3h0M212.6 525.5h0M173.9 556.3h0M213.5 528.6h0M198.5 537.3h0M186.7 543.1h0M178.0 550.1h0M201.7 535.9h0M162.0 568.0h0M191.7 543.1h0M186.5 541.5h0M206.8 525.6h0M175.2 559.9h0M223.2 506.5h0M190.6 543.1h0M172.3 552.4h0M222.0 517.2h0M223.4 508.6h0M191.1 539.2h0M177.8 549.7h0M192.9 533.8h0M180.3 545.2h0M188.0 540.2h0M221.9 510.7h0M205.1 534.1h0M197.0 533.8h0M207.1 538.1h0M199.9 544.6h0M210.4 523.7h0M210.8 522.8h0M182.9 536.4h0M194.0 531.8h0M234.5 493.9h0M202.7 530.3h0M189.4 537.2h0M227.7 499.5h0M192.7 533.8h0M173.2 551.8h0M206.0 524.8h0M180.6 553.2h0M187.8 546.7h0M204.4 535.6h0M190.6 536.3h0M181.1 548.7h0M186.2 546.8h0M182.3 543.8h0M217.0 519.4h0M177.8 543.4h0M177.9 538.1h0M229.6 502.1h0M186.1 546.9h0M225.6 517.5h0M211.8 508.0h0M189.9 536.5h0M171.9 562.2h0M199.0 524.8h0M211.3 531.0h0M212.9 522.0h0M196.1 535.4h0M217.0 518.0h0M222.7 517.8h0M167.6 543.9h0M221.2 514.6h0M196.0 531.6h0M183.7 544.5h0M193.2 546.3h0M229.7 508.1h0M211.2 519.5h0M158.8 560.6h0M196.6 535.6h0M190.4 536.6h0M191.9 539.6h0M182.9 541.7h0M175.2 567.3h0M207.8 520.0h0M178.9 552.7h0M189.1 543.5h0M191.8 555.2h0M184.1 550.9h0M205.6 521.8h0M193.9 521.5h0M184.0 548.8h0M178.9 552.9h0M184.0 541.3h0M210.7 519.4h0M198.1 535.8h0M198.8 532.6h0M189.2 542.2h0M187.4 537.5h0M195.5 529.5h0M155.2 558.5h0M220.4 507.0h0M177.7 545.7h0M183.2 544.0h0M215.4 511.3h0M201.0 535.6h0M188.2 527.4h0M182.6 543.8h0M161.4 555.2h0M199.8 535.5h0M212.5 513.2h0M176.5 548.4h0M219.2 514.8h0M175.6 555.7h0M183.4 550.3h0M197.6 521.3h0M190.2 531.3h0M206.1 524.3h0M179.9 546.6h0M177.5 554.4h0M165.8 571.5h0M177.7 560.9h0M176.4 554.7h0M168.6 558.6h0M203.2 534.9h0M179.5 543.3h0M156.4 565.1h0M238.5 496.0h0M184.3 555.0h0M171.9 556.2h0M216.5 516.2h0M219.0 521.7h0M179.8 561.5h0M161.4 552.1h0M174.0 549.2h0M215.6 519.2h0M183.4 534.9h0M175.9 544.4h0M192.1 534.5h0M215.1 515.9h0M166.4 554.7h0M182.5 536.5h0M168.7 557.2h0M234.0 502.2h0M225.1 504.9h0M219.9 530.6h0M191.3 537.4h0M207.2 526.7h0M156.0 568.8h0M199.6 531.9h0M168.7 555.5h0M169.7 556.1h0M181.0 546.5h0M188.0 541.6h0M203.0 525.0h0M208.2 526.4h0M195.7 528.0h0M182.1 556.5h0M205.6 524.3h0M190.4 535.9h0M219.3 521.6h0M178.7 551.6h0M139.8 574.4h0M185.8 543.6h0M235.7 504.9h0M211.7 538.8h0M189.4 537.5h0M209.7 521.3h0M201.2 525.5h0M196.0 521.1h0M184.7 543.7h0M194.9 534.0h0M199.7 534.9h0M182.5 546.0h0M173.8 553.3h0M194.2 530.8h0M209.8 518.4h0M208.1 528.1h0M204.4 529.5h0M198.9 522.8h0M243.7 498.3h0M196.4 528.9h0M207.8 513.5h0M227.4 502.5h0M194.2 533.9h0M194.6 526.6h0M211.8 517.9h0M224.6 509.1h0M200.3 531.4h0M197.0 525.8h0M193.5 531.7h0M167.4 549.1h0M215.3 519.2h0M190.4 540.7h0M164.2 564.2h0M190.5 536.9h0M164.8 565.3h0M172.9 548.2h0M193.3 534.1h0M180.4 553.5h0M222.6 529.2h0M173.1 565.2h0M194.4 526.3h0M204.4 527.0h0M220.1 512.0h0M212.1 522.5h0M197.1 530.4h0M201.5 541.0h0M199.2 543.5h0M219.8 523.4h0M182.0 545.6h0M201.4 524.8h0M191.0 535.3h0M198.9 532.1h0M193.4 544.2h0M230.4 499.0h0M183.1 546.8h0M198.8 531.6h0M199.4 531.4h0M206.7 527.5h0M204.6 530.9h0M203.7 530.9h0M216.0 524.6h0M166.2 558.3h0M194.9 535.9h0M168.7 551.3h0M204.0 538.2h0M169.2 549.9h0M177.0 550.8h0M193.6 537.0h0M222.0 516.3h0M207.2 529.2h0M204.2 536.1h0M216.9 510.2h0M177.8 551.1h0M154.1 565.8h0M184.0 539.2h0M190.7 541.6h0M217.3 516.8h0M234.0 503.0h0M167.0 552.7h0M238.7 496.0h0M222.1 510.2h0M207.2 519.7h0M201.1 529.9h0M231.9 490.0h0M198.6 537.4h0M181.8 538.4h0M192.4 528.2h0M173.0 561.0h0M200.1 524.9h0M191.4 536.1h0M197.5 527.1h0M204.5 534.0h0M174.3 551.2h0M221.1 518.2h0M176.9 552.6h0M205.9 516.4h0M165.8 561.0h0M207.9 537.5h0M183.7 553.3h0M198.5 538.8h0M179.3 542.0h0M156.9 572.2h0M178.9 558.5h0M192.1 530.3h0M204.8 524.7h0M166.6 557.3h0M158.2 571.7h0M174.1 544.1h0M190.8 539.1h0M188.9 552.4h0M183.1 552.2h0M212.3 525.0h0M212.3 520.7h0M205.3 521.0h0M179.5 552.7h0M197.5 536.3h0M184.0 530.6h0M168.2 557.6h0M211.9 523.4h0M195.8 533.9h0M189.3 547.5h0M218.3 511.2h0M205.1 519.9h0M211.6 524.0h0M212.9 512.9h0M208.2 525.1h0M170.5 554.3h0M189.5 544.1h0M214.9 522.4h0M184.9 552.8h0M194.2 534.0h0M202.3 530.1h0M221.1 513.6h0M221.3 518.9h0M214.1 525.4h0M192.8 540.6h0M209.4 519.3h0M202.9 526.0h0M193.4 540.4h0M217.9 513.0h0M197.8 521.4h0M180.2 546.9h0M210.9 508.3h0M188.3 537.9h0M200.9 521.4h0M168.2 561.3h0M190.2 531.6h0M180.7 554.5h0M175.8 549.9h0M160.6 566.7h0M239.2 508.8h0M195.7 542.7h0M195.0 527.7h0M212.7 516.3h0M188.0 532.8h0M202.9 526.7h0M178.5 567.2h0M196.9 531.5h0M188.4 544.0h0M204.8 529.4h0M198.8 534.2h0M171.4 560.0h0M163.6 568.1h0M171.9 547.1h0M206.1 522.3h0M203.9 531.1h0M202.7 530.7h0M154.6 563.9h0M144.2 576.5h0M182.2 544.7h0M191.9 545.1h0M184.5 546.6h0M204.0 534.0h0M196.9 545.0h0M169.9 551.1h0M179.2 550.6h0M198.0 534.8h0M198.4 537.8h0M190.4 534.1h0M228.7 492.5h0M187.5 537.7h0M193.4 530.4h0M179.9 555.7h0M187.0 540.6h0M202.9 526.6h0M199.7 521.4h0M191.2 538.1h0M204.1 532.8h0M195.2 535.0h0M161.3 566.8h0M130.2 582.1h0M233.8 496.9h0M208.0 521.4h0M192.4 535.9h0M159.9 560.0h0M172.4 557.5h0M221.4 517.6h0M149.3 586.2h0M184.5 536.6h0M208.2 520.2h0M194.6 531.1h0M207.6 523.6h0M186.5 531.8h0M240.4 501.5h0M171.7 547.6h0M172.0 560.1h0M200.4 533.0h0M223.7 517.5h0M192.7 536.2h0M213.9 520.2h0M183.1 542.5h0M174.4 556.4h0M223.7 518.6h0M220.7 509.0h0M217.8 507.0h0M183.8 540.0h0M173.3 554.1h0M171.6 552.7h0M195.2 545.3h0M205.6 527.7h0M199.7 523.6h0M166.6 556.7h0M200.2 535.7h0M191.7 532.4h0M196.1 534.8h0M191.4 533.5h0M194.7 543.9h0M206.4 528.2h0M195.3 532.6h0M197.2 531.1h0M179.8 544.6h0M201.3 529.5h0M192.5 538.3h0M154.3 567.3h0M200.1 525.0h0M193.9 545.2h0M211.8 522.3h0M191.7 539.0h0M191.8 536.7h0M194.8 528.8h0M197.9 540.6h0M184.3 540.9h0M166.9 570.1h0M229.7 509.4h0M167.1 562.4h0M188.7 542.0h0M207.8 527.6h0M202.5 531.5h0M205.4 528.0h0M208.8 524.5h0M222.6 522.3h0M203.7 536.0h0M248.0 491.5h0M174.1 549.8h0M195.1 528.6h0M178.7 531.3h0M183.8 543.9h0M201.7 534.0h0M219.9 512.1h0M179.1 544.5h0M180.7 546.4h0M210.4 528.0h0M204.2 527.5h0M229.6 505.0h0M217.0 524.5h0M201.9 536.3h0M184.4 536.6h0M204.8 540.2h0M190.4 537.9h0M170.1 558.1h0M189.9 530.7h0M189.0 536.3h0M192.5 542.4h0M182.4 538.0h0M226.4 511.1h0M200.5 517.7h0M205.9 515.1h0M183.3 545.5h0M173.1 549.1h0M188.4 539.5h0M201.2 535.0h0M184.5 537.4h0M189.3 537.1h0M208.8 517.5h0M196.2 527.2h0M171.9 546.2h0M183.1 538.8h0M182.4 546.3h0M197.0 532.5h0M171.6 552.6h0M191.1 538.9h0M207.3 525.6h0M188.8 528.6h0M176.0 548.3h0M177.0 538.7h0M198.6 536.4h0M202.9 528.2h0M210.5 524.0h0M192.6 539.3h0M171.0 557.4h0M220.2 513.6h0M200.7 532.5h0M195.8 522.9h0M197.5 528.5h0M177.5 554.6h0M189.9 542.6h0M196.4 529.0h0M211.0 517.5h0M196.9 536.8h0M134.7 581.5h0M194.0 544.5h0M201.8 531.7h0M212.2 509.2h0M214.8 533.6h0M239.7 497.1h0M216.8 509.7h0M218.8 514.9h0M213.4 523.5h0M171.7 560.5h0M215.7 529.6h0M208.9 530.8h0M184.3 543.7h0M206.4 528.4h0M201.6 529.1h0M186.0 543.5h0M190.9 536.6h0M194.3 545.6h0M199.1 533.1h0M187.3 543.5h0M204.8 528.1h0M162.0 568.9h0M195.6 547.8h0M161.5 559.9h0M182.8 540.4h0M196.1 519.2h0M192.1 532.7h0M187.0 531.6h0M193.4 532.5h0M223.6 512.3h0M172.4 551.3h0M213.6 525.7h0M165.8 558.6h0M185.9 543.4h0M200.2 536.8h0M174.8 544.7h0M194.3 528.5h0M205.8 522.5h0M169.9 551.6h0M187.6 531.1h0M187.6 542.0h0M163.0 570.9h0M193.5 541.9h0M177.4 545.7h0M217.5 513.7h0M182.7 554.6h0M220.7 504.2h0M183.7 543.3h0M224.1 499.4h0M200.3 523.1h0M203.5 530.0h0M208.3 522.6h0M212.6 524.0h0M221.9 516.5h0M226.3 509.4h0M186.1 539.3h0M167.1 550.5h0M148.3 580.8h0M184.8 539.2h0M207.6 523.5h0M201.5 530.4h0M192.6 529.8h0M188.7 542.3h0M178.1 540.8h0M189.8 541.2h0M203.8 532.7h0M159.6 560.6h0M211.6 529.2h0M171.1 562.7h0M191.6 538.7h0M182.4 545.5h0M188.0 542.3h0M181.0 559.0h0M177.1 558.4h0M188.1 537.4h0M172.5 550.8h0M241.5 500.4h0M185.4 541.2h0M181.3 545.2h0M180.7 540.7h0M176.6 555.1h0M144.8 569.2h0M190.1 540.7h0M195.0 525.6h0M163.7 556.0h0M197.0 539.1h0M172.8 555.8h0M192.2 535.2h0M197.1 526.4h0M206.8 532.9h0M203.2 530.5h0M179.1 544.5h0M208.2 520.1h0M188.8 546.4h0M202.8 533.3h0M205.2 523.0h0M191.4 544.0h0M169.7 555.0h0M202.0 522.7h0M173.4 553.2h0M185.8 559.1h0M170.1 548.9h0M205.4 518.3h0M186.4 533.2h0M150.3 568.0h0M212.2 530.0h0M226.9 498.0h0M225.3 506.1h0M180.5 541.3h0M195.6 535.0h0M203.7 528.5h0M210.6 522.4h0M189.4 529.5h0M173.0 551.9h0M208.0 524.5h0M208.8 530.5h0M168.1 555.0h0M187.0 541.4h0M198.1 530.9h0M190.6 532.2h0M201.0 524.9h0M208.1 523.1h0M202.8 526.4h0M191.3 537.2h0M167.0 554.4h0M202.7 523.5h0M218.6 513.1h0M232.1 507.6h0M190.5 533.2h0M190.2 533.1h0M223.1 516.7h0M218.5 511.7h0M201.0 531.7h0M213.3 532.2h0M180.0 547.9h0M201.3 523.2h0M180.9 551.3h0M193.2 540.5h0M188.3 534.1h0M188.5 547.0h0M158.3 572.3h0M179.7 549.9h0M197.8 528.3h0M190.6 534.5h0M188.1 543.8h0M202.4 530.1h0M205.9 524.6h0M210.2 523.8h0M181.7 551.5h0M197.4 539.3h0M185.4 538.5h0M178.4 550.4h0M157.7 549.2h0M189.9 535.1h0M180.1 552.2h0M232.6 501.9h0M190.8 536.2h0M188.3 537.9h0M185.0 540.5h0M226.2 504.7h0M177.0 551.1h0M188.7 536.0h0M172.9 540.2h0M192.7 539.3h0M194.1 537.7h0M211.3 516.0h0M164.1 553.7h0M190.7 533.2h0M219.1 506.1h0M184.5 544.0h0M191.1 539.4h0M175.5 547.5h0M144.1 574.7h0M186.6 531.5h0M210.1 511.8h0M190.7 549.6h0M157.8 562.1h0M200.5 534.0h0M201.5 542.0h0M210.5 518.7h0M210.6 522.1h0M189.8 541.3h0M204.8 534.1h0M164.1 567.8h0M214.5 519.1h0M201.6 538.2h0M213.6 519.1h0M212.5 518.7h0M188.9 540.9h0M190.0 537.1h0M178.0 549.9h0M159.8 572.5h0M194.4 541.6h0M196.0 533.0h0M171.0 549.5h0M206.1 524.1h0M197.0 536.1h0M201.4 528.1h0M185.3 554.4h0M164.8 567.2h0M208.9 525.0h0M204.9 526.5h0M192.7 538.8h0M186.9 543.5h0M192.3 544.4h0M192.9 540.1h0M183.7 543.0h0M162.9 574.1h0M211.6 527.8h0M167.7 560.7h0M183.1 535.9h0M186.0 538.3h0M193.6 526.2h0M160.3 556.5h0M216.9 518.5h0M205.8 525.8h0M211.3 527.9h0M213.1 511.7h0M177.0 545.8h0M135.1 583.1h0M197.7 528.2h0M216.1 513.5h0M214.2 516.8h0M183.3 543.2h0M188.4 532.9h0M201.4 534.0h0M164.3 567.9h0M181.8 546.2h0M178.8 541.6h0M221.8 509.9h0M182.7 546.7h0M219.8 508.0h0M193.8 535.1h0M169.4 568.8h0M237.2 504.3h0M182.7 558.3h0M205.8 526.7h0M226.2 510.3h0M182.9 542.5h0M165.2 547.5h0M214.7 521.3h0M195.1 534.6h0M172.9 556.3h0M183.0 562.6h0M189.2 544.4h0M213.6 523.0h0M187.9 539.2h0M208.4 528.3h0M227.9 514.1h0M215.1 513.5h0M220.2 513.2h0M219.0 519.4h0M167.2 563.6h0M217.0 517.4h0M197.4 527.5h0M187.3 532.5h0M178.3 557.3h0M161.6 556.5h0M173.7 552.9h0M192.5 534.7h0M169.7 550.7h0M182.1 551.9h0M180.2 542.3h0M210.0 529.7h0M190.0 541.9h0M193.9 540.9h0M212.8 508.8h0M183.1 534.9h0M202.5 523.5h0M173.2 550.4h0M201.5 532.3h0M190.8 527.6h0M192.8 527.9h0M182.7 539.8h0M175.6 552.2h0M189.6 541.5h0M185.7 543.2h0M208.6 514.6h0M213.3 524.6h0M171.8 554.1h0M200.3 519.9h0M182.5 540.0h0M196.9 522.2h0M183.9 541.7h0M165.9 557.2h0M208.1 514.7h0M200.1 526.1h0M170.6 553.6h0M161.2 567.1h0M188.7 549.1h0M167.9 548.9h0M188.6 542.7h0M207.4 528.4h0M217.8 509.3h0M190.1 544.2h0M222.9 518.6h0M216.7 519.2h0M186.2 542.5h0M162.8 560.8h0M207.7 520.2h0M201.9 522.4h0M236.9 498.8h0M218.7 511.6h0M208.4 523.5h0M226.4 511.1h0M173.7 550.5h0M196.3 531.1h0M183.3 533.2h0M223.6 505.8h0M206.3 528.9h0M136.7 581.4h0M219.5 514.7h0M172.7 544.1h0M213.2 529.1h0M187.3 545.2h0M200.4 533.8h0M205.2 524.9h0M197.9 532.7h0M181.6 555.9h0M225.1 519.7h0M200.7 528.3h0M189.3 530.4h0M202.4 519.0h0M185.6 545.0h0M226.9 503.9h0M200.8 534.7h0M205.1 534.5h0M196.7 525.4h0M175.5 547.2h0M173.9 554.8h0M199.2 533.0h0M197.7 526.4h0M217.6 512.8h0M203.4 529.2h0M173.6 551.3h0M203.7 526.9h0M210.4 523.5h0M214.5 521.8h0M197.4 526.6h0M173.5 556.0h0M218.8 521.0h0M175.4 540.3h0M200.8 521.7h0M164.1 558.1h0M208.2 523.3h0M179.3 546.8h0M218.2 523.1h0M226.2 507.4h0M214.5 515.8h0M173.6 554.2h0M175.7 548.5h0M180.7 551.5h0M205.6 524.1h0M205.2 535.2h0M197.1 532.8h0M201.6 532.5h0M208.7 530.7h0M207.2 526.3h0M224.7 508.5h0M194.9 538.2h0M195.0 528.8h0M162.6 566.9h0M167.3 552.8h0M179.3 543.6h0M174.4 556.1h0M193.7 526.8h0M217.1 523.7h0M184.6 540.3h0M185.1 542.8h0M182.5 540.7h0M201.1 538.8h0M187.8 548.1h0M204.3 531.6h0M199.4 530.6h0M200.0 529.7h0M207.8 523.4h0M195.3 535.9h0M198.7 535.7h0M230.0 512.6h0M194.4 537.7h0M206.8 521.1h0M191.9 531.2h0M187.2 544.5h0M182.4 539.0h0M183.2 553.2h0M191.8 532.7h0M186.3 548.9h0M185.5 541.4h0M218.9 519.7h0M194.4 541.1h0M216.2 519.5h0M194.4 526.5h0M211.5 524.3h0M181.0 543.1h0M196.1 532.8h0M240.7 493.1h0M207.9 521.5h0M210.2 517.6h0M201.7 536.1h0M209.3 522.0h0M171.8 552.7h0M180.2 551.1h0M200.5 527.7h0M211.8 526.3h0M184.2 539.6h0M192.6 541.1h0M188.1 542.4h0M188.0 535.9h0M168.8 550.9h0M169.5 560.2h0M194.2 539.2h0M159.3 559.7h0M184.7 561.2h0M177.7 541.5h0M170.7 547.9h0M201.2 535.7h0M182.0 538.7h0M191.1 535.8h0M174.0 550.2h0M187.2 555.6h0M204.4 529.5h0M200.7 530.9h0M186.4 544.7h0M201.3 531.6h0M197.8 534.0h0M205.0 543.4h0M223.0 511.6h0M188.3 544.7h0M201.3 529.7h0M202.6 531.1h0M189.2 539.7h0M171.5 553.4h0M200.6 519.0h0M200.6 534.8h0M189.2 529.5h0M194.5 536.6h0M196.4 538.9h0M181.5 555.3h0M196.0 528.6h0M165.2 569.9h0M190.0 533.5h0M165.1 558.6h0M188.5 543.8h0M208.2 527.3h0M187.0 538.7h0M184.0 543.3h0M200.2 525.7h0M188.2 540.6h0M187.3 544.6h0M184.3 540.7h0M224.1 516.8h0M202.5 523.0h0M201.6 528.7h0M174.8 559.1h0M207.3 530.2h0M170.6 558.0h0M207.2 535.3h0M168.5 549.2h0M225.4 502.4h0M165.7 566.8h0M215.4 517.7h0M202.3 518.0h0M159.5 563.1h0M191.6 543.9h0M225.6 521.3h0M218.4 524.4h0M159.2 558.5h0M182.5 543.7h0M175.6 559.6h0M172.2 550.3h0M182.3 548.0h0M228.2 509.9h0M196.8 536.3h0M190.2 541.8h0M181.7 536.0h0M207.8 529.4h0M206.6 527.2h0M172.1 546.4h0M214.8 508.3h0M176.2 557.1h0M181.5 533.8h0M197.6 525.7h0M228.3 514.9h0M181.0 535.8h0M202.5 537.3h0M214.3 513.7h0M207.6 530.9h0M218.6 525.1h0M209.0 517.3h0M196.2 531.1h0M204.5 527.0h0M208.8 521.5h0M192.6 537.4h0M222.5 512.4h0M160.1 571.7h0M174.3 549.1h0M218.9 513.8h0M201.3 530.8h0M182.9 548.8h0M200.5 531.7h0M217.1 524.9h0M183.6 546.5h0M209.7 528.0h0M186.7 534.0h0M193.7 541.8h0M192.9 539.3h0M212.9 519.1h0M170.1 551.5h0M184.8 540.8h0M204.8 526.1h0M164.1 548.2h0M164.2 561.6h0M202.1 526.5h0M184.5 527.0h0M192.9 542.1h0M192.5 531.0h0M173.9 550.4h0M249.6 495.4h0M176.9 554.3h0M182.4 540.5h0M171.5 564.1h0M185.9 543.8h0M217.6 509.3h0M193.9 537.2h0M202.8 526.3h0M186.1 546.6h0M227.6 510.3h0M197.7 536.2h0M171.3 557.5h0M204.8 522.3h0M185.9 542.2h0M197.8 520.1h0M193.7 532.5h0M196.8 531.5h0M188.4 526.6h0M176.8 551.3h0M168.1 563.1h0M210.0 520.7h0M193.7 542.6h0M196.4 530.3h0M180.2 539.1h0M154.2 566.2h0M170.9 558.2h0M218.5 515.2h0M177.1 547.3h0M182.3 538.5h0M167.5 561.1h0M184.5 546.4h0M182.7 538.7h0M188.1 539.4h0M190.4 536.6h0M179.9 544.9h0M184.7 548.4h0M193.0 537.4h0M195.4 527.8h0M190.7 539.5h0M224.9 509.9h0M195.6 532.4h0M194.5 532.8h0M173.1 538.1h0M213.8 523.4h0M173.8 552.3h0M157.2 555.1h0M174.9 551.9h0M202.8 525.6h0M176.4 559.8h0M213.2 512.9h0M189.6 534.0h0M162.7 557.7h0M189.1 541.0h0M223.9 507.3h0M177.3 550.5h0M166.3 554.3h0M202.0 528.7h0M213.9 513.4h0M215.2 525.4h0M187.7 543.1h0M204.8 543.8h0M199.0 532.1h0M211.6 515.5h0M232.4 503.8h0M183.5 530.1h0M219.2 519.8h0M187.5 543.3h0M206.2 530.7h0M177.3 553.2h0M180.3 550.4h0M204.7 535.4h0M179.4 554.3h0M202.5 515.6h0M183.5 546.3h0M191.3 532.3h0M195.0 542.5h0M187.0 542.4h0M193.4 532.8h0M212.7 520.3h0M250.5 489.6h0M171.7 556.1h0M198.0 531.9h0M186.9 536.6h0M172.4 546.9h0M201.9 536.9h0M183.1 557.8h0M191.8 538.6h0M215.1 517.2h0M153.9 566.0h0M193.9 529.1h0M202.8 532.0h0M169.0 544.5h0M201.4 527.6h0M204.5 537.4h0M183.4 538.9h0M213.8 516.7h0M168.1 556.3h0M209.2 532.2h0M189.4 541.5h0M173.1 552.8h0M189.9 540.1h0M184.2 539.8h0M203.7 519.4h0M160.9 554.9h0M185.3 535.4h0M184.9 544.4h0M215.9 505.9h0M171.6 553.4h0M209.2 517.1h0M161.6 565.3h0M203.2 536.3h0M197.1 546.9h0M198.9 530.2h0M181.9 550.3h0M157.3 567.6h0M161.8 558.0h0M221.0 521.6h0M201.8 539.7h0M176.1 549.6h0M207.7 521.4h0M179.8 549.6h0M180.7 550.4h0M175.4 561.6h0M214.0 518.7h0M230.3 508.7h0M173.6 550.6h0M194.7 529.1h0M211.8 523.5h0M229.4 502.2h0M148.4 574.1h0M192.8 532.3h0M199.3 521.5h0M163.5 558.0h0M197.5 528.1h0M193.4 531.2h0M206.7 527.2h0M181.8 546.3h0M198.8 529.3h0M177.5 542.2h0M199.3 523.0h0M188.2 526.6h0M188.8 546.9h0M166.7 559.5h0M227.4 517.3h0M214.0 521.5h0M213.2 529.1h0M176.6 543.5h0M183.6 540.0h0M225.8 514.6h0M204.7 524.2h0M174.6 547.9h0M187.8 530.2h0M192.3 531.9h0M188.3 539.8h0M175.5 552.3h0M213.1 515.1h0M202.0 526.7h0M190.2 541.8h0M167.6 566.1h0M178.5 542.5h0M194.5 539.6h0M208.9 524.3h0M183.2 540.0h0M212.6 519.7h0M191.5 530.8h0M182.4 552.6h0M139.5 578.2h0M175.3 560.1h0M170.1 565.7h0M192.9 543.0h0M198.2 531.2h0M219.8 517.4h0M196.5 541.9h0M167.9 550.9h0M238.1 503.2h0M198.6 532.3h0M187.0 540.1h0M189.3 542.6h0M167.0 556.8h0M202.2 524.6h0M199.7 531.2h0M218.2 508.1h0M214.4 521.5h0M211.7 526.8h0M214.9 516.2h0M190.5 544.6h0M183.5 542.4h0M192.2 537.8h0M171.6 557.9h0M188.4 536.9h0M185.2 539.9h0M214.0 536.5h0M193.6 538.0h0M157.9 566.2h0M191.9 534.4h0M220.2 516.2h0M163.2 569.5h0M178.8 548.1h0M191.2 533.9h0M175.2 564.7h0M187.6 550.5h0M195.8 537.7h0M177.0 566.4h0M200.2 533.9h0M197.9 527.1h0M173.3 560.2h0M193.1 535.5h0M215.4 522.5h0M188.6 537.7h0M199.0 527.2h0M200.8 521.6h0M188.7 539.8h0M207.7 517.1h0M198.9 528.8h0M176.7 553.6h0M198.1 522.9h0M210.7 524.8h0M207.3 523.0h0M174.1 537.7h0M199.0 525.9h0M220.7 517.5h0M196.6 531.5h0M216.5 519.5h0M217.4 516.2h0M197.4 542.0h0M204.7 525.0h0M192.9 546.2h0M211.7 518.0h0M190.7 536.2h0M180.9 541.7h0M186.2 528.6h0M197.3 543.1h0M204.1 534.3h0M205.0 532.2h0M174.2 556.4h0M179.0 543.2h0M201.1 531.5h0M204.1 530.5h0M198.6 538.6h0M243.2 496.7h0M215.3 519.9h0M192.6 537.5h0M211.3 529.5h0M218.2 515.1h0M198.6 528.1h0M161.1 562.1h0M199.4 538.7h0M192.2 532.1h0M230.0 499.3h0M159.7 563.6h0M225.7 515.7h0M195.6 543.4h0M210.7 520.9h0M191.8 543.9h0M201.3 537.6h0M211.8 514.6h0M192.8 531.0h0M211.2 516.7h0M188.6 532.2h0M183.9 538.8h0M193.7 543.1h0M181.5 539.4h0M191.6 537.0h0M217.5 512.5h0M168.1 548.4h0M162.7 560.0h0M189.0 530.2h0M224.5 508.7h0M214.4 520.3h0M220.4 517.1h0M217.3 516.2h0M186.2 552.8h0M196.6 533.7h0M146.5 577.7h0M184.9 546.8h0M212.2 533.7h0M172.8 567.5h0M154.9 565.3h0M173.8 559.1h0M194.1 527.0h0M217.8 519.4h0M240.2 493.2h0M224.8 517.8h0M169.0 561.3h0M153.2 572.5h0M195.5 530.7h0M208.6 512.4h0M162.4 557.1h0M189.7 548.4h0M186.5 542.1h0M195.9 535.0h0M193.5 540.0h0M202.4 524.7h0M209.2 512.6h0M197.6 535.3h0M205.1 519.0h0M226.8 498.4h0M179.8 554.6h0M170.6 544.9h0M199.1 520.7h0M227.7 504.4h0M192.9 525.9h0M214.2 516.5h0M186.1 535.3h0M209.8 517.8h0M186.6 547.4h0M206.7 522.9h0M203.0 528.8h0M204.0 530.0h0M223.9 516.8h0M217.2 520.3h0M188.4 548.1h0M208.0 516.3h0M170.8 568.0h0M213.3 518.4h0M247.3 493.1h0M209.2 530.2h0M202.7 523.5h0M199.4 535.9h0M207.2 516.6h0M188.3 541.7h0M207.1 522.2h0M191.5 538.6h0M186.3 538.2h0M195.4 528.5h0M196.4 536.3h0M164.7 561.1h0M228.3 494.8h0M200.5 533.5h0M159.9 554.0h0M216.9 518.1h0M197.4 536.1h0M205.1 536.4h0M211.7 525.5h0M185.4 553.9h0M144.7 582.0h0M192.3 532.8h0M200.8 530.1h0M216.3 520.0h0M185.7 549.2h0M193.5 540.3h0M208.0 532.5h0M194.4 543.1h0M185.7 530.7h0M200.1 528.8h0M181.0 552.6h0M222.9 506.3h0M174.9 542.9h0M198.9 535.4h0M190.6 539.2h0M187.3 549.3h0M210.8 530.9h0M210.3 512.9h0M212.0 498.6h0M209.0 527.1h0M193.1 546.5h0M207.4 515.1h0M166.8 552.7h0M195.6 531.3h0M201.1 520.3h0M207.4 526.1h0M174.4 550.9h0M166.5 554.6h0M227.1 508.8h0M185.3 540.2h0M166.9 560.6h0M172.1 551.8h0M195.7 533.1h0M223.4 522.4h0M195.6 533.7h0M222.0 520.2h0M202.6 533.5h0M209.5 532.5h0M211.1 515.7h0M189.9 541.2h0M202.3 530.8h0M184.8 535.8h0M181.9 541.7h0M208.2 524.6h0M187.2 554.5h0M195.0 530.6h0M182.1 547.7h0M195.0 537.0h0M183.7 540.0h0M217.2 519.4h0M197.1 533.4h0M194.1 530.0h0M223.5 506.5h0M144.8 582.3h0M170.5 547.0h0M142.0 573.7h0M189.1 528.1h0M203.2 528.0h0M206.0 523.8h0M196.6 526.8h0M177.8 547.0h0M226.2 506.7h0M200.7 530.4h0M191.0 540.1h0M176.5 554.9h0M204.4 530.6h0M184.6 541.3h0M187.5 543.2h0M202.8 536.8h0M198.4 531.4h0M174.6 542.1h0M213.1 510.5h0M182.6 558.0h0M176.9 555.7h0M197.7 527.5h0M196.6 532.9h0M195.5 533.8h0M187.4 542.1h0M195.0 534.3h0M187.3 547.7h0M160.9 557.0h0M210.9 527.4h0M176.5 551.7h0M185.5 533.4h0M204.3 519.9h0M194.8 534.9h0M244.0 492.1h0M170.8 559.4h0M182.3 548.9h0M196.6 534.8h0M214.7 509.2h0M191.1 540.8h0M166.6 555.9h0M213.6 515.8h0M176.3 548.4h0M191.5 539.5h0M207.9 518.9h0M181.6 545.3h0M185.7 542.1h0M204.4 529.4h0M197.1 546.2h0M197.1 528.3h0M174.7 547.6h0M193.5 539.1h0M174.9 553.2h0M165.0 558.9h0M228.9 511.2h0M200.1 525.8h0M208.5 518.5h0M173.9 547.7h0M190.7 532.6h0M196.1 545.4h0M166.7 556.0h0M205.2 528.4h0M177.5 542.9h0M187.1 534.9h0M164.0 556.5h0M212.2 520.1h0M199.1 513.6h0M201.2 529.5h0M180.7 553.5h0M181.2 540.5h0M220.5 521.3h0M183.1 533.0h0M195.7 527.7h0M192.4 528.5h0M170.5 549.4h0M220.3 510.0h0M162.0 571.3h0M199.8 534.0h0M190.6 534.8h0M165.2 561.6h0M198.8 528.9h0M205.4 529.6h0M197.3 537.4h0M178.0 547.4h0M199.8 525.7h0M214.1 517.8h0M200.9 535.4h0M230.2 514.1h0M203.3 514.8h0M211.4 527.3h0M221.8 516.6h0M184.2 548.4h0M181.8 540.5h0M205.6 530.0h0M201.7 525.3h0M220.4 510.6h0M218.2 521.4h0M196.7 532.1h0M201.7 536.3h0M189.5 540.3h0M185.2 538.5h0M186.6 543.3h0M213.3 524.3h0M186.9 544.2h0M188.3 541.6h0M196.0 531.6h0M191.9 551.5h0M195.7 545.4h0M153.2 567.9h0M201.4 529.8h0M188.8 540.0h0M197.2 531.4h0M201.6 529.9h0M162.3 565.9h0M237.8 496.9h0M195.6 530.1h0M197.1 530.8h0M162.7 562.7h0M209.7 528.4h0M202.2 527.1h0M192.6 544.0h0M202.3 532.6h0M218.7 513.2h0M189.7 538.7h0M176.5 544.1h0M217.8 509.6h0M199.8 527.6h0M194.3 537.4h0M238.3 497.2h0M200.3 531.7h0M188.2 530.0h0M200.1 527.5h0M191.4 541.9h0M203.1 532.9h0M195.6 526.6h0M187.4 546.7h0M190.8 536.2h0M201.6 527.9h0M200.2 523.7h0M209.7 527.3h0M209.3 519.5h0M200.3 528.9h0M203.3 522.6h0M185.3 534.8h0M191.4 537.3h0M215.8 518.0h0M157.8 561.7h0M207.2 532.8h0M252.8 483.3h0M165.5 566.4h0M226.9 514.4h0M168.9 567.1h0M207.4 534.1h0M222.6 505.6h0M219.9 507.7h0M178.8 548.2h0M168.7 551.2h0M169.2 556.9h0M209.8 524.9h0M191.4 544.5h0M192.9 531.8h0M197.3 527.7h0M198.6 523.8h0M207.1 529.1h0M198.0 533.8h0M169.9 564.8h0M217.7 507.9h0M142.9 575.6h0M215.6 513.6h0M183.9 544.4h0M191.6 538.5h0M186.4 544.4h0M184.7 536.9h0M196.2 537.5h0M186.9 536.2h0M173.9 551.2h0M213.1 525.1h0M188.5 549.1h0M221.3 516.5h0M192.0 537.5h0M185.8 550.6h0M200.6 525.9h0M207.2 517.0h0M176.2 547.6h0M194.6 545.4h0M227.6 520.7h0M173.9 547.6h0M174.7 543.1h0M198.8 533.7h0M171.0 552.3h0M150.8 574.7h0M166.3 563.5h0M198.3 525.6h0M208.1 526.6h0M202.7 522.7h0M196.4 522.8h0M172.6 554.8h0M201.1 517.7h0M219.5 521.4h0M179.2 542.7h0M211.6 520.1h0M180.1 531.7h0M197.9 531.8h0M203.7 532.0h0M162.7 552.6h0M225.9 517.3h0M177.8 546.9h0M195.1 539.2h0M181.5 537.8h0M203.3 528.1h0M199.8 525.1h0M195.1 534.7h0M223.6 516.5h0M206.4 538.1h0M181.9 534.9h0M141.8 579.4h0M193.1 543.4h0M190.4 540.6h0M175.9 545.1h0M183.7 553.7h0M198.5 517.6h0M214.4 519.3h0M230.1 506.4h0M211.4 512.4h0M181.2 545.3h0M202.4 534.4h0M167.2 553.2h0M206.5 521.8h0M197.7 525.3h0M186.5 547.8h0M196.2 540.6h0M188.2 536.7h0M184.5 546.5h0M225.2 521.8h0M252.7 488.1h0M207.7 519.7h0M216.1 520.8h0M193.7 527.9h0M189.9 542.2h0M234.8 500.7h0M193.1 546.4h0M204.4 531.5h0M193.2 537.5h0M203.7 523.6h0M193.3 535.1h0M202.2 521.8h0M178.5 562.6h0M192.8 536.5h0M220.0 513.9h0M179.2 554.9h0M182.8 545.6h0M221.9 516.0h0M200.8 527.1h0M215.2 519.4h0M152.7 568.4h0M200.2 535.9h0M167.7 550.6h0M168.3 555.5h0M196.7 522.2h0M216.6 516.8h0M169.1 560.3h0M174.2 552.0h0M185.6 545.9h0M195.6 540.7h0M170.5 555.9h0M235.9 499.6h0M207.3 528.1h0M189.3 542.1h0M188.2 546.7h0M236.4 497.9h0M239.5 504.5h0M180.5 536.8h0M200.8 529.5h0M214.6 511.8h0M176.8 558.1h0M182.8 543.2h0M219.5 514.3h0M178.9 542.6h0M184.0 538.9h0M175.1 562.3h0M177.1 543.1h0M211.6 529.7h0M175.4 543.5h0M170.9 556.1h0M186.7 549.4h0M224.4 504.7h0M197.5 532.3h0M187.2 547.7h0M199.4 535.5h0M200.9 526.6h0M200.8 538.3h0M164.1 567.0h0M194.0 524.0h0M192.7 541.5h0M208.5 520.7h0M168.2 555.2h0M210.3 515.4h0M182.4 540.2h0M170.9 571.5h0M219.9 516.1h0M181.1 539.4h0M203.4 532.4h0M185.5 531.6h0M213.2 517.3h0M218.0 522.4h0M212.6 515.9h0M201.1 517.3h0M166.7 563.6h0M161.6 560.2h0M200.4 535.6h0M178.4 552.8h0M202.1 527.8h0M195.4 531.1h0M167.1 556.8h0M174.4 551.3h0M165.8 545.0h0M181.1 553.6h0M195.9 545.6h0M204.6 522.8h0M217.8 513.7h0M180.7 556.2h0M178.3 538.4h0M224.5 513.5h0M214.6 526.5h0M196.9 530.4h0M149.0 570.6h0M168.2 543.2h0M201.6 538.6h0M187.1 549.6h0M231.1 505.0h0M196.9 535.8h0M199.3 531.4h0M176.0 555.7h0M179.7 557.8h0M183.1 547.8h0M180.3 543.1h0M187.2 536.6h0M202.8 532.1h0M196.6 530.0h0M210.9 518.3h0M170.7 558.9h0M198.8 533.6h0M198.1 531.7h0M214.2 500.4h0M189.4 538.5h0M202.6 533.7h0M179.5 549.2h0M203.4 530.9h0M197.6 525.3h0M189.1 553.4h0M189.3 546.6h0M190.7 533.2h0M203.2 524.9h0M172.8 553.8h0M207.8 519.0h0M191.9 545.7h0M227.5 504.1h0M224.2 516.5h0M190.5 546.7h0M180.9 543.8h0M241.4 499.4h0M206.5 526.9h0M202.3 524.4h0M189.4 546.1h0M189.6 535.5h0M201.6 514.8h0M205.8 526.5h0M175.7 545.4h0M214.3 513.1h0M203.5 535.3h0M180.7 555.7h0M212.1 519.8h0M197.3 546.1h0M208.1 523.0h0M183.0 543.5h0M199.1 528.2h0M162.8 559.8h0M196.6 524.9h0M167.1 561.0h0M192.7 528.2h0M145.8 574.0h0M191.1 534.7h0M207.6 524.6h0M199.8 524.4h0M218.1 519.3h0M172.0 550.0h0M219.1 506.6h0M225.3 512.5h0M174.9 558.1h0M181.7 550.9h0M183.5 544.8h0M192.3 534.6h0M194.5 529.5h0M142.8 568.0h0M199.6 520.3h0M188.3 538.7h0M176.4 553.2h0M215.0 524.8h0M185.0 538.1h0M213.0 515.7h0M204.5 528.1h0M188.5 541.3h0M215.6 517.4h0M216.6 532.1h0M184.8 543.8h0M163.4 560.0h0M184.2 544.7h0M208.4 529.6h0M189.3 539.2h0M224.6 505.9h0M193.0 525.0h0M194.1 528.7h0M199.3 527.1h0M177.9 549.8h0M195.8 542.4h0M183.2 547.8h0M155.2 577.8h0M161.7 564.2h0M204.0 520.1h0M182.4 538.9h0M188.8 534.3h0M166.8 559.0h0M180.0 541.4h0M209.0 524.2h0M201.7 541.1h0M183.9 543.4h0M221.6 511.2h0M198.1 542.8h0M189.1 543.1h0M222.3 526.2h0M163.6 564.9h0M200.1 522.5h0M175.5 555.6h0M175.3 543.4h0M180.6 545.7h0M198.5 536.2h0M201.3 540.3h0M197.0 528.1h0M195.5 529.9h0M224.0 518.7h0M226.0 510.3h0M203.3 520.4h0M210.0 526.3h0M185.7 540.2h0M179.8 560.1h0M207.5 529.6h0M192.2 532.4h0M213.2 526.3h0M165.0 569.8h0M247.1 498.1h0M171.8 557.1h0M199.4 540.7h0M212.3 520.3h0M166.8 555.6h0M179.0 538.9h0M158.2 569.1h0M162.7 552.5h0M156.7 564.3h0M196.4 534.7h0M197.6 529.1h0M183.3 535.2h0M212.3 510.2h0M216.8 510.8h0M194.0 536.0h0M187.2 536.1h0M188.2 539.2h0M185.1 542.2h0M216.9 513.9h0M254.4 478.6h0M143.2 583.3h0M184.4 544.0h0M147.6 580.1h0M213.2 504.4h0M230.0 504.7h0M249.1 508.0h0M179.1 559.4h0M179.2 527.9h0M209.7 507.7h0M189.4 529.5h0M203.5 537.3h0M191.6 530.9h0M191.4 524.8h0M182.4 544.4h0M199.7 521.4h0M124.4 581.6h0M164.9 547.7h0M133.8 582.1h0M181.2 540.8h0M167.2 574.4h0M209.8 525.5h0M230.3 493.3h0M129.4 570.1h0M156.5 565.7h0M193.2 522.4h0M242.4 493.2h0M223.1 522.4h0M201.7 523.3h0M182.4 539.7h0M176.2 562.2h0M207.6 534.5h0M206.3 524.1h0M196.8 539.4h0M162.1 556.8h0M134.7 604.1h0M149.9 563.4h0M177.0 558.0h0M140.9 577.1h0M209.6 541.6h0M127.2 581.6h0M174.5 549.8h0M187.5 514.3h0M228.8 526.1h0M208.1 546.3h0M228.9 495.9h0M159.1 554.4h0M169.0 579.7h0M225.6 501.2h0M148.0 563.6h0M172.6 536.2h0M120.4 597.6h0M239.8 515.1h0M226.8 531.4h0M145.5 551.0h0M118.1 596.1h0M190.8 525.7h0M199.7 534.5h0M233.2 504.2h0M259.2 481.3h0M202.1 540.2h0M180.8 550.5h0M185.2 557.1h0M178.4 554.2h0M128.1 578.6h0M152.9 570.8h0M188.1 549.1h0M113.7 583.3h0M128.9 575.4h0M233.3 500.6h0M172.4 576.1h0M209.5 505.4h0M220.7 495.5h0M191.2 545.2h0M209.8 503.5h0M185.5 553.2h0M155.6 572.1h0M185.9 548.2h0M188.7 537.6h0M192.7 538.2h0M181.0 528.5h0M174.4 556.8h0M224.9 502.9h0M179.4 547.4h0M170.0 553.1h0M227.8 516.4h0M149.6 574.4h0M178.5 531.2h0M238.2 486.4h0M197.2 547.4h0M244.0 497.0h0M184.1 556.7h0M172.7 563.0h0M185.5 550.9h0M174.0 568.2h0M171.2 549.3h0M165.3 548.8h0M217.1 513.3h0M205.8 531.1h0M178.8 546.5h0M164.1 571.0h0M302.9 427.5h0M165.5 530.5h0M257.7 513.8h0M140.7 576.8h0M159.4 564.7h0M233.1 498.9h0M147.9 578.9h0M156.7 586.8h0M186.2 543.1h0M162.7 567.7h0M177.6 551.4h0M193.9 536.0h0M223.9 515.7h0M180.4 518.2h0M206.8 540.0h0M240.5 499.9h0M249.5 503.3h0M175.5 553.5h0M107.9 590.6h0M149.9 574.2h0M233.7 511.4h0M178.1 566.0h0M157.7 560.1h0M175.3 560.7h0M244.3 483.7h0M194.5 543.8h0M177.0 556.9h0M161.8 564.1h0M156.6 588.6h0M287.4 439.1h0M193.7 550.2h0M192.8 534.6h0M173.2 547.9h0M213.7 488.5h0M146.9 570.4h0M110.0 597.8h0M169.4 563.3h0M201.7 530.6h0M273.8 466.1h0M178.5 535.4h0M161.6 576.1h0M176.9 545.2h0M140.6 545.8h0M164.3 573.4h0M203.0 550.8h0M202.5 534.6h0M163.9 563.3h0M219.3 492.3h0M182.1 539.5h0M185.3 528.5h0M173.0 562.6h0M202.3 528.6h0M201.8 524.8h0M218.6 524.7h0M155.4 565.3h0M213.9 521.6h0M165.1 557.5h0M200.6 547.2h0M229.2 530.4h0M237.1 480.5h0M170.9 554.8h0M146.7 577.5h0M177.4 517.0h0M228.3 492.5h0M172.9 547.8h0M284.6 464.7h0M114.3 599.6h0M243.8 488.7h0M234.1 503.3h0M221.5 493.0h0M151.9 562.0h0M236.2 491.0h0M237.7 507.2h0M240.0 503.6h0M172.7 539.3h0M177.5 546.2h0M240.9 501.0h0M199.4 526.0h0M174.3 551.5h0M159.2 570.4h0M199.3 532.3h0M131.9 579.1h0M208.0 518.3h0M199.5 540.8h0M133.8 596.3h0M203.6 522.7h0M240.4 507.5h0M196.8 530.6h0M138.4 584.6h0M173.2 569.2h0M234.9 529.4h0M144.0 588.8h0M174.0 552.4h0M231.7 502.2h0M169.5 540.4h0M166.0 559.2h0M219.2 513.9h0M247.1 484.2h0M206.0 530.1h0M126.9 571.6h0M130.5 597.5h0M183.9 554.6h0M122.6 603.4h0M177.4 534.3h0M226.2 514.2h0M91.9 633.5h0M177.7 541.9h0M193.1 521.1h0M170.2 561.1h0M198.7 522.3h0M211.3 528.5h0M219.4 495.6h0M297.6 458.7h0M202.1 531.7h0M156.6 573.1h0M154.9 580.9h0M141.6 581.8h0M211.0 512.1h0M206.3 535.1h0M194.0 511.4h0M194.2 532.1h0M246.8 485.2h0M234.6 509.8h0M227.1 507.4h0M156.8 556.6h0M182.1 558.3h0M142.9 588.6h0M168.6 568.0h0M199.7 547.0h0M137.7 576.5h0M168.9 567.4h0M254.8 461.9h0M189.0 555.6h0M133.2 592.7h0M140.4 581.5h0M191.1 550.6h0M233.6 528.0h0M188.9 548.2h0M221.4 512.1h0M206.1 537.0h0M144.2 575.5h0M239.1 519.7h0M169.1 553.4h0M246.9 463.2h0M159.8 553.1h0M176.6 538.1h0M169.8 561.1h0M180.7 552.5h0M198.7 517.3h0M183.2 549.1h0M229.4 496.7h0M210.7 533.4h0M246.2 485.3h0M190.0 536.9h0M251.4 513.6h0M235.0 501.4h0M179.5 541.0h0M281.8 452.5h0M243.8 487.6h0M201.4 513.0h0M181.6 547.2h0M190.4 548.3h0M176.6 539.3h0M186.4 515.4h0M147.9 580.0h0M181.6 527.3h0M167.0 561.2h0M261.5 495.6h0M223.7 521.0h0M257.8 490.9h0M272.4 452.8h0M206.6 523.3h0M269.2 477.1h0M202.7 526.4h0M204.4 508.8h0M153.7 571.6h0M196.9 542.1h0M241.5 489.8h0M213.4 529.2h0M171.9 548.4h0M183.4 532.3h0M160.2 562.6h0M166.5 564.9h0M134.0 586.2h0M240.4 513.1h0M221.2 492.2h0M170.5 526.2h0M138.3 583.8h0M193.2 562.3h0M270.0 478.1h0M147.9 593.9h0M181.9 569.7h0M172.4 556.2h0M220.8 514.4h0M145.1 586.1h0M192.5 522.9h0M157.9 566.5h0M182.0 558.4h0M140.7 576.7h0M217.3 531.3h0M172.9 558.4h0M172.2 565.1h0M229.2 501.2h0M204.3 530.0h0M282.8 465.8h0M203.9 523.7h0M189.8 533.3h0M192.8 533.6h0M287.1 440.6h0M243.6 505.7h0M176.4 545.9h0M191.3 516.8h0M170.0 556.3h0M228.7 533.3h0M164.5 548.9h0M169.8 559.2h0M202.4 520.1h0M239.4 492.7h0M218.3 506.7h0M210.4 505.9h0M190.5 537.0h0M93.0 613.4h0M191.4 554.3h0M187.2 552.8h0M210.6 522.7h0M246.3 470.2h0M223.5 520.4h0M125.4 599.6h0M186.1 534.0h0M183.7 551.2h0M224.8 525.2h0M199.3 555.9h0M111.7 597.3h0M161.9 577.8h0M174.8 547.9h0M108.0 603.9h0M190.6 551.2h0M175.3 546.2h0M243.1 520.0h0M185.2 544.8h0M171.6 568.3h0M182.6 542.7h0M188.2 538.2h0M224.6 506.8h0M148.4 567.4h0M106.8 619.6h0M302.7 459.5h0M225.2 524.2h0M183.9 531.9h0M287.4 467.7h0M147.1 580.8h0M156.1 564.2h0M172.7 556.2h0M213.3 531.4h0M184.0 571.0h0M212.3 507.9h0M178.6 556.4h0M248.1 509.2h0M210.1 529.8h0M124.7 595.3h0M199.3 555.9h0M143.8 577.6h0M182.9 545.3h0M185.3 537.6h0M273.7 466.3h0M185.4 555.8h0M136.7 606.2h0M193.4 538.8h0M146.7 583.4h0M248.4 469.2h0M216.9 519.5h0M245.6 485.8h0M172.3 553.9h0M158.9 588.4h0M194.3 526.0h0M138.0 590.3h0M159.9 583.8h0M156.1 563.5h0M174.5 537.2h0M130.2 592.9h0M110.5 612.0h0M246.6 498.2h0M169.6 562.5h0M173.8 539.4h0M210.1 520.9h0M202.0 523.6h0M159.1 559.0h0M189.0 577.2h0M248.7 486.2h0M232.6 495.1h0M215.3 514.6h0M261.2 496.2h0M120.6 609.6h0M189.0 531.7h0M175.0 547.2h0M111.6 601.9h0M208.5 537.7h0M211.5 517.3h0M189.4 521.7h0M118.7 600.9h0M171.8 538.3h0M191.3 527.4h0M174.2 542.7h0M203.6 536.1h0M211.9 528.6h0M247.5 497.9h0M190.6 524.5h0M282.3 443.5h0M203.7 540.6h0M207.9 540.0h0M218.1 513.4h0M178.0 533.4h0M174.8 549.2h0M232.8 494.3h0M103.7 608.3h0M117.3 595.3h0M269.9 471.7h0M214.5 512.1h0M205.8 517.1h0M201.6 530.7h0M189.7 518.7h0M159.4 579.3h0M180.7 552.3h0M155.1 580.4h0M227.1 493.8h0M207.1 510.9h0M203.3 537.3h0M203.9 526.4h0M187.1 547.6h0M153.6 588.2h0M260.1 488.6h0M212.5 515.8h0M179.4 541.6h0M216.8 525.3h0M238.5 497.3h0M229.9 494.5h0M206.5 507.8h0M219.3 509.6h0M185.9 553.2h0M251.5 505.7h0M225.8 507.5h0M228.2 510.1h0M143.3 587.3h0M218.7 523.1h0M218.9 521.3h0M219.5 511.8h0M85.4 621.9h0M122.5 608.3h0M188.7 517.3h0M144.1 561.6h0M205.7 528.8h0M183.8 540.9h0M212.9 500.5h0M173.1 565.5h0M151.7 580.3h0M212.8 527.1h0M184.4 556.8h0M139.0 574.8h0M113.5 608.5h0M309.4 434.3h0M174.1 552.1h0M180.4 550.1h0M103.2 595.8h0M150.0 576.1h0M187.5 552.1h0M209.5 539.5h0M222.6 519.4h0M158.2 564.6h0M205.8 523.4h0M231.0 500.0h0M171.0 561.0h0M182.8 540.1h0M115.5 598.3h0M163.9 576.9h0M132.1 584.6h0M211.5 515.4h0M182.7 548.9h0M242.9 479.5h0M195.1 534.1h0M223.8 519.2h0M202.3 516.8h0M185.1 521.4h0M153.7 585.1h0M252.7 485.5h0M179.2 537.6h0M112.9 598.5h0M159.5 553.0h0M137.2 568.7h0M244.9 513.7h0M224.6 500.4h0M257.7 500.6h0M279.0 473.6h0M169.6 570.4h0M111.8 601.2h0M161.8 584.4h0M203.5 526.2h0M92.2 643.1h0M152.4 547.0h0M224.3 516.0h0M155.1 569.8h0M190.8 553.2h0M156.3 575.7h0M248.2 472.2h0M262.8 472.9h0M155.7 583.5h0M158.3 573.1h0M194.4 537.3h0M204.9 504.4h0M206.3 526.5h0M212.0 514.6h0M221.6 498.5h0M222.5 481.2h0M259.9 470.3h0M204.6 539.9h0M179.1 561.1h0M178.2 528.1h0M276.7 458.7h0M237.0 522.4h0M223.5 516.5h0M248.1 494.5h0M243.1 497.3h0M281.2 451.9h0M157.0 559.5h0M192.4 520.3h0M234.1 524.5h0M223.1 506.7h0M178.9 551.5h0M135.6 599.8h0M176.6 540.3h0M173.6 570.1h0M196.8 550.7h0M225.4 488.1h0M217.1 510.5h0M142.2 570.5h0M154.4 553.6h0M207.5 540.0h0M228.0 488.9h0M188.6 539.1h0M196.9 526.4h0M127.0 583.7h0M168.1 550.1h0M162.4 567.9h0M198.8 531.6h0M179.1 546.5h0M149.5 561.0h0M161.4 591.7h0M189.5 521.7h0M170.1 568.1h0M220.7 485.0h0M192.5 530.8h0M168.0 536.1h0M226.3 510.3h0M131.5 568.0h0M222.3 505.6h0M158.2 561.4h0M214.6 511.9h0M177.7 581.1h0M160.9 583.0h0M126.5 614.7h0M189.7 538.2h0M208.8 525.5h0M128.5 582.1h0M255.6 477.6h0M179.8 532.2h0M148.4 584.1h0M262.6 471.5h0M175.3 558.1h0M252.5 499.4h0M88.8 649.4h0M272.9 468.2h0M201.2 541.0h0M191.1 544.9h0M206.5 536.9h0M149.6 588.2h0M206.5 489.2h0M204.8 525.8h0M208.6 539.6h0M166.8 561.8h0M142.2 580.6h0M211.1 539.5h0M213.2 505.7h0M199.0 543.2h0M176.7 544.3h0M170.3 562.3h0M220.8 522.9h0M224.2 468.8h0M185.6 551.1h0M164.0 581.4h0M287.2 461.7h0M133.3 601.5h0M191.0 524.9h0M181.0 541.9h0M246.4 505.7h0M171.3 533.5h0M124.4 599.6h0M151.7 589.5h0M185.1 530.1h0M182.7 537.7h0M168.3 571.4h0M173.0 568.8h0M127.9 595.7h0M134.3 596.7h0M159.8 559.0h0M159.2 562.9h0M189.8 555.0h0M148.8 589.4h0M250.3 490.5h0M111.4 591.5h0M225.8 516.7h0M205.7 518.5h0M253.9 492.4h0M239.4 491.3h0M140.6 589.9h0M199.6 526.0h0M223.9 521.7h0M230.0 514.5h0M196.6 509.5h0M160.8 553.4h0M247.0 506.2h0M177.0 536.2h0M171.2 558.4h0M187.8 524.5h0M180.3 565.4h0M163.9 563.9h0M196.7 539.6h0M295.9 456.8h0M209.2 538.1h0M180.3 523.6h0M172.0 555.6h0M205.0 530.8h0M154.1 592.2h0M201.2 515.8h0M192.8 523.0h0M194.0 538.5h0M216.6 534.2h0M178.2 542.8h0M215.2 517.8h0M219.5 532.7h0M197.9 506.2h0M185.0 534.8h0M229.9 517.7h0M187.5 552.2h0M234.4 491.1h0M177.6 535.3h0M235.1 492.8h0M196.0 527.7h0M190.6 543.8h0M137.3 558.8h0M215.6 520.7h0M201.8 526.2h0M188.7 535.5h0M206.9 528.1h0M189.6 529.7h0M144.0 559.4h0M157.9 595.5h0M215.1 520.0h0M188.4 524.5h0M239.3 478.2h0M270.2 475.3h0M217.1 506.9h0M212.9 516.7h0M210.3 519.5h0M197.4 540.7h0M158.3 553.8h0M80.0 619.3h0M208.8 502.2h0M210.4 517.8h0M189.8 537.4h0M187.2 526.9h0M205.9 482.7h0M226.3 510.3h0M197.3 533.6h0M168.5 535.0h0M219.7 527.4h0M236.2 530.9h0M268.5 457.9h0M145.2 559.8h0M200.1 513.0h0M148.8 561.7h0M164.7 546.7h0M284.4 465.4h0M166.5 545.7h0M190.6 550.8h0M176.7 570.2h0M224.0 512.0h0M181.0 562.9h0M131.6 603.5h0M198.7 539.4h0M223.8 514.7h0M187.2 539.3h0M201.6 541.7h0M165.8 567.5h0M153.6 572.4h0M188.2 538.4h0M142.0 574.6h0M166.9 549.1h0M149.0 571.6h0M176.8 544.6h0M215.3 508.3h0M187.4 541.3h0M231.4 500.5h0M208.5 534.4h0M182.0 542.9h0M147.1 563.6h0M196.5 541.6h0M135.0 569.9h0M220.9 518.5h0M129.4 577.9h0M123.7 575.1h0M153.6 567.6h0M125.7 599.7h0M189.4 533.7h0M160.6 569.5h0M175.9 562.7h0M205.4 512.2h0M114.4 629.0h0M172.7 542.4h0M206.7 534.3h0M221.6 499.5h0M196.3 539.9h0M150.4 550.0h0M227.3 512.8h0M238.1 525.8h0M255.3 444.8h0M271.2 467.9h0M180.8 548.5h0M241.2 494.5h0M198.2 535.9h0M146.7 572.8h0M220.2 522.4h0M225.0 480.7h0M101.4 624.9h0M235.6 491.1h0M147.4 558.8h0M251.8 488.1h0M191.7 526.3h0M197.3 539.5h0M248.5 500.8h0M180.2 557.7h0M262.3 462.3h0M144.1 565.4h0M170.5 567.6h0M139.4 570.0h0M214.6 529.2h0M184.0 541.9h0M214.4 508.9h0M243.3 519.0h0M214.7 509.7h0M231.5 506.9h0M239.3 515.1h0M180.0 539.1h0M157.1 564.0h0M147.2 571.8h0M218.1 518.2h0M171.0 564.3h0M158.0 583.8h0M156.1 571.6h0M185.3 556.7h0M198.8 537.3h0M174.6 547.5h0M142.0 570.8h0M205.1 520.8h0M98.5 615.2h0M175.7 555.2h0M220.6 500.6h0M189.1 525.1h0M235.3 506.2h0M192.9 542.4h0M214.6 530.4h0M189.5 543.6h0M172.0 560.6h0M188.0 516.1h0M214.7 500.5h0M117.9 619.3h0M149.1 565.0h0M105.7 615.7h0M159.9 587.7h0M133.7 585.1h0M170.5 565.0h0M171.2 551.8h0M218.2 508.2h0M236.2 507.5h0M143.8 560.5h0M164.2 560.0h0M213.2 529.2h0M169.6 578.0h0M154.4 542.0h0M117.5 612.6h0M211.8 519.6h0M192.3 533.7h0M141.2 570.4h0M141.4 598.9h0M158.3 598.1h0M200.2 529.2h0M174.7 571.8h0M138.6 587.7h0M158.4 540.7h0M221.0 520.2h0M228.2 497.7h0M243.1 507.6h0M170.6 518.3h0M197.2 538.1h0M193.8 531.2h0M211.7 522.5h0M211.8 528.4h0M141.4 568.2h0M158.4 570.0h0M176.3 563.3h0M216.0 523.9h0M167.7 563.0h0M155.3 568.7h0M224.0 508.5h0M246.9 500.8h0M153.9 577.8h0M167.2 533.3h0M231.7 507.0h0M161.7 547.3h0M223.9 516.2h0M128.9 588.6h0M181.3 555.7h0M223.6 536.3h0M248.3 496.7h0M216.9 505.7h0M115.4 588.9h0M119.9 587.5h0M155.9 577.1h0M219.8 518.7h0M221.1 528.1h0M225.9 505.8h0M207.2 515.1h0M162.3 561.7h0M176.0 562.3h0M149.0 571.1h0M217.2 515.7h0M134.2 582.9h0M189.3 543.5h0M193.9 534.5h0M237.7 508.3h0M161.6 575.9h0M217.1 549.3h0M145.8 576.1h0M224.1 508.7h0M177.8 563.3h0M164.0 543.2h0M141.3 567.1h0M151.3 551.9h0M161.4 566.6h0M163.7 566.3h0M228.0 502.9h0M141.6 570.2h0M185.3 524.8h0M223.7 523.0h0M143.0 583.0h0M115.7 630.6h0M205.2 530.1h0M116.2 592.4h0M151.2 564.8h0M166.7 529.9h0M191.6 529.7h0M177.8 555.9h0M163.2 572.8h0M221.9 508.7h0M183.5 524.3h0M267.2 488.8h0M156.9 580.9h0M181.4 546.2h0M185.9 547.7h0M200.5 519.2h0M197.3 539.4h0M186.1 542.6h0M260.7 478.5h0M178.0 547.4h0M193.7 519.0h0M201.0 546.8h0M173.2 576.6h0M223.6 529.8h0M116.0 607.9h0M228.7 504.7h0M122.6 591.5h0M171.6 551.8h0M188.6 539.3h0M178.1 573.0h0M169.8 565.8h0M228.8 500.6h0M285.1 473.0h0M228.7 512.4h0M194.6 541.4h0M158.5 560.9h0M161.8 575.6h0M242.6 515.5h0M222.3 516.5h0M238.0 501.8h0M218.8 504.1h0M240.3 503.9h0M164.2 565.3h0M158.8 573.6h0M149.9 580.9h0M171.4 529.4h0M194.4 568.6h0M186.1 535.7h0M144.6 589.5h0M191.7 537.4h0M226.2 528.2h0M187.3 539.7h0M87.6 639.2h0M181.1 540.4h0M163.2 545.7h0M228.5 522.4h0M189.6 560.8h0M202.4 514.4h0M158.4 542.3h0M198.0 532.8h0M235.8 526.6h0M185.1 564.2h0M191.2 526.5h0M180.5 525.5h0M209.7 524.4h0M189.5 557.6h0M196.3 519.5h0M124.4 614.3h0M181.0 556.4h0M221.0 521.0h0M215.1 526.3h0M145.3 571.7h0M161.2 577.3h0M199.6 529.6h0M192.2 524.0h0M196.2 520.5h0M179.3 531.8h0M191.9 543.0h0M235.7 522.0h0M148.8 573.2h0M131.4 587.9h0M221.9 508.4h0M158.8 571.9h0M208.6 517.8h0M166.2 573.7h0M138.3 574.3h0M232.7 480.0h0M181.8 545.1h0M131.5 589.9h0M172.8 546.5h0M175.1 545.6h0M173.5 546.7h0M190.0 537.0h0M143.1 584.0h0M164.2 542.0h0M209.6 538.0h0M201.2 515.5h0M193.5 547.6h0M151.4 567.1h0M116.2 616.0h0M250.0 507.3h0M149.0 588.6h0M173.9 566.1h0M177.0 534.0h0M205.6 533.9h0M188.4 550.1h0M160.2 578.2h0M183.7 545.7h0M263.6 476.2h0M276.2 457.7h0M181.1 556.4h0M217.1 531.7h0M119.3 602.2h0M187.6 530.8h0M207.4 515.2h0M180.0 561.2h0M257.3 487.8h0M216.3 512.8h0M212.2 528.0h0M95.2 640.2h0M160.9 562.7h0M214.5 523.1h0M164.9 557.9h0M113.4 595.6h0M166.6 566.5h0M250.1 502.1h0M215.9 527.0h0M213.3 509.7h0M192.2 536.7h0M241.7 485.0h0M81.7 638.4h0M135.6 577.7h0M261.2 484.0h0M229.4 513.7h0M194.8 535.7h0M173.4 555.8h0M118.6 604.9h0M169.1 557.3h0M174.3 541.3h0M154.9 578.9h0M248.8 511.0h0M222.1 506.6h0M163.1 539.2h0M213.2 506.2h0M191.6 553.6h0M193.1 531.3h0M160.5 551.2h0M274.0 455.3h0M117.5 579.5h0M174.9 542.0h0M242.5 529.6h0M221.0 505.4h0M129.1 602.4h0M155.7 581.3h0M192.9 559.0h0M163.6 579.0h0M162.7 568.1h0M169.3 543.7h0M172.7 540.2h0M223.4 502.3h0M113.5 590.4h0M228.4 511.4h0M182.6 556.9h0M195.9 510.2h0M169.7 551.4h0M277.1 468.5h0M112.9 597.1h0M235.5 509.6h0M159.1 546.4h0M185.5 560.3h0M243.2 500.3h0M179.5 551.2h0M221.6 514.8h0M249.0 504.4h0M158.1 556.4h0M258.9 471.8h0M233.6 501.0h0M174.2 546.0h0M197.7 538.9h0M153.1 559.3h0M201.1 537.3h0M226.2 521.8h0M225.6 510.9h0M196.2 536.7h0M164.5 557.2h0M157.6 559.0h0M139.4 561.9h0M184.2 561.6h0M219.3 534.4h0M162.5 559.7h0M152.2 555.5h0M139.7 569.9h0M208.6 524.5h0M177.9 552.9h0M126.7 598.0h0M216.9 493.2h0M227.6 509.2h0M184.8 539.5h0M180.5 563.0h0M178.9 537.0h0M151.9 573.9h0M225.7 511.3h0M240.4 499.0h0M225.8 509.6h0M178.0 515.0h0M191.0 530.3h0M202.0 520.1h0M255.4 491.7h0M164.8 578.8h0M198.8 558.6h0M163.6 569.3h0M139.0 581.1h0M197.1 529.8h0M237.9 515.7h0M141.8 572.5h0M226.8 514.0h0M204.2 512.1h0M205.2 528.9h0M237.1 497.3h0M165.6 569.3h0M251.3 494.3h0M172.1 553.9h0M202.8 520.4h0M123.0 587.9h0M227.1 515.5h0M194.7 550.4h0M161.8 557.9h0M138.9 567.0h0M196.5 539.4h0M238.6 501.9h0M208.6 528.2h0M170.7 551.2h0M150.8 560.7h0M152.0 583.7h0M170.5 550.2h0M116.0 584.9h0M167.6 550.6h0M231.7 512.1h0M192.3 555.0h0M179.4 547.4h0M154.3 552.6h0M207.3 513.4h0M200.2 511.5h0M241.3 498.6h0M158.5 565.1h0M148.2 585.1h0M158.8 558.7h0M139.8 584.6h0M188.1 550.1h0M171.1 559.7h0M148.9 567.0h0M177.5 538.2h0M217.9 504.2h0M197.3 502.6h0M156.3 558.1h0M191.8 548.3h0M189.9 524.8h0M215.0 527.2h0M178.5 562.1h0M131.5 580.0h0M201.3 535.8h0M147.9 574.7h0M173.8 558.6h0M175.6 553.0h0M230.1 525.1h0M161.2 551.9h0M183.0 528.7h0M177.9 551.6h0M156.0 551.9h0M212.3 507.8h0M159.5 549.4h0M193.2 516.6h0M202.9 542.2h0M109.5 597.6h0M123.1 597.9h0M60.7 640.7h0M197.2 535.0h0M181.3 519.4h0M154.3 548.0h0M164.7 560.0h0M169.5 550.0h0M159.2 561.7h0M181.3 542.1h0M177.2 537.2h0M156.8 578.8h0M246.9 506.2h0M215.4 501.5h0M166.9 553.5h0M269.0 474.8h0M281.0 467.1h0M240.5 512.6h0M231.3 505.4h0M173.4 574.0h0M171.9 551.8h0M123.3 592.3h0M173.1 561.0h0M215.2 503.3h0M164.6 550.5h0M120.3 596.1h0M249.9 495.4h0M263.1 482.8h0M247.9 499.7h0M139.6 606.7h0M216.2 515.4h0M149.3 564.6h0M189.4 558.1h0M209.3 517.2h0M244.5 494.2h0M160.9 562.4h0M167.6 549.0h0M131.8 577.6h0M189.8 547.4h0M143.8 569.4h0M169.2 562.0h0M230.1 536.2h0M172.2 528.6h0M189.7 538.6h0M198.0 535.9h0M207.4 506.8h0M234.9 494.0h0M144.9 585.1h0M123.3 594.2h0M202.9 523.5h0M213.0 521.4h0M253.0 514.2h0M214.2 515.9h0M256.9 492.7h0M211.5 533.5h0M161.2 563.4h0M210.0 494.3h0M159.3 580.8h0M157.6 563.2h0M210.3 540.1h0M186.0 562.8h0M223.2 514.7h0M165.7 548.5h0M253.0 480.6h0M145.1 574.4h0M204.7 510.8h0M165.0 554.5h0M242.9 500.4h0M169.9 568.6h0M216.6 519.8h0M63.6 644.4h0M159.9 569.3h0M249.9 489.9h0M196.7 540.3h0M194.2 545.6h0M227.1 522.0h0M282.3 468.9h0M133.2 565.9h0M176.3 537.3h0M160.0 547.6h0M212.0 518.4h0M160.1 566.5h0M121.8 588.0h0M130.7 595.3h0M204.1 512.3h0M193.3 534.4h0M213.8 508.3h0M130.3 600.7h0M140.6 558.9h0M164.2 558.7h0M214.2 509.5h0M207.8 533.0h0M184.1 552.9h0M143.7 570.3h0M203.7 547.8h0M160.4 548.9h0M223.7 517.2h0M246.5 477.7h0M194.9 543.0h0M144.1 579.4h0M276.1 463.0h0M204.7 514.6h0M212.1 530.6h0M187.3 534.3h0M191.2 534.2h0M185.2 533.4h0M201.7 539.4h0M129.6 591.4h0M164.1 570.8h0M185.5 547.7h0M185.5 529.3h0M186.6 526.9h0M208.8 534.4h0M118.5 603.2h0M150.4 574.3h0M167.2 570.8h0M194.1 540.4h0M186.1 556.0h0M258.3 472.6h0M178.2 561.3h0M168.6 539.7h0M140.2 607.1h0M252.3 477.7h0M186.0 534.9h0M186.4 550.4h0M172.9 575.4h0M188.9 537.8h0M181.1 562.3h0M226.0 494.0h0M155.5 567.8h0M170.4 556.3h0M165.9 558.7h0M204.5 517.1h0M199.5 531.2h0M220.7 505.5h0M205.1 521.4h0M211.8 526.8h0M182.1 532.1h0M211.3 500.5h0M198.4 517.9h0M198.8 530.0h0M121.9 589.8h0M175.9 564.9h0M166.0 570.5h0M123.5 608.1h0M240.2 503.0h0M236.7 488.2h0M233.3 512.0h0M212.6 527.7h0M252.7 503.8h0M127.6 602.2h0M245.5 512.0h0M104.5 602.5h0M193.8 538.0h0M185.5 531.6h0M197.7 515.5h0M208.6 517.3h0M211.6 516.4h0M159.3 564.4h0M163.7 567.6h0M168.6 585.2h0M190.4 536.7h0M178.0 558.6h0M132.5 601.8h0M226.5 514.9h0M143.5 580.1h0M163.7 553.6h0M164.5 573.9h0M166.0 576.0h0M201.8 515.7h0M156.8 561.3h0M127.1 584.1h0M163.1 566.2h0M156.0 586.4h0M120.0 583.7h0M213.2 503.6h0M233.8 508.8h0M129.2 587.0h0M238.9 483.2h0M240.2 464.5h0M126.3 579.5h0M198.7 524.7h0M177.0 553.2h0M220.5 518.4h0M75.4 639.6h0M213.9 526.7h0M168.4 550.0h0M203.4 525.7h0M221.1 514.9h0M103.0 627.3h0M183.6 543.2h0M188.1 544.8h0M206.5 519.8h0M235.0 511.7h0M210.6 512.6h0M157.7 568.5h0M201.1 505.3h0M162.2 572.6h0M203.1 502.9h0M161.5 527.2h0M179.4 548.3h0M178.4 523.1h0M118.6 586.3h0M181.4 561.2h0M144.2 585.3h0M214.7 504.2h0M232.0 497.9h0M125.7 583.2h0M98.2 612.6h0M185.8 523.5h0M165.6 562.3h0M157.0 580.0h0M276.3 471.4h0M170.2 555.7h0M152.4 582.1h0M175.4 551.2h0M197.9 533.9h0M247.2 492.3h0M197.6 532.0h0M140.8 585.8h0M161.1 550.9h0M254.8 480.6h0M115.2 593.6h0M192.9 553.7h0M230.2 502.9h0M198.9 536.4h0M189.8 562.8h0M139.7 556.4h0M200.1 545.9h0M200.6 518.7h0M189.7 529.1h0M217.5 499.8h0M196.4 538.1h0M250.7 517.4h0M187.5 532.5h0M221.1 512.4h0M169.7 547.6h0M253.0 485.4h0M225.6 491.0h0M209.1 515.0h0M150.9 576.5h0M178.4 518.0h0M78.7 642.3h0M186.0 568.9h0M191.6 535.1h0M150.4 566.4h0M188.7 532.0h0M214.7 523.3h0M254.8 481.9h0M192.1 546.7h0M129.5 595.7h0M93.3 613.7h0M183.3 550.3h0M215.9 506.4h0M230.3 506.0h0M189.6 537.3h0M163.4 565.2h0M152.6 556.1h0M180.4 544.9h0M194.8 543.7h0M208.3 520.5h0M183.7 528.7h0M260.8 473.2h0M199.0 543.4h0M209.9 530.2h0M232.6 514.0h0M214.1 500.2h0M161.1 561.0h0M120.0 588.1h0M132.4 578.0h0M202.8 531.2h0M202.4 513.7h0M200.6 530.5h0M214.8 512.7h0M248.5 512.8h0M158.5 567.0h0M286.4 459.9h0M292.6 459.0h0M214.8 514.5h0M188.6 555.8h0M198.7 534.6h0M150.0 605.5h0M189.8 541.8h0M161.0 572.9h0M173.1 531.9h0M174.3 550.3h0M262.0 469.0h0M173.2 590.3h0M202.1 534.1h0M179.5 562.8h0M239.5 479.6h0M221.9 499.3h0M129.2 590.5h0M149.4 572.3h0M197.6 531.3h0M164.6 561.9h0M200.7 521.8h0M187.1 534.3h0M147.8 577.8h0M180.9 556.2h0M195.8 514.0h0M187.7 546.6h0M197.5 541.8h0M187.4 512.3h0M182.5 544.3h0M239.7 497.8h0M148.2 592.4h0M211.9 533.0h0M159.5 548.3h0M204.9 530.0h0M212.4 504.9h0M218.4 527.6h0M208.0 512.7h0M215.4 514.6h0M210.2 526.1h0M189.7 560.9h0M206.8 506.9h0M223.4 507.5h0M220.3 512.2h0M192.4 524.9h0M204.2 538.4h0M103.2 595.7h0M151.2 561.6h0M176.0 543.0h0M221.2 503.2h0M236.4 505.8h0M193.4 536.9h0M141.6 574.3h0M208.5 528.1h0M215.8 498.3h0M210.6 509.4h0M151.7 553.5h0M155.3 586.7h0M143.1 559.1h0M149.0 579.4h0M229.4 513.1h0M200.3 532.4h0M259.7 459.3h0M246.3 483.0h0M222.5 504.4h0M154.4 555.6h0M205.0 511.0h0M196.6 517.5h0M127.6 580.1h0M136.6 580.2h0M155.5 561.2h0M242.8 508.9h0M172.7 554.7h0M147.8 602.0h0M190.4 538.6h0M208.8 520.2h0M145.3 586.2h0M262.3 481.6h0M151.6 558.0h0M228.8 508.6h0M212.4 518.3h0M146.9 551.6h0M180.0 542.6h0M181.4 533.9h0M170.1 549.7h0M211.5 512.2h0M181.6 531.2h0M122.0 600.0h0M185.3 532.9h0M145.8 582.6h0M180.1 552.0h0M191.4 529.3h0M186.0 549.5h0M241.3 526.4h0M185.0 545.7h0M158.7 549.5h0M255.4 494.2h0M210.8 513.1h0M183.7 548.7h0M196.3 552.1h0M173.3 557.2h0M203.9 555.3h0M142.7 565.0h0M256.0 486.3h0M231.1 498.4h0M101.5 616.0h0M159.3 584.2h0M187.3 546.3h0M154.8 554.9h0M100.7 606.6h0M215.3 521.7h0M145.9 586.5h0M213.1 520.0h0M212.0 536.2h0M242.9 490.0h0M162.8 583.2h0M260.6 487.2h0M134.8 576.7h0M243.7 492.6h0M231.2 511.6h0M202.4 526.6h0M147.1 579.9h0M246.6 487.0h0M210.8 507.7h0M124.2 597.7h0M98.5 639.9h0M158.9 561.0h0M158.9 576.2h0M206.7 510.4h0M186.0 530.5h0M199.0 531.6h0M164.5 555.7h0M231.9 520.9h0M175.7 573.2h0M131.4 594.4h0M93.2 619.1h0M198.3 515.1h0M167.7 566.9h0M127.1 605.3h0M158.5 577.1h0M176.4 560.2h0M212.0 517.8h0M114.5 622.5h0M166.6 550.1h0M223.1 526.7h0M191.1 510.1h0M219.0 515.6h0M261.9 475.5h0M164.7 581.7h0M162.6 559.4h0M240.1 519.3h0M244.0 481.8h0M204.6 534.4h0M174.1 549.9h0M140.7 575.7h0M205.9 513.7h0M193.1 519.7h0M140.4 568.3h0M163.7 552.8h0M154.6 577.5h0M217.4 529.4h0M178.1 540.2h0M233.6 497.2h0M243.0 499.5h0M201.3 530.0h0M228.1 494.4h0M222.9 499.3h0M249.4 494.9h0M178.9 565.1h0M224.7 532.7h0M262.3 482.0h0M216.3 520.2h0M181.6 562.8h0M192.3 523.9h0M265.1 450.3h0M179.6 557.7h0M161.2 554.9h0M225.0 510.1h0M172.1 547.6h0M129.0 589.9h0M130.1 592.1h0M184.6 532.0h0M161.6 555.0h0M248.4 493.4h0M164.1 555.6h0M140.6 589.4h0M160.6 565.1h0M139.0 575.8h0M231.8 496.9h0M169.6 576.0h0M243.8 484.9h0M219.0 528.6h0M266.4 469.9h0M181.8 537.4h0M231.6 521.4h0M116.8 615.9h0M167.2 548.7h0M159.7 561.4h0M247.0 515.2h0M179.4 536.4h0M219.7 520.8h0M170.0 570.9h0M139.3 579.9h0M190.9 546.0h0M240.0 495.0h0M186.8 538.6h0M235.6 469.3h0M172.1 543.1h0M175.3 548.6h0M176.2 549.7h0M178.4 544.8h0M161.0 558.2h0M185.0 551.0h0M156.2 562.0h0M155.1 577.9h0M252.1 492.0h0M224.6 510.1h0M172.6 541.5h0M162.2 553.0h0M148.6 611.7h0M205.5 510.5h0M164.2 560.7h0M263.7 473.9h0M114.9 586.2h0M208.0 532.3h0M243.4 505.5h0M182.2 570.4h0M275.6 479.3h0M224.1 499.2h0M233.6 511.2h0M164.1 574.5h0M227.7 501.5h0M235.7 512.0h0M200.7 539.2h0M264.8 484.2h0M201.6 524.2h0M108.6 618.6h0M207.4 530.4h0M259.5 481.2h0M179.3 571.4h0M221.4 515.1h0M177.9 572.3h0M198.6 546.8h0M90.3 632.0h0M121.2 597.9h0M181.3 550.2h0M162.5 550.3h0M118.8 600.0h0M214.6 511.1h0M207.4 530.4h0M161.1 572.7h0M101.2 596.0h0M222.9 531.3h0M164.5 547.3h0M223.1 520.1h0M229.8 496.8h0M184.8 560.1h0M178.2 543.8h0M217.2 512.1h0M192.7 563.4h0M117.5 610.6h0M208.6 515.5h0M195.0 522.7h0M165.0 557.7h0M212.1 527.4h0M174.2 554.0h0M180.5 563.9h0M224.8 521.7h0M133.7 585.8h0M125.6 595.6h0M177.5 541.8h0M135.7 584.5h0M217.1 508.8h0M159.5 567.4h0M117.0 595.4h0M156.8 538.1h0M107.5 623.4h0M238.9 495.3h0M188.9 546.2h0M210.3 515.6h0M204.3 521.3h0M199.8 540.9h0M146.1 575.6h0M216.0 514.1h0M175.0 553.7h0M155.8 565.1h0M100.3 600.1h0M232.6 494.7h0M179.6 551.5h0M169.7 553.8h0M101.5 591.3h0M226.7 514.9h0M175.9 537.5h0M229.8 512.7h0M195.4 554.2h0M158.6 574.9h0M206.8 520.3h0M128.2 595.8h0M131.7 598.4h0M189.2 549.5h0M221.5 523.7h0M236.3 512.0h0M187.2 549.1h0M197.8 563.2h0M192.2 531.9h0M177.3 546.6h0M167.2 557.8h0M200.6 518.7h0M171.3 562.8h0M178.8 549.1h0M248.8 520.3h0M194.4 533.1h0M169.6 561.9h0M210.0 514.3h0M176.4 540.6h0M214.1 520.5h0M161.8 579.4h0M155.4 565.2h0M127.2 583.4h0M224.4 498.1h0M243.9 499.0h0M238.1 508.9h0M202.2 532.1h0M201.0 542.7h0M191.2 565.0h0M207.1 520.1h0M177.2 545.1h0M144.2 571.1h0M230.2 515.0h0M221.4 512.6h0M214.4 533.3h0M193.4 554.8h0M169.5 551.5h0M201.6 552.0h0M197.0 537.7h0M128.0 564.3h0M162.1 548.8h0M142.4 572.5h0M225.4 501.3h0M136.6 588.4h0M144.4 586.4h0M140.7 557.4h0M193.9 538.5h0M154.9 577.2h0M249.1 479.9h0M214.7 518.7h0M87.5 612.4h0M198.8 539.6h0M204.6 536.9h0M140.8 587.1h0M173.0 534.3h0M183.7 533.2h0M160.3 561.8h0M181.7 545.3h0M196.8 529.1h0M172.5 566.4h0M180.5 541.1h0M143.5 585.7h0M208.4 520.3h0M161.7 563.5h0M230.2 500.4h0M267.0 477.9h0M243.7 480.6h0M166.1 555.4h0M206.9 533.9h0M173.3 548.1h0M205.4 529.9h0M152.0 567.3h0M142.2 570.1h0M186.8 547.8h0M155.5 569.4h0M231.9 501.8h0M213.0 518.5h0M186.0 517.3h0M178.0 545.1h0M186.3 556.3h0M221.9 509.9h0M192.0 544.0h0M171.4 525.0h0M260.6 485.4h0M198.0 545.6h0M171.5 545.9h0M180.5 553.7h0M236.6 503.1h0M168.5 560.5h0M171.9 563.0h0M230.0 509.3h0M243.5 519.5h0M240.0 496.6h0M149.6 566.1h0M191.2 514.7h0M164.1 560.6h0M196.7 522.7h0M130.5 599.4h0M169.5 538.5h0M213.2 490.9h0M191.7 533.1h0M96.7 624.0h0M223.5 508.9h0M261.7 517.4h0M190.7 594.5h0M256.1 526.2h0M149.2 532.5h0M173.0 550.2h0M215.5 536.9h0M255.8 561.8h0M229.0 512.6h0M255.1 516.4h0M201.8 600.6h0M181.4 508.5h0M219.1 512.2h0M181.9 497.7h0M230.0 504.5h0M189.5 519.7h0M201.5 552.5h0M124.3 574.2h0M152.0 585.6h0M209.7 500.4h0M162.0 555.6h0M225.3 545.7h0M215.8 515.3h0M191.7 531.3h0M238.3 520.7h0M181.6 549.7h0M198.6 499.0h0M173.2 510.5h0M154.9 566.8h0M180.2 625.5h0M179.5 521.7h0M212.1 455.7h0M234.5 507.8h0M225.8 537.0h0M215.0 506.2h0M219.5 505.5h0M175.7 520.4h0M245.4 511.9h0M175.2 490.9h0M167.7 526.2h0M323.9 456.9h0M198.8 494.9h0M196.5 537.1h0M207.5 499.2h0M157.1 554.3h0M162.2 560.6h0M246.4 478.3h0M222.5 524.6h0M179.6 572.7h0M155.7 576.3h0M199.3 540.0h0M161.1 549.9h0M231.5 495.7h0M170.3 611.3h0M217.5 485.5h0M168.9 558.2h0M146.9 546.2h0M186.4 517.9h0M156.2 558.3h0M170.5 535.7h0M205.3 574.4h0M101.2 561.9h0M129.7 523.8h0M195.3 511.6h0M146.2 594.0h0M145.7 552.7h0M175.9 562.0h0M194.6 477.9h0M229.9 518.5h0M258.5 518.5h0M182.8 572.7h0M232.0 527.0h0M190.6 512.7h0M159.8 565.7h0M206.2 514.3h0M201.6 539.5h0M154.6 523.3h0M164.9 559.2h0M146.1 568.4h0M183.4 489.4h0M203.5 515.8h0M196.6 550.0h0M189.1 547.0h0M159.4 525.2h0M211.1 506.3h0M214.6 543.0h0M125.0 553.9h0M223.2 559.1h0M246.0 563.1h0M195.4 566.8h0M214.6 581.6h0M182.4 551.2h0M213.4 516.3h0M189.0 547.9h0M204.9 544.7h0M216.4 551.2h0M224.3 476.1h0M186.4 608.6h0M250.3 460.5h0M157.1 557.7h0M190.9 539.5h0M165.2 544.1h0M226.3 559.9h0M195.2 499.8h0M254.2 464.6h0M211.3 481.1h0M211.9 590.0h0M198.2 522.3h0M201.9 532.3h0M216.4 594.4h0M218.9 524.5h0M203.0 524.9h0M197.0 559.2h0M170.0 542.3h0M207.0 503.9h0M200.7 544.4h0M236.5 509.7h0M208.0 496.0h0M178.4 582.1h0M127.6 575.2h0M175.0 505.5h0M177.5 550.2h0M160.3 551.2h0M175.2 550.2h0M223.9 480.5h0M215.7 567.7h0M280.0 518.8h0M233.4 530.0h0M157.1 588.1h0M192.7 502.5h0M215.9 468.6h0M135.5 565.7h0M138.8 539.8h0M200.3 543.4h0M189.9 556.9h0M271.4 520.6h0M152.0 531.4h0M236.4 479.6h0M157.1 568.4h0M195.0 580.5h0M223.6 544.4h0M203.3 510.1h0M201.3 529.0h0M224.4 470.9h0M245.9 483.5h0M265.6 497.1h0M214.3 558.1h0M222.3 510.7h0M161.3 507.3h0M204.5 457.8h0M143.0 604.9h0M169.7 538.7h0M203.3 552.0h0M178.7 539.5h0M291.2 548.1h0M168.0 579.7h0M204.5 588.4h0M137.9 534.0h0M202.7 541.2h0M163.2 546.2h0M223.9 508.3h0M245.8 536.4h0M125.9 573.2h0M117.5 564.6h0M217.0 507.6h0M199.1 511.9h0M132.4 550.6h0M186.4 522.1h0M163.5 565.9h0M248.1 544.4h0M173.6 582.2h0M192.3 563.0h0M197.9 505.8h0M175.6 504.9h0M226.9 505.6h0M192.1 502.4h0M194.7 616.8h0M199.0 521.0h0M184.6 583.7h0M222.6 477.6h0M220.9 468.0h0M210.4 481.7h0M246.5 461.5h0M200.3 489.6h0M208.5 459.8h0M232.6 518.4h0M195.2 478.8h0M226.9 516.3h0M228.2 551.1h0M238.1 474.6h0M151.9 543.8h0M145.5 564.4h0M184.9 563.2h0M231.4 479.6h0M192.2 542.5h0M130.7 503.5h0M165.5 545.5h0M202.2 511.6h0M203.0 542.7h0M220.1 489.4h0M158.0 506.6h0M234.2 522.4h0M177.1 559.9h0M243.9 555.1h0M284.7 456.6h0M162.9 504.7h0M212.8 557.9h0M230.9 514.7h0M180.6 570.9h0M187.9 548.5h0M194.0 560.5h0M209.9 532.3h0M176.1 587.9h0M234.2 491.9h0M184.0 509.4h0M188.9 512.2h0M223.7 572.4h0M173.2 506.8h0M117.9 575.6h0M214.0 477.6h0M186.3 571.0h0M230.6 522.8h0M180.8 522.3h0M160.9 502.7h0M227.2 537.8h0M240.4 484.2h0M186.5 525.5h0M186.1 553.1h0M204.3 513.2h0M134.2 603.5h0M150.1 528.2h0M195.6 588.1h0M181.0 534.8h0M166.0 576.0h0M222.1 511.9h0M203.2 557.3h0M251.7 587.1h0M171.3 501.8h0M175.2 525.5h0M170.6 539.9h0M234.2 500.1h0M215.1 504.9h0M244.8 500.4h0M189.8 533.3h0M180.7 497.4h0M217.3 534.8h0M201.6 556.6h0M163.5 495.9h0M158.0 581.5h0M158.3 556.8h0M172.7 557.8h0M153.3 548.4h0M197.8 508.0h0M204.7 520.0h0M224.4 540.2h0M204.8 556.4h0M224.1 504.7h0M191.7 472.9h0M242.9 552.0h0M188.5 541.9h0M232.8 483.8h0M171.1 572.8h0M208.8 506.9h0M195.4 537.4h0M231.6 456.5h0M173.8 541.6h0M215.9 506.5h0M267.9 546.1h0M207.1 515.5h0M215.0 545.3h0M75.4 677.7h0M199.9 516.5h0M159.3 628.4h0M142.6 523.5h0M238.8 516.4h0M230.2 488.2h0M175.8 564.7h0M159.5 548.2h0M186.2 554.3h0M129.4 593.9h0M299.1 409.2h0M180.1 535.1h0M326.5 458.9h0M261.2 497.3h0M148.2 619.4h0M280.1 499.9h0M244.2 492.7h0M207.5 520.3h0M82.3 596.1h0M141.9 547.7h0M193.5 530.1h0M175.3 544.6h0M127.3 601.9h0M86.5 573.5h0M313.3 482.7h0M116.1 643.9h0M246.3 487.6h0M218.4 540.9h0M296.0 476.1h0M129.3 673.8h0M213.5 535.1h0M210.4 376.5h0M201.8 558.6h0M78.9 587.2h0M84.9 667.5h0M168.6 593.6h0M302.0 513.4h0M294.5 434.6h0M205.8 532.6h0M263.2 485.8h0M239.5 442.8h0M263.1 523.9h0M178.5 623.3h0M249.7 491.8h0M104.2 560.6h0M205.4 524.4h0M232.9 462.8h0M254.5 448.6h0M187.8 535.1h0M298.1 491.2h0M306.9 447.6h0M247.9 455.2h0M192.5 529.3h0M222.5 514.8h0M198.3 526.2h0M203.8 528.0h0M239.4 477.0h0M284.7 479.0h0M188.2 514.9h0M247.8 483.7h0M216.7 514.7h0M228.9 541.8h0M173.7 632.6h0M230.3 512.9h0M196.0 540.6h0M199.7 490.0h0M288.7 494.8h0M271.6 509.8h0M239.4 477.9h0M191.9 589.3h0M89.5 621.2h0M188.4 570.0h0M219.7 555.6h0M232.3 541.6h0M302.7 465.1h0M222.2 515.5h0M311.4 464.9h0M183.5 566.6h0M126.3 593.2h0M258.6 480.8h0M123.5 595.6h0M53.0 574.8h0M149.5 548.7h0M235.7 526.5h0M294.5 490.8h0M208.1 539.2h0M263.9 481.9h0M190.9 523.6h0M49.5 578.8h0M122.9 591.9h0M104.8 648.3h0M195.9 554.4h0M62.3 567.4h0M149.5 587.2h0M274.2 496.7h0M212.6 475.1h0M180.7 562.6h0M214.3 522.9h0M177.7 541.6h0M123.9 671.6h0M58.0 632.2h0M150.3 671.3h0M180.5 560.9h0M267.1 487.2h0M174.7 540.2h0M179.7 550.2h0M196.9 554.9h0M209.9 523.9h0M113.8 563.7h0M249.8 511.9h0M201.3 548.1h0M223.3 534.3h0M265.8 542.0h0M219.2 485.7h0M246.7 487.9h0M138.5 587.2h0M226.6 508.1h0M58.0 587.1h0M67.0 671.1h0M185.4 575.8h0M210.9 499.7h0M257.2 543.5h0M223.5 521.5h0M235.4 469.1h0M158.1 568.9h0M179.3 550.2h0M141.8 585.4h0M219.6 522.2h0M236.8 507.7h0M201.3 503.3h0M197.6 525.3h0M194.6 526.8h0M198.2 537.4h0M287.2 479.6h0M145.0 601.1h0M107.8 569.3h0M313.5 491.2h0M264.0 464.6h0M261.4 498.4h0M182.2 555.1h0M254.7 515.6h0M119.5 637.3h0M115.1 597.2h0M271.5 414.6h0M102.4 597.1h0M192.7 553.7h0M233.6 495.1h0M243.7 549.2h0M123.9 599.9h0M122.3 530.9h0M269.5 543.3h0M169.8 565.1h0M286.7 420.5h0M167.7 522.9h0M289.1 400.8h0M196.6 540.3h0M246.9 431.1h0M206.4 491.0h0M201.2 534.5h0M102.1 610.8h0M247.5 519.7h0M201.4 534.0h0M203.9 499.7h0M174.4 586.2h0M107.9 563.4h0M122.2 583.5h0M182.6 538.3h0M268.5 501.2h0M160.6 545.5h0M121.6 603.7h0M140.2 588.7h0M151.0 643.4h0M82.5 630.0h0M171.1 565.0h0M133.8 559.3h0M165.6 556.6h0M329.0 443.3h0M268.3 499.5h0M310.4 479.4h0M199.5 542.1h0M204.4 515.2h0M165.2 612.9h0M80.7 620.0h0M150.3 537.5h0M222.4 507.7h0M168.6 519.5h0M82.7 615.7h0M174.8 567.1h0M226.6 508.3h0M93.6 578.4h0M166.1 571.0h0M218.7 499.3h0M203.8 533.5h0M222.6 512.2h0M195.3 530.3h0M212.3 560.5h0M263.9 433.7h0M248.9 478.2h0M208.1 517.8h0M230.3 506.1h0M193.2 541.2h0M180.1 525.8h0M224.7 514.6h0M202.3 515.1h0M194.4 499.2h0M224.3 510.4h0M342.8 416.3h0M155.6 609.7h0M213.3 536.9h0M280.4 459.8h0M246.0 560.1h0M185.8 524.7h0M156.9 597.3h0M205.9 539.4h0M151.9 574.6h0M237.2 438.0h0M237.0 501.8h0M168.3 536.9h0M310.3 507.3h0M144.4 606.8h0M127.5 566.5h0M272.3 518.4h0M247.7 552.3h0M139.4 617.7h0M156.4 584.6h0M185.8 549.7h0M146.5 559.3h0M207.6 516.1h0M195.2 544.2h0M227.0 501.1h0M195.2 538.6h0M223.1 514.6h0M182.2 572.7h0M218.7 505.6h0M227.7 521.0h0M230.2 476.7h0M239.8 535.2h0M159.5 541.2h0M203.3 548.1h0M282.9 458.2h0M192.6 562.3h0M210.4 538.9h0M294.8 434.0h0M269.3 530.3h0M233.8 483.3h0M103.5 542.0h0M127.2 571.3h0M235.2 538.7h0M331.2 404.5h0M84.4 642.0h0M84.1 626.6h0M238.7 506.1h0M205.2 508.3h0M101.5 553.5h0M256.7 482.1h0M197.5 508.8h0M172.3 568.8h0M171.8 515.9h0M174.9 580.4h0M230.4 532.3h0M156.9 581.3h0M105.8 579.7h0M133.8 557.3h0M240.7 536.4h0M272.2 472.2h0M148.9 563.7h0M79.6 534.9h0M220.5 522.9h0M304.7 511.2h0M191.5 578.9h0M309.5 464.1h0M137.1 568.7h0M293.2 456.0h0M247.1 500.6h0M107.9 656.2h0M235.0 507.8h0M181.7 546.1h0M161.1 516.3h0M150.3 577.4h0M205.8 542.0h0M160.9 579.3h0M208.3 529.3h0M314.9 529.4h0M295.9 466.3h0M272.5 474.6h0M257.0 487.3h0M240.5 526.4h0M186.3 548.4h0M118.4 591.6h0M253.2 465.1h0M164.4 554.8h0M222.4 538.7h0M91.4 593.4h0M208.9 489.6h0M301.5 471.6h0M212.7 564.4h0M245.9 471.0h0M177.3 531.2h0M208.1 525.0h0M170.8 566.9h0M212.7 504.1h0M230.9 509.0h0M239.7 506.7h0M311.7 440.9h0M242.7 465.0h0M227.4 507.8h0M171.1 591.1h0M104.2 605.3h0M166.9 549.5h0M171.8 569.7h0M257.8 461.3h0M227.8 524.2h0M221.8 490.2h0M151.3 549.8h0M268.9 478.3h0M156.2 552.9h0M163.0 658.7h0M197.7 506.3h0M171.4 581.1h0M204.7 541.5h0M228.1 521.2h0M152.6 611.8h0M195.4 536.2h0M303.5 475.3h0M182.5 549.5h0M173.3 533.2h0M156.8 560.3h0M230.3 525.1h0M239.4 511.3h0M157.6 602.1h0M199.5 516.8h0M352.2 487.5h0M105.2 643.5h0M240.6 448.1h0M270.8 496.4h0M97.5 619.3h0M80.2 615.6h0M185.5 593.2h0M295.9 461.1h0M143.2 554.9h0M199.6 530.7h0M202.0 522.1h0M200.4 547.3h0M343.1 435.4h0M222.4 524.1h0M123.1 603.2h0M234.6 536.2h0M255.4 513.3h0M119.7 586.7h0M218.4 531.8h0M151.8 560.8h0M79.1 571.5h0M134.9 582.4h0M255.9 492.8h0M181.6 537.5h0M116.0 659.7h0M259.3 507.9h0M189.7 566.0h0M92.9 558.9h0M157.2 571.5h0M220.5 524.4h0M146.2 589.1h0M114.0 595.6h0M154.1 584.1h0M211.4 517.5h0M293.8 475.9h0M204.0 534.0h0M294.3 477.1h0M174.9 524.6h0M223.1 519.8h0M259.7 467.7h0M233.6 495.7h0M299.3 501.9h0M157.7 610.8h0M181.5 549.9h0M191.8 521.9h0M216.1 506.0h0M241.9 505.8h0M277.7 492.0h0M174.8 560.1h0M132.7 599.5h0M186.6 579.1h0M198.5 559.8h0M170.3 560.7h0M103.8 549.1h0M259.0 485.0h0M303.0 522.6h0M292.4 508.0h0M257.2 495.9h0M252.0 522.0h0M166.5 556.6h0M180.9 566.7h0M228.4 528.5h0M116.1 686.3h0M212.6 516.0h0M59.8 638.6h0M322.2 428.8h0M235.2 490.4h0M159.3 572.4h0M188.3 524.6h0M178.4 578.5h0M293.2 434.2h0M288.9 487.0h0M210.0 532.7h0M174.7 572.2h0M234.7 493.6h0M216.9 516.7h0M188.7 525.5h0M177.1 575.6h0M92.5 616.7h0M131.3 636.9h0M143.2 565.4h0M54.9 585.5h0M153.8 606.7h0M298.1 406.5h0M208.9 539.6h0M226.9 470.4h0M157.8 563.9h0M283.7 449.4h0M218.0 536.6h0M230.4 460.2h0M281.4 478.3h0M237.0 516.1h0M310.2 399.6h0M151.2 601.1h0M180.1 553.9h0M240.3 512.1h0M199.0 543.9h0M218.7 492.4h0M188.8 559.9h0M202.5 498.6h0M150.6 545.6h0M150.5 585.7h0M52.9 621.0h0M207.8 477.4h0M315.7 477.5h0M206.1 534.8h0M308.2 494.4h0M64.0 555.0h0M177.5 531.8h0M195.5 547.9h0M254.4 496.6h0M197.0 523.2h0M241.3 508.0h0M276.8 422.8h0M123.3 594.1h0M180.5 526.6h0M222.7 506.8h0M150.4 566.3h0M231.7 520.6h0M71.0 621.9h0M114.7 572.3h0M195.8 564.6h0M60.1 617.3h0M304.6 404.0h0M278.4 456.4h0M260.7 492.1h0M281.6 506.4h0M188.3 557.4h0M185.1 548.9h0M91.9 685.6h0M261.8 481.1h0M188.9 547.6h0M72.4 654.6h0M119.9 555.9h0M230.1 502.8h0M68.8 603.3h0M183.4 587.3h0M173.5 571.9h0M178.0 522.4h0M155.4 591.1h0M216.9 498.7h0M146.6 527.0h0M335.3 495.8h0M260.8 491.6h0M292.3 489.7h0M76.8 563.2h0M94.0 543.3h0M215.4 511.6h0M219.8 491.9h0M166.8 572.1h0M190.6 557.9h0M118.6 576.1h0M167.4 566.1h0M214.0 501.6h0M303.1 463.2h0M217.3 482.5h0M260.5 488.2h0M200.4 528.6h0M219.6 490.7h0M261.2 476.5h0M109.6 555.4h0M275.5 492.9h0M251.0 515.0h0M251.0 458.8h0M221.2 501.7h0M158.5 580.0h0M179.5 572.3h0M203.1 536.2h0M143.6 584.5h0M169.4 585.5h0M169.9 577.4h0M117.9 578.3h0M100.7 569.6h0M160.1 531.5h0M163.5 582.5h0M312.0 492.6h0M189.5 530.0h0M191.9 541.5h0M241.6 476.9h0M181.5 530.5h0M195.9 539.1h0M281.1 476.9h0M292.1 516.7h0M196.0 563.3h0M91.7 591.4h0M125.2 535.4h0M256.6 530.9h0M123.7 671.4h0M179.7 558.4h0M186.5 530.9h0M141.4 673.2h0M281.6 472.7h0M165.7 533.3h0M150.3 687.1h0M151.2 616.9h0M218.2 503.6h0M269.7 436.2h0M225.2 528.6h0M201.8 515.6h0M174.7 535.3h0M347.2 492.6h0M291.3 471.2h0M105.5 643.1h0M200.3 534.9h0M235.2 501.2h0M194.1 556.5h0M251.2 536.9h0M264.2 523.3h0M160.2 612.1h0M294.1 474.0h0M200.0 516.8h0M284.2 491.2h0M224.1 527.8h0M195.3 543.2h0M277.3 446.6h0M225.8 516.2h0M310.1 452.9h0M250.3 513.6h0M152.1 585.9h0M194.3 518.9h0M146.4 576.6h0M102.5 569.5h0M207.0 519.1h0M94.3 611.7h0M204.5 555.3h0M295.1 473.6h0M248.2 520.5h0M149.0 549.5h0M177.1 544.4h0M242.6 490.9h0M313.9 459.9h0M167.0 533.1h0M222.5 546.5h0M223.4 498.8h0M188.6 548.5h0M233.9 528.6h0M223.8 528.4h0M293.4 469.2h0M154.5 563.5h0M194.1 520.2h0M229.1 525.0h0M161.3 589.1h0M164.4 540.5h0M187.3 525.9h0M126.7 646.1h0M174.2 572.5h0M117.2 592.4h0M167.6 568.0h0M142.6 561.9h0M174.6 573.7h0M257.0 510.6h0M221.6 398.8h0M238.2 472.0h0M118.2 550.4h0M215.5 513.0h0M128.1 623.3h0M220.9 487.9h0M225.5 470.2h0M175.9 556.3h0M201.0 534.3h0M245.5 482.6h0M249.8 499.3h0M180.5 589.9h0M137.9 564.0h0M65.0 606.2h0M193.6 576.9h0M132.0 539.6h0M203.7 544.7h0M252.1 525.7h0M126.6 640.3h0M147.0 579.4h0M174.5 556.2h0M136.5 678.6h0M182.0 545.5h0M157.9 557.7h0M228.3 526.5h0M277.0 541.0h0M262.4 520.5h0M186.5 559.0h0M205.9 515.4h0M214.6 530.3h0M262.5 474.5h0M179.4 550.3h0M149.8 583.7h0M195.6 522.2h0M246.7 457.3h0M198.1 510.9h0M204.6 528.4h0M170.2 598.9h0M237.9 542.6h0M220.4 533.4h0M137.8 601.5h0M258.1 524.2h0M184.9 585.1h0M71.4 672.2h0M187.9 552.4h0M238.8 519.9h0M205.9 489.5h0M196.6 521.0h0M202.7 551.7h0M229.3 489.0h0M237.9 510.8h0M102.2 670.3h0M158.5 589.8h0M180.9 508.1h0M191.3 542.4h0M269.1 513.4h0M270.5 491.6h0M199.4 522.0h0M169.6 557.2h0M325.4 460.2h0M158.0 605.7h0M194.8 549.6h0M241.0 505.4h0M232.1 499.2h0M191.9 532.7h0M284.4 479.3h0M214.5 515.1h0M175.4 542.2h0M302.6 504.1h0M345.3 455.3h0M227.9 523.1h0M125.1 562.3h0M222.8 519.6h0M149.0 584.0h0M270.3 492.7h0M168.2 529.7h0M241.3 517.5h0M208.2 537.8h0M252.0 489.7h0M69.0 654.7h0M205.4 500.9h0M199.6 512.8h0M214.0 516.3h0M106.5 622.3h0M293.1 466.2h0M133.7 548.3h0M224.2 505.0h0M154.2 554.1h0M206.6 572.7h0M181.7 577.1h0M95.8 632.8h0M145.4 560.5h0M275.8 452.5h0M120.7 597.5h0M220.4 545.2h0M80.0 632.8h0M290.9 499.1h0M159.0 673.5h0M141.3 623.9h0M190.6 547.9h0M233.5 504.9h0M94.9 590.6h0M189.2 538.3h0M235.7 507.9h0M201.5 537.9h0M147.9 579.4h0M243.1 528.1h0M263.2 462.5h0M266.8 443.6h0M71.7 614.8h0M299.4 479.4h0M273.5 484.6h0M219.6 519.0h0M246.8 498.4h0M330.8 538.0h0M190.4 559.4h0M75.5 555.9h0M179.6 547.1h0M224.0 475.1h0M168.5 573.9h0M178.2 597.0h0M121.9 613.9h0M241.4 511.8h0M143.5 612.7h0M172.5 531.9h0M127.6 548.8h0M307.3 485.7h0M232.6 438.7h0M331.5 380.3h0M170.2 593.9h0M114.0 566.8h0M213.2 514.7h0M107.2 611.3h0M186.1 584.9h0M240.2 490.5h0M208.1 536.9h0M228.0 453.6h0M165.9 594.5h0M186.3 581.2h0M185.3 535.8h0M279.1 513.7h0M247.4 441.4h0M305.4 494.4h0M199.7 519.9h0M166.3 591.8h0M177.0 563.5h0M197.6 530.8h0M114.7 641.7h0M124.2 571.6h0M103.2 654.9h0M203.6 500.1h0M205.0 511.1h0M166.6 618.9h0M229.1 440.7h0M202.1 524.5h0M196.8 547.7h0M241.5 493.6h0M220.9 513.7h0M112.4 574.4h0M140.9 555.9h0M74.9 581.0h0M260.4 522.6h0M188.5 535.9h0M274.3 499.4h0M175.5 600.6h0M136.8 619.7h0M299.7 501.3h0M251.1 482.7h0M109.6 624.3h0M266.5 470.9h0M152.1 575.0h0M302.9 452.2h0M227.5 499.8h0M169.4 580.6h0M183.8 547.7h0M188.4 543.7h0M261.7 516.2h0M174.5 546.6h0M241.5 482.7h0M245.6 492.9h0M197.9 528.8h0M146.3 622.9h0M340.9 435.2h0M235.2 466.0h0M99.7 544.0h0M136.6 568.6h0M215.9 475.2h0M276.9 385.6h0M206.0 472.5h0M160.0 545.7h0M343.8 459.9h0M155.9 562.7h0M263.7 431.4h0M254.9 507.2h0M190.1 538.9h0M169.9 579.5h0M168.2 572.9h0M207.0 544.9h0M268.9 428.9h0M199.2 541.1h0M138.3 579.6h0M281.8 449.7h0M278.0 486.0h0M214.0 538.0h0M301.3 484.0h0M222.7 534.0h0M326.2 435.1h0M196.8 543.4h0M132.7 553.4h0M174.1 561.7h0M203.1 520.1h0M218.4 534.1h0M186.0 592.4h0M168.9 566.9h0M91.2 581.9h0M149.9 547.8h0M283.2 412.7h0M189.6 547.4h0M140.8 596.1h0M152.4 568.5h0M153.1 583.0h0M185.7 533.9h0M127.6 564.8h0M261.4 450.9h0M156.5 596.6h0M165.5 530.5h0M350.0 513.9h0M197.9 537.7h0M300.6 483.8h0M185.3 544.8h0M259.2 499.0h0M316.9 381.2h0M151.4 602.6h0M225.7 495.3h0M148.8 623.5h0M195.4 535.6h0M148.0 565.7h0M197.9 517.4h0M144.4 631.9h0M215.1 476.7h0M212.7 537.2h0M297.7 476.0h0M213.4 525.3h0M192.8 514.8h0M127.9 568.8h0M78.0 580.6h0M195.4 513.0h0M109.4 589.0h0M302.8 469.5h0M267.7 423.5h0M222.4 490.4h0M278.8 463.6h0M206.7 555.4h0M169.9 573.7h0M185.9 552.9h0M268.4 443.7h0M98.9 528.2h0M225.1 511.2h0M252.7 482.1h0M62.1 602.8h0M51.2 568.4h0M183.6 613.1h0M178.9 560.7h0M189.7 517.6h0M147.1 578.0h0M175.5 608.8h0M117.0 581.5h0M154.2 623.7h0M212.5 502.5h0M148.5 548.3h0M131.7 605.7h0M143.4 631.0h0M134.3 570.0h0M98.6 638.3h0M213.4 526.7h0M232.4 521.3h0M119.0 624.6h0M173.7 581.1h0M161.7 543.8h0M234.9 470.7h0M160.6 593.3h0M188.2 570.8h0M112.2 576.3h0M106.5 561.7h0M143.1 562.8h0M261.3 456.8h0M221.1 514.5h0M218.9 522.6h0M113.9 645.6h0M132.6 592.6h0M280.0 527.9h0M187.1 519.9h0M299.7 503.4h0M195.4 530.5h0M231.6 499.2h0M206.0 528.1h0M236.2 506.4h0M233.4 524.7h0M285.2 486.8h0M151.9 551.7h0M175.0 538.2h0M172.0 597.1h0M196.8 534.3h0M253.1 535.6h0M203.3 530.1h0M64.8 644.3h0M171.8 598.6h0M141.1 541.9h0M190.5 570.1h0M135.9 549.5h0M191.9 577.3h0M250.4 471.2h0M268.2 534.7h0M313.5 474.9h0M124.2 669.7h0M121.2 587.9h0M131.7 629.1h0M275.0 486.9h0M245.3 493.3h0M173.0 584.1h0M169.7 574.8h0M214.7 516.7h0M316.2 492.2h0M300.9 443.0h0" stroke="#0a0a0a" stroke-width="2.2" stroke-linecap="round" fill="none"/>
<line x1="39.90" y1="14.95" x2="39.90" y2="333.25" stroke="#000" stroke-width="1.3" />
<line x1="39.90" y1="15.50" x2="356.50" y2="15.50" stroke="#000" stroke-width="1.3" />
<line x1="356.50" y1="14.95" x2="356.50" y2="333.25" stroke="#000" stroke-width="1.3" />
<line x1="39.90" y1="332.70" x2="356.50" y2="332.70" stroke="#000" stroke-width="1.3" />
<line x1="35.10" y1="14.80" x2="39.90" y2="14.80" stroke="#000" stroke-width="1.3" />
<text transform="translate(33.80,21.70) rotate(0.03)" font-size="11.25" text-anchor="end" >10K</text>
<line x1="35.10" y1="89.65" x2="39.90" y2="89.65" stroke="#000" stroke-width="1.3" />
<text transform="translate(34.40,93.65) rotate(0.03)" font-size="11.25" text-anchor="end" >1K</text>
<line x1="35.10" y1="164.50" x2="39.90" y2="164.50" stroke="#000" stroke-width="1.3" />
<text transform="translate(34.40,168.50) rotate(0.03)" font-size="11.25" text-anchor="end" >100</text>
<line x1="35.10" y1="239.35" x2="39.90" y2="239.35" stroke="#000" stroke-width="1.3" />
<text transform="translate(34.40,243.35) rotate(0.03)" font-size="11.25" text-anchor="end" >10</text>
<line x1="35.10" y1="314.20" x2="39.90" y2="314.20" stroke="#000" stroke-width="1.3" />
<text transform="translate(34.80,318.20) rotate(0.03)" font-size="11.25" text-anchor="end" >1</text>
<line x1="71.60" y1="332.70" x2="71.60" y2="337.50" stroke="#000" stroke-width="1.3" />
<text transform="translate(71.70,347.40) rotate(0.03)" font-size="11.25" text-anchor="middle" >0.1</text>
<line x1="123.82" y1="332.70" x2="123.82" y2="337.50" stroke="#000" stroke-width="1.3" />
<text transform="translate(123.92,347.40) rotate(0.03)" font-size="11.25" text-anchor="middle" >1</text>
<line x1="176.04" y1="332.70" x2="176.04" y2="337.50" stroke="#000" stroke-width="1.3" />
<text transform="translate(176.14,347.40) rotate(0.03)" font-size="11.25" text-anchor="middle" >10</text>
<line x1="228.26" y1="332.70" x2="228.26" y2="337.50" stroke="#000" stroke-width="1.3" />
<text transform="translate(228.36,347.40) rotate(0.03)" font-size="11.25" text-anchor="middle" >100</text>
<line x1="280.48" y1="332.70" x2="280.48" y2="337.50" stroke="#000" stroke-width="1.3" />
<text transform="translate(280.58,347.40) rotate(0.03)" font-size="11.25" text-anchor="middle" >1K</text>
<line x1="332.70" y1="332.70" x2="332.70" y2="337.50" stroke="#000" stroke-width="1.3" />
<text transform="translate(332.80,347.40) rotate(0.03)" font-size="11.25" text-anchor="middle" >10K</text>
<text transform="translate(0.60,12.00) rotate(0.03)" font-size="17.5" text-anchor="start" font-weight="bold">a</text>
<text transform="translate(125.70,361.80) rotate(0.03)" font-size="12.4" text-anchor="start" >RNA-seq signal (FPKM)</text>
<text transform="translate(275.30,320.30) rotate(0.03)" font-size="13" text-anchor="start" >Sporangia</text>
<text transform="translate(68.2,74.0) rotate(0.03)" font-size="13.5" letter-spacing="1.25"><tspan font-style="italic">R</tspan>=0.37</text>
<text transform="translate(10.2,222.0) rotate(-90)" font-size="12.6">Microarray signal</text>
<line x1="39.90" y1="372.35" x2="39.90" y2="694.80" stroke="#000" stroke-width="1.3" />
<line x1="39.90" y1="372.90" x2="356.30" y2="372.90" stroke="#000" stroke-width="1.3" />
<line x1="356.30" y1="372.35" x2="356.30" y2="694.80" stroke="#000" stroke-width="1.3" />
<line x1="34.80" y1="690.00" x2="356.30" y2="690.00" stroke="#000" stroke-width="1.3" />
<line x1="35.10" y1="372.90" x2="39.90" y2="372.90" stroke="#000" stroke-width="1.3" />
<text transform="translate(33.00,376.50) rotate(0.03)" font-size="11.25" text-anchor="end" >1K</text>
<line x1="35.10" y1="425.75" x2="39.90" y2="425.75" stroke="#000" stroke-width="1.3" />
<text transform="translate(33.50,429.35) rotate(0.03)" font-size="11.25" text-anchor="end" >100</text>
<line x1="35.10" y1="478.60" x2="39.90" y2="478.60" stroke="#000" stroke-width="1.3" />
<text transform="translate(33.50,482.20) rotate(0.03)" font-size="11.25" text-anchor="end" >10</text>
<line x1="35.10" y1="531.45" x2="39.90" y2="531.45" stroke="#000" stroke-width="1.3" />
<text transform="translate(34.30,535.05) rotate(0.03)" font-size="11.25" text-anchor="end" >1</text>
<line x1="35.10" y1="584.30" x2="39.90" y2="584.30" stroke="#000" stroke-width="1.3" />
<text transform="translate(33.50,587.90) rotate(0.03)" font-size="11.25" text-anchor="end" >0.1</text>
<line x1="35.10" y1="637.15" x2="39.90" y2="637.15" stroke="#000" stroke-width="1.3" />
<text transform="translate(33.50,640.75) rotate(0.03)" font-size="11.25" text-anchor="end" >0.01</text>
<text transform="translate(33.50,693.60) rotate(0.03)" font-size="11.25" text-anchor="end" >0.001</text>
<text transform="translate(30.60,706.60) rotate(0.03)" font-size="11.25" text-anchor="start" >0.001</text>
<line x1="92.23" y1="690.00" x2="92.23" y2="694.80" stroke="#000" stroke-width="1.3" />
<text transform="translate(92.63,706.80) rotate(0.03)" font-size="11.25" text-anchor="middle" >0.01</text>
<line x1="144.97" y1="690.00" x2="144.97" y2="694.80" stroke="#000" stroke-width="1.3" />
<text transform="translate(145.37,706.80) rotate(0.03)" font-size="11.25" text-anchor="middle" >0.1</text>
<line x1="197.70" y1="690.00" x2="197.70" y2="694.80" stroke="#000" stroke-width="1.3" />
<text transform="translate(198.10,706.80) rotate(0.03)" font-size="11.25" text-anchor="middle" >1</text>
<line x1="250.43" y1="690.00" x2="250.43" y2="694.80" stroke="#000" stroke-width="1.3" />
<text transform="translate(250.83,706.80) rotate(0.03)" font-size="11.25" text-anchor="middle" >10</text>
<line x1="303.17" y1="690.00" x2="303.17" y2="694.80" stroke="#000" stroke-width="1.3" />
<text transform="translate(303.57,706.80) rotate(0.03)" font-size="11.25" text-anchor="middle" >100</text>
<text transform="translate(357.60,706.80) rotate(0.03)" font-size="11.25" text-anchor="end" >1K</text>
<g style="mix-blend-mode:difference"><line x1="197.40" y1="376.7" x2="197.40" y2="689.00" stroke="#fff" stroke-width="1.5" stroke-dasharray="7.2 6.52"/><line x1="42.6" y1="531.15" x2="351" y2="531.15" stroke="#fff" stroke-width="1.5" stroke-dasharray="7.1 6.56"/></g>
<text transform="translate(0.40,370.60) rotate(0.03)" font-size="19" text-anchor="start" font-weight="bold">b</text>
<text transform="translate(108.40,724.80) rotate(0.03)" font-size="12.4" text-anchor="start" >Sporangia/mycelia ratio, RNA-seq</text>
<text transform="translate(68.2,431.0) rotate(0.03)" font-size="13.5" letter-spacing="1.25"><tspan font-style="italic">R</tspan>=0.63</text>
<text transform="translate(10.4,626.6) rotate(-90)" font-size="12.5">Sporangia/mycelia ratio, microarray</text></svg>
</body></html>
